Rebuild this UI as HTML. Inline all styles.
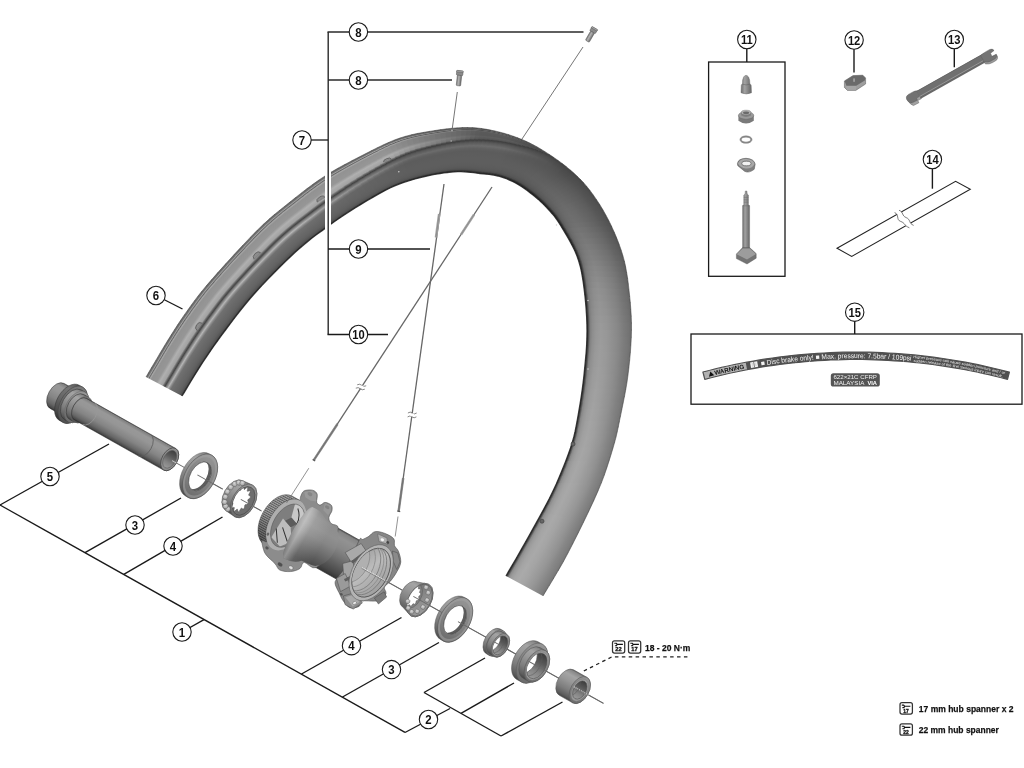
<!DOCTYPE html>
<html><head><meta charset="utf-8"><title>Wheel exploded view</title>
<style>
html,body{margin:0;padding:0;background:#fff;}
body{width:1024px;height:768px;overflow:hidden;font-family:"Liberation Sans",sans-serif;}
svg{display:block}
text{font-family:"Liberation Sans",sans-serif;}

</style></head><body>
<svg width="1024" height="768" viewBox="0 0 1024 768">
<defs>
<filter id="nf" filterUnits="userSpaceOnUse" x="0" y="0" width="1024" height="768" color-interpolation-filters="sRGB"><feOffset dx="0" dy="0"/></filter>
<linearGradient id="r0" gradientUnits="userSpaceOnUse" x1="147.2" y1="374.9" x2="182.1" y2="395.8"><stop offset="0.000" stop-color="#5c5c5c"/><stop offset="0.036" stop-color="#747474"/><stop offset="0.060" stop-color="#a2a2a2"/><stop offset="0.081" stop-color="#666666"/><stop offset="0.106" stop-color="#a8a8a8"/><stop offset="0.140" stop-color="#929292"/><stop offset="0.286" stop-color="#969696"/><stop offset="0.353" stop-color="#b0b0b0"/><stop offset="0.449" stop-color="#a2a2a2"/><stop offset="0.488" stop-color="#646464"/><stop offset="0.519" stop-color="#464646"/><stop offset="0.519" stop-color="#464646"/><stop offset="0.534" stop-color="#5c5c5c"/><stop offset="0.553" stop-color="#7a7a7a"/><stop offset="0.604" stop-color="#b6b6b6"/><stop offset="0.644" stop-color="#8a8a8a"/><stop offset="0.683" stop-color="#707070"/><stop offset="0.784" stop-color="#696969"/><stop offset="0.851" stop-color="#656565"/><stop offset="0.904" stop-color="#606060"/><stop offset="0.942" stop-color="#585858"/><stop offset="0.966" stop-color="#505050"/><stop offset="0.983" stop-color="#3c3c3c"/><stop offset="1.000" stop-color="#2c2c2c"/></linearGradient>
<linearGradient id="r1" gradientUnits="userSpaceOnUse" x1="150.1" y1="370" x2="185.1" y2="390.9"><stop offset="0.000" stop-color="#5c5c5c"/><stop offset="0.036" stop-color="#747474"/><stop offset="0.060" stop-color="#a2a2a2"/><stop offset="0.080" stop-color="#666666"/><stop offset="0.106" stop-color="#a8a8a8"/><stop offset="0.140" stop-color="#929292"/><stop offset="0.285" stop-color="#969696"/><stop offset="0.352" stop-color="#b0b0b0"/><stop offset="0.448" stop-color="#a2a2a2"/><stop offset="0.487" stop-color="#646464"/><stop offset="0.518" stop-color="#464646"/><stop offset="0.518" stop-color="#464646"/><stop offset="0.533" stop-color="#5c5c5c"/><stop offset="0.552" stop-color="#7a7a7a"/><stop offset="0.603" stop-color="#b6b6b6"/><stop offset="0.644" stop-color="#8a8a8a"/><stop offset="0.682" stop-color="#707070"/><stop offset="0.783" stop-color="#696969"/><stop offset="0.851" stop-color="#656565"/><stop offset="0.904" stop-color="#606060"/><stop offset="0.942" stop-color="#585858"/><stop offset="0.966" stop-color="#505050"/><stop offset="0.983" stop-color="#3c3c3c"/><stop offset="1.000" stop-color="#2c2c2c"/></linearGradient>
<linearGradient id="r2" gradientUnits="userSpaceOnUse" x1="153.8" y1="363.8" x2="188.9" y2="384.7"><stop offset="0.000" stop-color="#5c5c5c"/><stop offset="0.036" stop-color="#747474"/><stop offset="0.059" stop-color="#a2a2a2"/><stop offset="0.080" stop-color="#666666"/><stop offset="0.106" stop-color="#a8a8a8"/><stop offset="0.140" stop-color="#929292"/><stop offset="0.284" stop-color="#969696"/><stop offset="0.352" stop-color="#b0b0b0"/><stop offset="0.447" stop-color="#a2a2a2"/><stop offset="0.486" stop-color="#646464"/><stop offset="0.517" stop-color="#464646"/><stop offset="0.517" stop-color="#464646"/><stop offset="0.532" stop-color="#5c5c5c"/><stop offset="0.551" stop-color="#7a7a7a"/><stop offset="0.602" stop-color="#b6b6b6"/><stop offset="0.643" stop-color="#8a8a8a"/><stop offset="0.681" stop-color="#707070"/><stop offset="0.783" stop-color="#696969"/><stop offset="0.850" stop-color="#656565"/><stop offset="0.903" stop-color="#606060"/><stop offset="0.942" stop-color="#585858"/><stop offset="0.966" stop-color="#505050"/><stop offset="0.983" stop-color="#3c3c3c"/><stop offset="1.000" stop-color="#2c2c2c"/></linearGradient>
<linearGradient id="r3" gradientUnits="userSpaceOnUse" x1="157.9" y1="356.8" x2="193" y2="377.9"><stop offset="0.000" stop-color="#5c5c5c"/><stop offset="0.036" stop-color="#747474"/><stop offset="0.059" stop-color="#a2a2a2"/><stop offset="0.080" stop-color="#666666"/><stop offset="0.106" stop-color="#a8a8a8"/><stop offset="0.139" stop-color="#929292"/><stop offset="0.284" stop-color="#969696"/><stop offset="0.351" stop-color="#b0b0b0"/><stop offset="0.446" stop-color="#a2a2a2"/><stop offset="0.485" stop-color="#646464"/><stop offset="0.516" stop-color="#464646"/><stop offset="0.516" stop-color="#464646"/><stop offset="0.531" stop-color="#5c5c5c"/><stop offset="0.550" stop-color="#7a7a7a"/><stop offset="0.601" stop-color="#b6b6b6"/><stop offset="0.642" stop-color="#8a8a8a"/><stop offset="0.681" stop-color="#707070"/><stop offset="0.782" stop-color="#696969"/><stop offset="0.850" stop-color="#656565"/><stop offset="0.903" stop-color="#606060"/><stop offset="0.942" stop-color="#585858"/><stop offset="0.966" stop-color="#505050"/><stop offset="0.983" stop-color="#3c3c3c"/><stop offset="1.000" stop-color="#2c2c2c"/></linearGradient>
<linearGradient id="r4" gradientUnits="userSpaceOnUse" x1="162.1" y1="349.7" x2="197.2" y2="371.1"><stop offset="0.000" stop-color="#5c5c5c"/><stop offset="0.036" stop-color="#747474"/><stop offset="0.059" stop-color="#a2a2a2"/><stop offset="0.080" stop-color="#666666"/><stop offset="0.106" stop-color="#a8a8a8"/><stop offset="0.139" stop-color="#929292"/><stop offset="0.283" stop-color="#969696"/><stop offset="0.350" stop-color="#b0b0b0"/><stop offset="0.445" stop-color="#a2a2a2"/><stop offset="0.484" stop-color="#646464"/><stop offset="0.515" stop-color="#464646"/><stop offset="0.515" stop-color="#464646"/><stop offset="0.530" stop-color="#5c5c5c"/><stop offset="0.549" stop-color="#7a7a7a"/><stop offset="0.600" stop-color="#b6b6b6"/><stop offset="0.641" stop-color="#8a8a8a"/><stop offset="0.680" stop-color="#707070"/><stop offset="0.782" stop-color="#696969"/><stop offset="0.850" stop-color="#656565"/><stop offset="0.903" stop-color="#606060"/><stop offset="0.942" stop-color="#585858"/><stop offset="0.966" stop-color="#505050"/><stop offset="0.983" stop-color="#3c3c3c"/><stop offset="1.000" stop-color="#2c2c2c"/></linearGradient>
<linearGradient id="r5" gradientUnits="userSpaceOnUse" x1="166.1" y1="343.1" x2="201" y2="365"><stop offset="0.000" stop-color="#5c5c5c"/><stop offset="0.036" stop-color="#747474"/><stop offset="0.059" stop-color="#a2a2a2"/><stop offset="0.080" stop-color="#666666"/><stop offset="0.105" stop-color="#a8a8a8"/><stop offset="0.139" stop-color="#929292"/><stop offset="0.283" stop-color="#969696"/><stop offset="0.349" stop-color="#b0b0b0"/><stop offset="0.445" stop-color="#a2a2a2"/><stop offset="0.483" stop-color="#646464"/><stop offset="0.514" stop-color="#464646"/><stop offset="0.514" stop-color="#464646"/><stop offset="0.528" stop-color="#5c5c5c"/><stop offset="0.548" stop-color="#7a7a7a"/><stop offset="0.599" stop-color="#b6b6b6"/><stop offset="0.640" stop-color="#8a8a8a"/><stop offset="0.679" stop-color="#707070"/><stop offset="0.781" stop-color="#696969"/><stop offset="0.849" stop-color="#656565"/><stop offset="0.903" stop-color="#606060"/><stop offset="0.942" stop-color="#585858"/><stop offset="0.966" stop-color="#505050"/><stop offset="0.983" stop-color="#3c3c3c"/><stop offset="1.000" stop-color="#2c2c2c"/></linearGradient>
<linearGradient id="r6" gradientUnits="userSpaceOnUse" x1="169.7" y1="337.3" x2="204.5" y2="359.8"><stop offset="0.000" stop-color="#5c5c5c"/><stop offset="0.036" stop-color="#747474"/><stop offset="0.059" stop-color="#a2a2a2"/><stop offset="0.079" stop-color="#666666"/><stop offset="0.105" stop-color="#a8a8a8"/><stop offset="0.138" stop-color="#929292"/><stop offset="0.282" stop-color="#969696"/><stop offset="0.349" stop-color="#b0b0b0"/><stop offset="0.444" stop-color="#a2a2a2"/><stop offset="0.482" stop-color="#646464"/><stop offset="0.513" stop-color="#464646"/><stop offset="0.513" stop-color="#464646"/><stop offset="0.527" stop-color="#5c5c5c"/><stop offset="0.547" stop-color="#7a7a7a"/><stop offset="0.598" stop-color="#b6b6b6"/><stop offset="0.639" stop-color="#8a8a8a"/><stop offset="0.678" stop-color="#707070"/><stop offset="0.781" stop-color="#696969"/><stop offset="0.849" stop-color="#656565"/><stop offset="0.903" stop-color="#606060"/><stop offset="0.942" stop-color="#585858"/><stop offset="0.966" stop-color="#505050"/><stop offset="0.983" stop-color="#3c3c3c"/><stop offset="1.000" stop-color="#2c2c2c"/></linearGradient>
<linearGradient id="r7" gradientUnits="userSpaceOnUse" x1="173" y1="332" x2="207.8" y2="354.9"><stop offset="0.000" stop-color="#5c5c5c"/><stop offset="0.036" stop-color="#747474"/><stop offset="0.059" stop-color="#a2a2a2"/><stop offset="0.079" stop-color="#666666"/><stop offset="0.105" stop-color="#a8a8a8"/><stop offset="0.138" stop-color="#929292"/><stop offset="0.281" stop-color="#969696"/><stop offset="0.348" stop-color="#b0b0b0"/><stop offset="0.443" stop-color="#a2a2a2"/><stop offset="0.481" stop-color="#646464"/><stop offset="0.512" stop-color="#464646"/><stop offset="0.512" stop-color="#464646"/><stop offset="0.526" stop-color="#5c5c5c"/><stop offset="0.546" stop-color="#7a7a7a"/><stop offset="0.597" stop-color="#b6b6b6"/><stop offset="0.639" stop-color="#8a8a8a"/><stop offset="0.678" stop-color="#707070"/><stop offset="0.780" stop-color="#696969"/><stop offset="0.849" stop-color="#656565"/><stop offset="0.902" stop-color="#606060"/><stop offset="0.941" stop-color="#585858"/><stop offset="0.966" stop-color="#505050"/><stop offset="0.983" stop-color="#3c3c3c"/><stop offset="1.000" stop-color="#2c2c2c"/></linearGradient>
<linearGradient id="r8" gradientUnits="userSpaceOnUse" x1="176.2" y1="327" x2="210.9" y2="350.3"><stop offset="0.000" stop-color="#5c5c5c"/><stop offset="0.036" stop-color="#747474"/><stop offset="0.059" stop-color="#a2a2a2"/><stop offset="0.079" stop-color="#666666"/><stop offset="0.105" stop-color="#a8a8a8"/><stop offset="0.138" stop-color="#929292"/><stop offset="0.281" stop-color="#969696"/><stop offset="0.347" stop-color="#b0b0b0"/><stop offset="0.442" stop-color="#a2a2a2"/><stop offset="0.480" stop-color="#646464"/><stop offset="0.511" stop-color="#464646"/><stop offset="0.511" stop-color="#464646"/><stop offset="0.525" stop-color="#5c5c5c"/><stop offset="0.545" stop-color="#7a7a7a"/><stop offset="0.596" stop-color="#b6b6b6"/><stop offset="0.638" stop-color="#8a8a8a"/><stop offset="0.677" stop-color="#707070"/><stop offset="0.780" stop-color="#696969"/><stop offset="0.848" stop-color="#656565"/><stop offset="0.902" stop-color="#606060"/><stop offset="0.941" stop-color="#585858"/><stop offset="0.966" stop-color="#505050"/><stop offset="0.983" stop-color="#3c3c3c"/><stop offset="1.000" stop-color="#2c2c2c"/></linearGradient>
<linearGradient id="r9" gradientUnits="userSpaceOnUse" x1="179.4" y1="322.2" x2="214" y2="345.9"><stop offset="0.000" stop-color="#5c5c5c"/><stop offset="0.036" stop-color="#747474"/><stop offset="0.059" stop-color="#a2a2a2"/><stop offset="0.079" stop-color="#666666"/><stop offset="0.104" stop-color="#a8a8a8"/><stop offset="0.138" stop-color="#929292"/><stop offset="0.280" stop-color="#969696"/><stop offset="0.346" stop-color="#b0b0b0"/><stop offset="0.441" stop-color="#a2a2a2"/><stop offset="0.479" stop-color="#646464"/><stop offset="0.509" stop-color="#464646"/><stop offset="0.509" stop-color="#464646"/><stop offset="0.524" stop-color="#5c5c5c"/><stop offset="0.544" stop-color="#7a7a7a"/><stop offset="0.595" stop-color="#b6b6b6"/><stop offset="0.637" stop-color="#8a8a8a"/><stop offset="0.676" stop-color="#707070"/><stop offset="0.779" stop-color="#696969"/><stop offset="0.848" stop-color="#656565"/><stop offset="0.902" stop-color="#606060"/><stop offset="0.941" stop-color="#585858"/><stop offset="0.966" stop-color="#505050"/><stop offset="0.983" stop-color="#3c3c3c"/><stop offset="1.000" stop-color="#2c2c2c"/></linearGradient>
<linearGradient id="r10" gradientUnits="userSpaceOnUse" x1="182.7" y1="317.3" x2="217" y2="341.6"><stop offset="0.000" stop-color="#5c5c5c"/><stop offset="0.036" stop-color="#747474"/><stop offset="0.058" stop-color="#a2a2a2"/><stop offset="0.079" stop-color="#666666"/><stop offset="0.104" stop-color="#a8a8a8"/><stop offset="0.137" stop-color="#929292"/><stop offset="0.280" stop-color="#969696"/><stop offset="0.346" stop-color="#b0b0b0"/><stop offset="0.440" stop-color="#a2a2a2"/><stop offset="0.478" stop-color="#646464"/><stop offset="0.508" stop-color="#464646"/><stop offset="0.508" stop-color="#464646"/><stop offset="0.523" stop-color="#5c5c5c"/><stop offset="0.543" stop-color="#7a7a7a"/><stop offset="0.594" stop-color="#b6b6b6"/><stop offset="0.636" stop-color="#8a8a8a"/><stop offset="0.675" stop-color="#707070"/><stop offset="0.779" stop-color="#696969"/><stop offset="0.848" stop-color="#656565"/><stop offset="0.902" stop-color="#606060"/><stop offset="0.941" stop-color="#585858"/><stop offset="0.966" stop-color="#505050"/><stop offset="0.983" stop-color="#3c3c3c"/><stop offset="1.000" stop-color="#2c2c2c"/></linearGradient>
<linearGradient id="r11" gradientUnits="userSpaceOnUse" x1="186.1" y1="312.5" x2="220.1" y2="337.3"><stop offset="0.000" stop-color="#5c5c5c"/><stop offset="0.036" stop-color="#747474"/><stop offset="0.058" stop-color="#a2a2a2"/><stop offset="0.079" stop-color="#666666"/><stop offset="0.104" stop-color="#a8a8a8"/><stop offset="0.137" stop-color="#929292"/><stop offset="0.279" stop-color="#969696"/><stop offset="0.345" stop-color="#b0b0b0"/><stop offset="0.439" stop-color="#a2a2a2"/><stop offset="0.477" stop-color="#646464"/><stop offset="0.507" stop-color="#464646"/><stop offset="0.507" stop-color="#464646"/><stop offset="0.522" stop-color="#5c5c5c"/><stop offset="0.542" stop-color="#7a7a7a"/><stop offset="0.593" stop-color="#b6b6b6"/><stop offset="0.635" stop-color="#8a8a8a"/><stop offset="0.675" stop-color="#707070"/><stop offset="0.778" stop-color="#696969"/><stop offset="0.847" stop-color="#656565"/><stop offset="0.901" stop-color="#606060"/><stop offset="0.941" stop-color="#585858"/><stop offset="0.966" stop-color="#505050"/><stop offset="0.983" stop-color="#3c3c3c"/><stop offset="1.000" stop-color="#2c2c2c"/></linearGradient>
<linearGradient id="r12" gradientUnits="userSpaceOnUse" x1="189.5" y1="307.6" x2="223.5" y2="332.7"><stop offset="0.000" stop-color="#5c5c5c"/><stop offset="0.035" stop-color="#747474"/><stop offset="0.058" stop-color="#a2a2a2"/><stop offset="0.078" stop-color="#666666"/><stop offset="0.104" stop-color="#a8a8a8"/><stop offset="0.137" stop-color="#929292"/><stop offset="0.278" stop-color="#969696"/><stop offset="0.344" stop-color="#b0b0b0"/><stop offset="0.438" stop-color="#a2a2a2"/><stop offset="0.476" stop-color="#646464"/><stop offset="0.506" stop-color="#464646"/><stop offset="0.506" stop-color="#464646"/><stop offset="0.521" stop-color="#5c5c5c"/><stop offset="0.541" stop-color="#7a7a7a"/><stop offset="0.593" stop-color="#b6b6b6"/><stop offset="0.635" stop-color="#8a8a8a"/><stop offset="0.674" stop-color="#707070"/><stop offset="0.778" stop-color="#696969"/><stop offset="0.847" stop-color="#656565"/><stop offset="0.901" stop-color="#606060"/><stop offset="0.941" stop-color="#585858"/><stop offset="0.965" stop-color="#505050"/><stop offset="0.983" stop-color="#3c3c3c"/><stop offset="1.000" stop-color="#2c2c2c"/></linearGradient>
<linearGradient id="r13" gradientUnits="userSpaceOnUse" x1="192.9" y1="303" x2="226.9" y2="328.3"><stop offset="0.000" stop-color="#5c5c5c"/><stop offset="0.035" stop-color="#747474"/><stop offset="0.058" stop-color="#a2a2a2"/><stop offset="0.078" stop-color="#666666"/><stop offset="0.104" stop-color="#a8a8a8"/><stop offset="0.136" stop-color="#929292"/><stop offset="0.278" stop-color="#969696"/><stop offset="0.343" stop-color="#b0b0b0"/><stop offset="0.437" stop-color="#a2a2a2"/><stop offset="0.475" stop-color="#646464"/><stop offset="0.505" stop-color="#464646"/><stop offset="0.505" stop-color="#464646"/><stop offset="0.520" stop-color="#5c5c5c"/><stop offset="0.540" stop-color="#7a7a7a"/><stop offset="0.592" stop-color="#b6b6b6"/><stop offset="0.634" stop-color="#8a8a8a"/><stop offset="0.673" stop-color="#707070"/><stop offset="0.777" stop-color="#696969"/><stop offset="0.847" stop-color="#656565"/><stop offset="0.901" stop-color="#606060"/><stop offset="0.941" stop-color="#585858"/><stop offset="0.965" stop-color="#505050"/><stop offset="0.983" stop-color="#3c3c3c"/><stop offset="1.000" stop-color="#2c2c2c"/></linearGradient>
<linearGradient id="r14" gradientUnits="userSpaceOnUse" x1="196.2" y1="298.5" x2="229.9" y2="324.2"><stop offset="0.000" stop-color="#5c5c5c"/><stop offset="0.035" stop-color="#747474"/><stop offset="0.058" stop-color="#a2a2a2"/><stop offset="0.078" stop-color="#666666"/><stop offset="0.103" stop-color="#a8a8a8"/><stop offset="0.136" stop-color="#929292"/><stop offset="0.277" stop-color="#969696"/><stop offset="0.343" stop-color="#b0b0b0"/><stop offset="0.436" stop-color="#a2a2a2"/><stop offset="0.474" stop-color="#646464"/><stop offset="0.504" stop-color="#464646"/><stop offset="0.504" stop-color="#464646"/><stop offset="0.519" stop-color="#5c5c5c"/><stop offset="0.539" stop-color="#7a7a7a"/><stop offset="0.591" stop-color="#b6b6b6"/><stop offset="0.633" stop-color="#8a8a8a"/><stop offset="0.673" stop-color="#707070"/><stop offset="0.777" stop-color="#696969"/><stop offset="0.846" stop-color="#656565"/><stop offset="0.901" stop-color="#606060"/><stop offset="0.940" stop-color="#585858"/><stop offset="0.965" stop-color="#505050"/><stop offset="0.983" stop-color="#3c3c3c"/><stop offset="1.000" stop-color="#2c2c2c"/></linearGradient>
<linearGradient id="r15" gradientUnits="userSpaceOnUse" x1="199.8" y1="293.9" x2="232.8" y2="320"><stop offset="0.000" stop-color="#5c5c5c"/><stop offset="0.035" stop-color="#747474"/><stop offset="0.058" stop-color="#a2a2a2"/><stop offset="0.078" stop-color="#666666"/><stop offset="0.103" stop-color="#a8a8a8"/><stop offset="0.136" stop-color="#929292"/><stop offset="0.277" stop-color="#969696"/><stop offset="0.342" stop-color="#b0b0b0"/><stop offset="0.435" stop-color="#a2a2a2"/><stop offset="0.473" stop-color="#646464"/><stop offset="0.503" stop-color="#464646"/><stop offset="0.503" stop-color="#464646"/><stop offset="0.518" stop-color="#5c5c5c"/><stop offset="0.538" stop-color="#7a7a7a"/><stop offset="0.590" stop-color="#b6b6b6"/><stop offset="0.632" stop-color="#8a8a8a"/><stop offset="0.672" stop-color="#707070"/><stop offset="0.776" stop-color="#696969"/><stop offset="0.846" stop-color="#656565"/><stop offset="0.901" stop-color="#606060"/><stop offset="0.940" stop-color="#585858"/><stop offset="0.965" stop-color="#505050"/><stop offset="0.983" stop-color="#3c3c3c"/><stop offset="1.000" stop-color="#2c2c2c"/></linearGradient>
<linearGradient id="r16" gradientUnits="userSpaceOnUse" x1="203.8" y1="288.8" x2="236.1" y2="315.5"><stop offset="0.000" stop-color="#5c5c5c"/><stop offset="0.035" stop-color="#747474"/><stop offset="0.058" stop-color="#a2a2a2"/><stop offset="0.078" stop-color="#666666"/><stop offset="0.103" stop-color="#a8a8a8"/><stop offset="0.135" stop-color="#929292"/><stop offset="0.276" stop-color="#969696"/><stop offset="0.341" stop-color="#b0b0b0"/><stop offset="0.434" stop-color="#a2a2a2"/><stop offset="0.472" stop-color="#646464"/><stop offset="0.502" stop-color="#464646"/><stop offset="0.502" stop-color="#464646"/><stop offset="0.517" stop-color="#5c5c5c"/><stop offset="0.537" stop-color="#7a7a7a"/><stop offset="0.589" stop-color="#b6b6b6"/><stop offset="0.631" stop-color="#8a8a8a"/><stop offset="0.671" stop-color="#707070"/><stop offset="0.776" stop-color="#696969"/><stop offset="0.846" stop-color="#656565"/><stop offset="0.900" stop-color="#606060"/><stop offset="0.940" stop-color="#585858"/><stop offset="0.965" stop-color="#505050"/><stop offset="0.983" stop-color="#3c3c3c"/><stop offset="1.000" stop-color="#2c2c2c"/></linearGradient>
<linearGradient id="r17" gradientUnits="userSpaceOnUse" x1="208.7" y1="283.1" x2="240.1" y2="310.2"><stop offset="0.000" stop-color="#5c5c5c"/><stop offset="0.035" stop-color="#747474"/><stop offset="0.058" stop-color="#a2a2a2"/><stop offset="0.078" stop-color="#666666"/><stop offset="0.103" stop-color="#a8a8a8"/><stop offset="0.135" stop-color="#929292"/><stop offset="0.275" stop-color="#969696"/><stop offset="0.340" stop-color="#b0b0b0"/><stop offset="0.433" stop-color="#a2a2a2"/><stop offset="0.471" stop-color="#646464"/><stop offset="0.501" stop-color="#464646"/><stop offset="0.501" stop-color="#464646"/><stop offset="0.516" stop-color="#5c5c5c"/><stop offset="0.536" stop-color="#7a7a7a"/><stop offset="0.588" stop-color="#b6b6b6"/><stop offset="0.630" stop-color="#8a8a8a"/><stop offset="0.670" stop-color="#707070"/><stop offset="0.775" stop-color="#696969"/><stop offset="0.845" stop-color="#656565"/><stop offset="0.900" stop-color="#606060"/><stop offset="0.940" stop-color="#585858"/><stop offset="0.965" stop-color="#505050"/><stop offset="0.983" stop-color="#3c3c3c"/><stop offset="1.000" stop-color="#2c2c2c"/></linearGradient>
<linearGradient id="r18" gradientUnits="userSpaceOnUse" x1="214.6" y1="276.3" x2="245.3" y2="303.9"><stop offset="0.000" stop-color="#5c5c5c"/><stop offset="0.035" stop-color="#747474"/><stop offset="0.058" stop-color="#a2a2a2"/><stop offset="0.077" stop-color="#666666"/><stop offset="0.102" stop-color="#a8a8a8"/><stop offset="0.135" stop-color="#929292"/><stop offset="0.275" stop-color="#969696"/><stop offset="0.340" stop-color="#b0b0b0"/><stop offset="0.432" stop-color="#a2a2a2"/><stop offset="0.470" stop-color="#646464"/><stop offset="0.500" stop-color="#464646"/><stop offset="0.500" stop-color="#464646"/><stop offset="0.515" stop-color="#5c5c5c"/><stop offset="0.535" stop-color="#7a7a7a"/><stop offset="0.588" stop-color="#b6b6b6"/><stop offset="0.630" stop-color="#8a8a8a"/><stop offset="0.670" stop-color="#707070"/><stop offset="0.775" stop-color="#696969"/><stop offset="0.845" stop-color="#656565"/><stop offset="0.900" stop-color="#606060"/><stop offset="0.940" stop-color="#585858"/><stop offset="0.965" stop-color="#505050"/><stop offset="0.982" stop-color="#3c3c3c"/><stop offset="1.000" stop-color="#2c2c2c"/></linearGradient>
<linearGradient id="r19" gradientUnits="userSpaceOnUse" x1="221.7" y1="268.3" x2="252.1" y2="296.3"><stop offset="0.000" stop-color="#5c5c5c"/><stop offset="0.035" stop-color="#747474"/><stop offset="0.058" stop-color="#a2a2a2"/><stop offset="0.077" stop-color="#666666"/><stop offset="0.102" stop-color="#a8a8a8"/><stop offset="0.135" stop-color="#929292"/><stop offset="0.275" stop-color="#969696"/><stop offset="0.340" stop-color="#b0b0b0"/><stop offset="0.432" stop-color="#a2a2a2"/><stop offset="0.470" stop-color="#646464"/><stop offset="0.500" stop-color="#464646"/><stop offset="0.500" stop-color="#464646"/><stop offset="0.515" stop-color="#5c5c5c"/><stop offset="0.535" stop-color="#7a7a7a"/><stop offset="0.588" stop-color="#b6b6b6"/><stop offset="0.630" stop-color="#8a8a8a"/><stop offset="0.670" stop-color="#707070"/><stop offset="0.775" stop-color="#696969"/><stop offset="0.845" stop-color="#656565"/><stop offset="0.900" stop-color="#606060"/><stop offset="0.940" stop-color="#585858"/><stop offset="0.965" stop-color="#505050"/><stop offset="0.982" stop-color="#3c3c3c"/><stop offset="1.000" stop-color="#2c2c2c"/></linearGradient>
<linearGradient id="r20" gradientUnits="userSpaceOnUse" x1="229.7" y1="259.4" x2="259.9" y2="287.8"><stop offset="0.000" stop-color="#5c5c5c"/><stop offset="0.035" stop-color="#747474"/><stop offset="0.058" stop-color="#a2a2a2"/><stop offset="0.077" stop-color="#666666"/><stop offset="0.102" stop-color="#a8a8a8"/><stop offset="0.135" stop-color="#929292"/><stop offset="0.275" stop-color="#969696"/><stop offset="0.340" stop-color="#b0b0b0"/><stop offset="0.432" stop-color="#a2a2a2"/><stop offset="0.470" stop-color="#646464"/><stop offset="0.500" stop-color="#464646"/><stop offset="0.500" stop-color="#464646"/><stop offset="0.515" stop-color="#5c5c5c"/><stop offset="0.535" stop-color="#7a7a7a"/><stop offset="0.588" stop-color="#b6b6b6"/><stop offset="0.630" stop-color="#8a8a8a"/><stop offset="0.670" stop-color="#707070"/><stop offset="0.775" stop-color="#696969"/><stop offset="0.845" stop-color="#656565"/><stop offset="0.900" stop-color="#606060"/><stop offset="0.940" stop-color="#585858"/><stop offset="0.965" stop-color="#505050"/><stop offset="0.982" stop-color="#3c3c3c"/><stop offset="1.000" stop-color="#2c2c2c"/></linearGradient>
<linearGradient id="r21" gradientUnits="userSpaceOnUse" x1="238.1" y1="250.3" x2="268.1" y2="279.2"><stop offset="0.000" stop-color="#5c5c5c"/><stop offset="0.035" stop-color="#747474"/><stop offset="0.058" stop-color="#a2a2a2"/><stop offset="0.077" stop-color="#666666"/><stop offset="0.102" stop-color="#a8a8a8"/><stop offset="0.135" stop-color="#929292"/><stop offset="0.275" stop-color="#969696"/><stop offset="0.340" stop-color="#b0b0b0"/><stop offset="0.432" stop-color="#a2a2a2"/><stop offset="0.470" stop-color="#646464"/><stop offset="0.500" stop-color="#464646"/><stop offset="0.500" stop-color="#464646"/><stop offset="0.515" stop-color="#5c5c5c"/><stop offset="0.535" stop-color="#7a7a7a"/><stop offset="0.588" stop-color="#b6b6b6"/><stop offset="0.630" stop-color="#8a8a8a"/><stop offset="0.670" stop-color="#707070"/><stop offset="0.775" stop-color="#696969"/><stop offset="0.845" stop-color="#656565"/><stop offset="0.900" stop-color="#606060"/><stop offset="0.940" stop-color="#585858"/><stop offset="0.965" stop-color="#505050"/><stop offset="0.982" stop-color="#3c3c3c"/><stop offset="1.000" stop-color="#2c2c2c"/></linearGradient>
<linearGradient id="r22" gradientUnits="userSpaceOnUse" x1="246.3" y1="241.5" x2="276.2" y2="271"><stop offset="0.000" stop-color="#5c5c5c"/><stop offset="0.035" stop-color="#747474"/><stop offset="0.058" stop-color="#a2a2a2"/><stop offset="0.077" stop-color="#666666"/><stop offset="0.102" stop-color="#a8a8a8"/><stop offset="0.135" stop-color="#929292"/><stop offset="0.275" stop-color="#969696"/><stop offset="0.340" stop-color="#b0b0b0"/><stop offset="0.432" stop-color="#a2a2a2"/><stop offset="0.470" stop-color="#646464"/><stop offset="0.500" stop-color="#464646"/><stop offset="0.500" stop-color="#464646"/><stop offset="0.515" stop-color="#5c5c5c"/><stop offset="0.535" stop-color="#7a7a7a"/><stop offset="0.588" stop-color="#b6b6b6"/><stop offset="0.630" stop-color="#8a8a8a"/><stop offset="0.670" stop-color="#707070"/><stop offset="0.775" stop-color="#696969"/><stop offset="0.845" stop-color="#656565"/><stop offset="0.900" stop-color="#606060"/><stop offset="0.940" stop-color="#585858"/><stop offset="0.965" stop-color="#505050"/><stop offset="0.982" stop-color="#3c3c3c"/><stop offset="1.000" stop-color="#2c2c2c"/></linearGradient>
<linearGradient id="r23" gradientUnits="userSpaceOnUse" x1="253.9" y1="233.6" x2="283.4" y2="263.7"><stop offset="0.000" stop-color="#5c5c5c"/><stop offset="0.035" stop-color="#747474"/><stop offset="0.058" stop-color="#a2a2a2"/><stop offset="0.077" stop-color="#666666"/><stop offset="0.102" stop-color="#a8a8a8"/><stop offset="0.135" stop-color="#929292"/><stop offset="0.275" stop-color="#969696"/><stop offset="0.340" stop-color="#b0b0b0"/><stop offset="0.432" stop-color="#a2a2a2"/><stop offset="0.470" stop-color="#646464"/><stop offset="0.500" stop-color="#464646"/><stop offset="0.500" stop-color="#464646"/><stop offset="0.515" stop-color="#5c5c5c"/><stop offset="0.535" stop-color="#7a7a7a"/><stop offset="0.588" stop-color="#b6b6b6"/><stop offset="0.630" stop-color="#8a8a8a"/><stop offset="0.670" stop-color="#707070"/><stop offset="0.775" stop-color="#696969"/><stop offset="0.845" stop-color="#656565"/><stop offset="0.900" stop-color="#606060"/><stop offset="0.940" stop-color="#585858"/><stop offset="0.965" stop-color="#505050"/><stop offset="0.982" stop-color="#3c3c3c"/><stop offset="1.000" stop-color="#2c2c2c"/></linearGradient>
<linearGradient id="r24" gradientUnits="userSpaceOnUse" x1="260.6" y1="227" x2="289.2" y2="257.9"><stop offset="0.000" stop-color="#5c5c5c"/><stop offset="0.035" stop-color="#747474"/><stop offset="0.058" stop-color="#a2a2a2"/><stop offset="0.077" stop-color="#666666"/><stop offset="0.102" stop-color="#a8a8a8"/><stop offset="0.135" stop-color="#929292"/><stop offset="0.275" stop-color="#969696"/><stop offset="0.340" stop-color="#b0b0b0"/><stop offset="0.432" stop-color="#a2a2a2"/><stop offset="0.470" stop-color="#646464"/><stop offset="0.500" stop-color="#464646"/><stop offset="0.500" stop-color="#464646"/><stop offset="0.515" stop-color="#5c5c5c"/><stop offset="0.535" stop-color="#7a7a7a"/><stop offset="0.588" stop-color="#b6b6b6"/><stop offset="0.630" stop-color="#8a8a8a"/><stop offset="0.670" stop-color="#707070"/><stop offset="0.775" stop-color="#696969"/><stop offset="0.845" stop-color="#656565"/><stop offset="0.900" stop-color="#606060"/><stop offset="0.940" stop-color="#585858"/><stop offset="0.965" stop-color="#505050"/><stop offset="0.982" stop-color="#3c3c3c"/><stop offset="1.000" stop-color="#2c2c2c"/></linearGradient>
<linearGradient id="r25" gradientUnits="userSpaceOnUse" x1="266.5" y1="221.5" x2="294.1" y2="253.2"><stop offset="0.000" stop-color="#5c5c5c"/><stop offset="0.035" stop-color="#747474"/><stop offset="0.058" stop-color="#a2a2a2"/><stop offset="0.077" stop-color="#666666"/><stop offset="0.102" stop-color="#a8a8a8"/><stop offset="0.135" stop-color="#929292"/><stop offset="0.275" stop-color="#969696"/><stop offset="0.340" stop-color="#b0b0b0"/><stop offset="0.432" stop-color="#a2a2a2"/><stop offset="0.470" stop-color="#646464"/><stop offset="0.500" stop-color="#464646"/><stop offset="0.500" stop-color="#464646"/><stop offset="0.515" stop-color="#5c5c5c"/><stop offset="0.535" stop-color="#7a7a7a"/><stop offset="0.588" stop-color="#b6b6b6"/><stop offset="0.630" stop-color="#8a8a8a"/><stop offset="0.670" stop-color="#707070"/><stop offset="0.775" stop-color="#696969"/><stop offset="0.845" stop-color="#656565"/><stop offset="0.900" stop-color="#606060"/><stop offset="0.940" stop-color="#585858"/><stop offset="0.965" stop-color="#505050"/><stop offset="0.982" stop-color="#3c3c3c"/><stop offset="1.000" stop-color="#2c2c2c"/></linearGradient>
<linearGradient id="r26" gradientUnits="userSpaceOnUse" x1="271.9" y1="216.7" x2="298.5" y2="249.1"><stop offset="0.000" stop-color="#5c5c5c"/><stop offset="0.035" stop-color="#747474"/><stop offset="0.058" stop-color="#a2a2a2"/><stop offset="0.077" stop-color="#666666"/><stop offset="0.102" stop-color="#a8a8a8"/><stop offset="0.135" stop-color="#929292"/><stop offset="0.275" stop-color="#969696"/><stop offset="0.340" stop-color="#b0b0b0"/><stop offset="0.432" stop-color="#a2a2a2"/><stop offset="0.470" stop-color="#646464"/><stop offset="0.500" stop-color="#464646"/><stop offset="0.500" stop-color="#464646"/><stop offset="0.515" stop-color="#5c5c5c"/><stop offset="0.535" stop-color="#7a7a7a"/><stop offset="0.588" stop-color="#b6b6b6"/><stop offset="0.630" stop-color="#8a8a8a"/><stop offset="0.670" stop-color="#707070"/><stop offset="0.775" stop-color="#696969"/><stop offset="0.845" stop-color="#656565"/><stop offset="0.900" stop-color="#606060"/><stop offset="0.940" stop-color="#585858"/><stop offset="0.965" stop-color="#505050"/><stop offset="0.982" stop-color="#3c3c3c"/><stop offset="1.000" stop-color="#2c2c2c"/></linearGradient>
<linearGradient id="r27" gradientUnits="userSpaceOnUse" x1="277" y1="212.4" x2="302.8" y2="245.4"><stop offset="0.000" stop-color="#5c5c5c"/><stop offset="0.035" stop-color="#747474"/><stop offset="0.058" stop-color="#a2a2a2"/><stop offset="0.077" stop-color="#666666"/><stop offset="0.102" stop-color="#a8a8a8"/><stop offset="0.135" stop-color="#929292"/><stop offset="0.275" stop-color="#969696"/><stop offset="0.340" stop-color="#b0b0b0"/><stop offset="0.432" stop-color="#a2a2a2"/><stop offset="0.470" stop-color="#646464"/><stop offset="0.500" stop-color="#464646"/><stop offset="0.500" stop-color="#464646"/><stop offset="0.515" stop-color="#5c5c5c"/><stop offset="0.535" stop-color="#797979"/><stop offset="0.588" stop-color="#b4b4b4"/><stop offset="0.630" stop-color="#898989"/><stop offset="0.670" stop-color="#707070"/><stop offset="0.775" stop-color="#696969"/><stop offset="0.845" stop-color="#656565"/><stop offset="0.900" stop-color="#606060"/><stop offset="0.940" stop-color="#585858"/><stop offset="0.965" stop-color="#505050"/><stop offset="0.982" stop-color="#3c3c3c"/><stop offset="1.000" stop-color="#2c2c2c"/></linearGradient>
<linearGradient id="r28" gradientUnits="userSpaceOnUse" x1="282" y1="208.3" x2="307.6" y2="241.6"><stop offset="0.000" stop-color="#5c5c5c"/><stop offset="0.035" stop-color="#747474"/><stop offset="0.058" stop-color="#a2a2a2"/><stop offset="0.077" stop-color="#666666"/><stop offset="0.102" stop-color="#a8a8a8"/><stop offset="0.135" stop-color="#929292"/><stop offset="0.275" stop-color="#969696"/><stop offset="0.340" stop-color="#b0b0b0"/><stop offset="0.432" stop-color="#a2a2a2"/><stop offset="0.470" stop-color="#646464"/><stop offset="0.500" stop-color="#464646"/><stop offset="0.500" stop-color="#464646"/><stop offset="0.515" stop-color="#5b5b5b"/><stop offset="0.535" stop-color="#787878"/><stop offset="0.588" stop-color="#b1b1b1"/><stop offset="0.630" stop-color="#878787"/><stop offset="0.670" stop-color="#6f6f6f"/><stop offset="0.775" stop-color="#686868"/><stop offset="0.845" stop-color="#646464"/><stop offset="0.900" stop-color="#606060"/><stop offset="0.940" stop-color="#585858"/><stop offset="0.965" stop-color="#505050"/><stop offset="0.982" stop-color="#3c3c3c"/><stop offset="1.000" stop-color="#2c2c2c"/></linearGradient>
<linearGradient id="r29" gradientUnits="userSpaceOnUse" x1="287.3" y1="204.1" x2="312.9" y2="237.7"><stop offset="0.000" stop-color="#5c5c5c"/><stop offset="0.035" stop-color="#747474"/><stop offset="0.058" stop-color="#a2a2a2"/><stop offset="0.077" stop-color="#666666"/><stop offset="0.102" stop-color="#a8a8a8"/><stop offset="0.135" stop-color="#929292"/><stop offset="0.275" stop-color="#969696"/><stop offset="0.340" stop-color="#b0b0b0"/><stop offset="0.432" stop-color="#a2a2a2"/><stop offset="0.470" stop-color="#646464"/><stop offset="0.500" stop-color="#464646"/><stop offset="0.500" stop-color="#454545"/><stop offset="0.515" stop-color="#5a5a5a"/><stop offset="0.535" stop-color="#767676"/><stop offset="0.588" stop-color="#adadad"/><stop offset="0.630" stop-color="#858585"/><stop offset="0.670" stop-color="#6e6e6e"/><stop offset="0.775" stop-color="#686868"/><stop offset="0.845" stop-color="#646464"/><stop offset="0.900" stop-color="#606060"/><stop offset="0.940" stop-color="#585858"/><stop offset="0.965" stop-color="#505050"/><stop offset="0.982" stop-color="#3c3c3c"/><stop offset="1.000" stop-color="#2b2b2b"/></linearGradient>
<linearGradient id="r30" gradientUnits="userSpaceOnUse" x1="292.8" y1="199.8" x2="318.7" y2="233.5"><stop offset="0.000" stop-color="#5c5c5c"/><stop offset="0.035" stop-color="#747474"/><stop offset="0.058" stop-color="#a2a2a2"/><stop offset="0.077" stop-color="#666666"/><stop offset="0.102" stop-color="#a8a8a8"/><stop offset="0.135" stop-color="#929292"/><stop offset="0.275" stop-color="#969696"/><stop offset="0.340" stop-color="#b0b0b0"/><stop offset="0.432" stop-color="#a2a2a2"/><stop offset="0.470" stop-color="#646464"/><stop offset="0.500" stop-color="#464646"/><stop offset="0.500" stop-color="#454545"/><stop offset="0.515" stop-color="#595959"/><stop offset="0.535" stop-color="#747474"/><stop offset="0.588" stop-color="#aaaaaa"/><stop offset="0.630" stop-color="#838383"/><stop offset="0.670" stop-color="#6d6d6d"/><stop offset="0.775" stop-color="#676767"/><stop offset="0.845" stop-color="#646464"/><stop offset="0.900" stop-color="#5f5f5f"/><stop offset="0.940" stop-color="#585858"/><stop offset="0.965" stop-color="#505050"/><stop offset="0.982" stop-color="#3b3b3b"/><stop offset="1.000" stop-color="#2b2b2b"/></linearGradient>
<linearGradient id="r31" gradientUnits="userSpaceOnUse" x1="298.5" y1="195.3" x2="324.2" y2="229.3"><stop offset="0.000" stop-color="#5c5c5c"/><stop offset="0.035" stop-color="#747474"/><stop offset="0.058" stop-color="#a2a2a2"/><stop offset="0.077" stop-color="#666666"/><stop offset="0.102" stop-color="#a8a8a8"/><stop offset="0.135" stop-color="#929292"/><stop offset="0.275" stop-color="#969696"/><stop offset="0.340" stop-color="#b0b0b0"/><stop offset="0.432" stop-color="#a2a2a2"/><stop offset="0.470" stop-color="#646464"/><stop offset="0.500" stop-color="#464646"/><stop offset="0.500" stop-color="#454545"/><stop offset="0.515" stop-color="#585858"/><stop offset="0.535" stop-color="#737373"/><stop offset="0.588" stop-color="#a6a6a6"/><stop offset="0.630" stop-color="#818181"/><stop offset="0.670" stop-color="#6c6c6c"/><stop offset="0.775" stop-color="#676767"/><stop offset="0.845" stop-color="#646464"/><stop offset="0.900" stop-color="#5f5f5f"/><stop offset="0.940" stop-color="#585858"/><stop offset="0.965" stop-color="#505050"/><stop offset="0.982" stop-color="#3b3b3b"/><stop offset="1.000" stop-color="#2b2b2b"/></linearGradient>
<linearGradient id="r32" gradientUnits="userSpaceOnUse" x1="304.2" y1="190.8" x2="329.5" y2="225.4"><stop offset="0.000" stop-color="#5c5c5c"/><stop offset="0.035" stop-color="#747474"/><stop offset="0.058" stop-color="#a2a2a2"/><stop offset="0.077" stop-color="#666666"/><stop offset="0.102" stop-color="#a8a8a8"/><stop offset="0.135" stop-color="#929292"/><stop offset="0.275" stop-color="#969696"/><stop offset="0.340" stop-color="#b0b0b0"/><stop offset="0.432" stop-color="#a2a2a2"/><stop offset="0.470" stop-color="#646464"/><stop offset="0.500" stop-color="#464646"/><stop offset="0.500" stop-color="#444444"/><stop offset="0.515" stop-color="#575757"/><stop offset="0.535" stop-color="#717171"/><stop offset="0.588" stop-color="#a3a3a3"/><stop offset="0.630" stop-color="#7f7f7f"/><stop offset="0.670" stop-color="#6b6b6b"/><stop offset="0.775" stop-color="#666666"/><stop offset="0.845" stop-color="#636363"/><stop offset="0.900" stop-color="#5f5f5f"/><stop offset="0.940" stop-color="#585858"/><stop offset="0.965" stop-color="#505050"/><stop offset="0.982" stop-color="#3b3b3b"/><stop offset="1.000" stop-color="#2a2a2a"/></linearGradient>
<linearGradient id="r33" gradientUnits="userSpaceOnUse" x1="310" y1="186.5" x2="334.8" y2="221.5"><stop offset="0.000" stop-color="#5c5c5c"/><stop offset="0.035" stop-color="#747474"/><stop offset="0.058" stop-color="#a2a2a2"/><stop offset="0.077" stop-color="#666666"/><stop offset="0.102" stop-color="#a8a8a8"/><stop offset="0.135" stop-color="#929292"/><stop offset="0.275" stop-color="#969696"/><stop offset="0.340" stop-color="#b0b0b0"/><stop offset="0.432" stop-color="#a2a2a2"/><stop offset="0.470" stop-color="#646464"/><stop offset="0.500" stop-color="#464646"/><stop offset="0.500" stop-color="#444444"/><stop offset="0.515" stop-color="#565656"/><stop offset="0.535" stop-color="#6f6f6f"/><stop offset="0.588" stop-color="#9f9f9f"/><stop offset="0.630" stop-color="#7d7d7d"/><stop offset="0.670" stop-color="#6a6a6a"/><stop offset="0.775" stop-color="#666666"/><stop offset="0.845" stop-color="#636363"/><stop offset="0.900" stop-color="#5f5f5f"/><stop offset="0.940" stop-color="#585858"/><stop offset="0.965" stop-color="#505050"/><stop offset="0.982" stop-color="#3b3b3b"/><stop offset="1.000" stop-color="#2a2a2a"/></linearGradient>
<linearGradient id="r34" gradientUnits="userSpaceOnUse" x1="315.9" y1="182.2" x2="340.1" y2="217.8"><stop offset="0.000" stop-color="#5c5c5c"/><stop offset="0.035" stop-color="#747474"/><stop offset="0.058" stop-color="#a2a2a2"/><stop offset="0.077" stop-color="#666666"/><stop offset="0.102" stop-color="#a8a8a8"/><stop offset="0.135" stop-color="#929292"/><stop offset="0.275" stop-color="#969696"/><stop offset="0.340" stop-color="#b0b0b0"/><stop offset="0.432" stop-color="#a2a2a2"/><stop offset="0.470" stop-color="#646464"/><stop offset="0.500" stop-color="#464646"/><stop offset="0.500" stop-color="#444444"/><stop offset="0.515" stop-color="#565656"/><stop offset="0.535" stop-color="#6e6e6e"/><stop offset="0.588" stop-color="#9c9c9c"/><stop offset="0.630" stop-color="#7b7b7b"/><stop offset="0.670" stop-color="#696969"/><stop offset="0.775" stop-color="#656565"/><stop offset="0.845" stop-color="#626262"/><stop offset="0.900" stop-color="#5f5f5f"/><stop offset="0.940" stop-color="#585858"/><stop offset="0.965" stop-color="#505050"/><stop offset="0.982" stop-color="#3b3b3b"/><stop offset="1.000" stop-color="#2a2a2a"/></linearGradient>
<linearGradient id="r35" gradientUnits="userSpaceOnUse" x1="321.9" y1="178" x2="345.3" y2="214.2"><stop offset="0.000" stop-color="#5c5c5c"/><stop offset="0.035" stop-color="#747474"/><stop offset="0.058" stop-color="#a2a2a2"/><stop offset="0.077" stop-color="#666666"/><stop offset="0.102" stop-color="#a8a8a8"/><stop offset="0.135" stop-color="#929292"/><stop offset="0.275" stop-color="#969696"/><stop offset="0.340" stop-color="#b0b0b0"/><stop offset="0.432" stop-color="#a2a2a2"/><stop offset="0.470" stop-color="#646464"/><stop offset="0.500" stop-color="#464646"/><stop offset="0.500" stop-color="#444444"/><stop offset="0.515" stop-color="#555555"/><stop offset="0.535" stop-color="#6c6c6c"/><stop offset="0.588" stop-color="#989898"/><stop offset="0.630" stop-color="#797979"/><stop offset="0.670" stop-color="#686868"/><stop offset="0.775" stop-color="#656565"/><stop offset="0.845" stop-color="#626262"/><stop offset="0.900" stop-color="#5e5e5e"/><stop offset="0.940" stop-color="#585858"/><stop offset="0.965" stop-color="#505050"/><stop offset="0.982" stop-color="#3a3a3a"/><stop offset="1.000" stop-color="#2a2a2a"/></linearGradient>
<linearGradient id="r36" gradientUnits="userSpaceOnUse" x1="328.2" y1="174" x2="350.7" y2="210.6"><stop offset="0.000" stop-color="#5c5c5c"/><stop offset="0.035" stop-color="#747474"/><stop offset="0.057" stop-color="#a2a2a2"/><stop offset="0.077" stop-color="#666666"/><stop offset="0.102" stop-color="#a8a8a8"/><stop offset="0.134" stop-color="#929292"/><stop offset="0.273" stop-color="#969696"/><stop offset="0.337" stop-color="#b0b0b0"/><stop offset="0.429" stop-color="#a2a2a2"/><stop offset="0.466" stop-color="#646464"/><stop offset="0.496" stop-color="#464646"/><stop offset="0.496" stop-color="#434343"/><stop offset="0.511" stop-color="#545454"/><stop offset="0.531" stop-color="#6b6b6b"/><stop offset="0.584" stop-color="#959595"/><stop offset="0.627" stop-color="#777777"/><stop offset="0.667" stop-color="#676767"/><stop offset="0.773" stop-color="#646464"/><stop offset="0.844" stop-color="#626262"/><stop offset="0.899" stop-color="#5e5e5e"/><stop offset="0.940" stop-color="#585858"/><stop offset="0.965" stop-color="#505050"/><stop offset="0.982" stop-color="#3a3a3a"/><stop offset="1.000" stop-color="#292929"/></linearGradient>
<linearGradient id="r37" gradientUnits="userSpaceOnUse" x1="334.8" y1="170.1" x2="356.5" y2="206.9"><stop offset="0.000" stop-color="#5c5c5c"/><stop offset="0.034" stop-color="#747474"/><stop offset="0.056" stop-color="#a2a2a2"/><stop offset="0.076" stop-color="#666666"/><stop offset="0.100" stop-color="#a8a8a8"/><stop offset="0.132" stop-color="#929292"/><stop offset="0.268" stop-color="#969696"/><stop offset="0.332" stop-color="#b0b0b0"/><stop offset="0.422" stop-color="#a2a2a2"/><stop offset="0.458" stop-color="#646464"/><stop offset="0.487" stop-color="#464646"/><stop offset="0.487" stop-color="#434343"/><stop offset="0.503" stop-color="#535353"/><stop offset="0.523" stop-color="#696969"/><stop offset="0.577" stop-color="#919191"/><stop offset="0.621" stop-color="#757575"/><stop offset="0.662" stop-color="#666666"/><stop offset="0.769" stop-color="#646464"/><stop offset="0.841" stop-color="#626262"/><stop offset="0.897" stop-color="#5e5e5e"/><stop offset="0.938" stop-color="#585858"/><stop offset="0.964" stop-color="#505050"/><stop offset="0.982" stop-color="#3a3a3a"/><stop offset="1.000" stop-color="#292929"/></linearGradient>
<linearGradient id="r38" gradientUnits="userSpaceOnUse" x1="341.6" y1="166.3" x2="362.6" y2="203.2"><stop offset="0.000" stop-color="#5c5c5c"/><stop offset="0.034" stop-color="#747474"/><stop offset="0.055" stop-color="#a2a2a2"/><stop offset="0.074" stop-color="#666666"/><stop offset="0.098" stop-color="#a8a8a8"/><stop offset="0.129" stop-color="#929292"/><stop offset="0.264" stop-color="#969696"/><stop offset="0.326" stop-color="#b0b0b0"/><stop offset="0.414" stop-color="#a2a2a2"/><stop offset="0.450" stop-color="#646464"/><stop offset="0.479" stop-color="#464646"/><stop offset="0.479" stop-color="#434343"/><stop offset="0.495" stop-color="#525252"/><stop offset="0.516" stop-color="#676767"/><stop offset="0.570" stop-color="#8d8d8d"/><stop offset="0.615" stop-color="#737373"/><stop offset="0.656" stop-color="#656565"/><stop offset="0.766" stop-color="#636363"/><stop offset="0.839" stop-color="#616161"/><stop offset="0.896" stop-color="#5e5e5e"/><stop offset="0.938" stop-color="#585858"/><stop offset="0.964" stop-color="#505050"/><stop offset="0.982" stop-color="#3a3a3a"/><stop offset="1.000" stop-color="#292929"/></linearGradient>
<linearGradient id="r39" gradientUnits="userSpaceOnUse" x1="348.4" y1="162.6" x2="368.7" y2="199.5"><stop offset="0.000" stop-color="#5c5c5c"/><stop offset="0.033" stop-color="#747474"/><stop offset="0.054" stop-color="#a2a2a2"/><stop offset="0.073" stop-color="#666666"/><stop offset="0.097" stop-color="#a8a8a8"/><stop offset="0.127" stop-color="#929292"/><stop offset="0.259" stop-color="#969696"/><stop offset="0.320" stop-color="#b0b0b0"/><stop offset="0.407" stop-color="#a2a2a2"/><stop offset="0.443" stop-color="#646464"/><stop offset="0.471" stop-color="#464646"/><stop offset="0.471" stop-color="#424242"/><stop offset="0.487" stop-color="#515151"/><stop offset="0.508" stop-color="#666666"/><stop offset="0.563" stop-color="#8a8a8a"/><stop offset="0.608" stop-color="#717171"/><stop offset="0.651" stop-color="#646464"/><stop offset="0.762" stop-color="#626262"/><stop offset="0.836" stop-color="#616161"/><stop offset="0.894" stop-color="#5e5e5e"/><stop offset="0.936" stop-color="#585858"/><stop offset="0.963" stop-color="#505050"/><stop offset="0.981" stop-color="#3a3a3a"/><stop offset="1.000" stop-color="#282828"/></linearGradient>
<linearGradient id="r40" gradientUnits="userSpaceOnUse" x1="355.2" y1="159" x2="374.8" y2="196"><stop offset="0.000" stop-color="#5c5c5c"/><stop offset="0.032" stop-color="#747474"/><stop offset="0.053" stop-color="#a2a2a2"/><stop offset="0.072" stop-color="#666666"/><stop offset="0.095" stop-color="#a8a8a8"/><stop offset="0.125" stop-color="#929292"/><stop offset="0.254" stop-color="#969696"/><stop offset="0.315" stop-color="#b0b0b0"/><stop offset="0.400" stop-color="#a2a2a2"/><stop offset="0.435" stop-color="#646464"/><stop offset="0.463" stop-color="#464646"/><stop offset="0.463" stop-color="#424242"/><stop offset="0.479" stop-color="#505050"/><stop offset="0.500" stop-color="#646464"/><stop offset="0.557" stop-color="#868686"/><stop offset="0.602" stop-color="#6f6f6f"/><stop offset="0.645" stop-color="#636363"/><stop offset="0.758" stop-color="#626262"/><stop offset="0.833" stop-color="#606060"/><stop offset="0.893" stop-color="#5d5d5d"/><stop offset="0.935" stop-color="#585858"/><stop offset="0.962" stop-color="#505050"/><stop offset="0.981" stop-color="#393939"/><stop offset="1.000" stop-color="#282828"/></linearGradient>
<linearGradient id="r41" gradientUnits="userSpaceOnUse" x1="361.8" y1="155.6" x2="380.6" y2="192.8"><stop offset="0.000" stop-color="#5c5c5c"/><stop offset="0.032" stop-color="#747474"/><stop offset="0.052" stop-color="#a2a2a2"/><stop offset="0.070" stop-color="#666666"/><stop offset="0.093" stop-color="#a8a8a8"/><stop offset="0.123" stop-color="#929292"/><stop offset="0.250" stop-color="#969696"/><stop offset="0.309" stop-color="#b0b0b0"/><stop offset="0.393" stop-color="#a2a2a2"/><stop offset="0.427" stop-color="#646464"/><stop offset="0.454" stop-color="#464646"/><stop offset="0.454" stop-color="#424242"/><stop offset="0.471" stop-color="#505050"/><stop offset="0.492" stop-color="#636363"/><stop offset="0.550" stop-color="#838383"/><stop offset="0.596" stop-color="#6d6d6d"/><stop offset="0.640" stop-color="#626262"/><stop offset="0.754" stop-color="#616161"/><stop offset="0.831" stop-color="#606060"/><stop offset="0.891" stop-color="#5d5d5d"/><stop offset="0.935" stop-color="#585858"/><stop offset="0.962" stop-color="#505050"/><stop offset="0.981" stop-color="#393939"/><stop offset="1.000" stop-color="#282828"/></linearGradient>
<linearGradient id="r42" gradientUnits="userSpaceOnUse" x1="368.1" y1="152.4" x2="386.3" y2="189.9"><stop offset="0.000" stop-color="#5c5c5c"/><stop offset="0.031" stop-color="#747474"/><stop offset="0.051" stop-color="#a2a2a2"/><stop offset="0.069" stop-color="#666666"/><stop offset="0.091" stop-color="#a8a8a8"/><stop offset="0.120" stop-color="#929292"/><stop offset="0.245" stop-color="#969696"/><stop offset="0.303" stop-color="#b0b0b0"/><stop offset="0.386" stop-color="#a2a2a2"/><stop offset="0.419" stop-color="#646464"/><stop offset="0.446" stop-color="#464646"/><stop offset="0.446" stop-color="#424242"/><stop offset="0.462" stop-color="#4f4f4f"/><stop offset="0.485" stop-color="#616161"/><stop offset="0.543" stop-color="#7f7f7f"/><stop offset="0.590" stop-color="#6b6b6b"/><stop offset="0.634" stop-color="#616161"/><stop offset="0.751" stop-color="#616161"/><stop offset="0.828" stop-color="#606060"/><stop offset="0.889" stop-color="#5d5d5d"/><stop offset="0.933" stop-color="#585858"/><stop offset="0.961" stop-color="#505050"/><stop offset="0.981" stop-color="#393939"/><stop offset="1.000" stop-color="#282828"/></linearGradient>
<linearGradient id="r43" gradientUnits="userSpaceOnUse" x1="374.1" y1="149.4" x2="391.7" y2="187.4"><stop offset="0.000" stop-color="#5c5c5c"/><stop offset="0.031" stop-color="#747474"/><stop offset="0.050" stop-color="#a2a2a2"/><stop offset="0.068" stop-color="#666666"/><stop offset="0.090" stop-color="#a8a8a8"/><stop offset="0.118" stop-color="#929292"/><stop offset="0.241" stop-color="#969696"/><stop offset="0.298" stop-color="#b0b0b0"/><stop offset="0.378" stop-color="#a2a2a2"/><stop offset="0.411" stop-color="#646464"/><stop offset="0.438" stop-color="#464646"/><stop offset="0.438" stop-color="#414141"/><stop offset="0.454" stop-color="#4e4e4e"/><stop offset="0.477" stop-color="#5f5f5f"/><stop offset="0.536" stop-color="#7c7c7c"/><stop offset="0.584" stop-color="#696969"/><stop offset="0.629" stop-color="#606060"/><stop offset="0.747" stop-color="#606060"/><stop offset="0.826" stop-color="#606060"/><stop offset="0.887" stop-color="#5d5d5d"/><stop offset="0.932" stop-color="#585858"/><stop offset="0.961" stop-color="#505050"/><stop offset="0.980" stop-color="#393939"/><stop offset="1.000" stop-color="#272727"/></linearGradient>
<linearGradient id="r44" gradientUnits="userSpaceOnUse" x1="379.9" y1="146.5" x2="396.8" y2="185.2"><stop offset="0.000" stop-color="#5c5c5c"/><stop offset="0.030" stop-color="#747474"/><stop offset="0.049" stop-color="#a2a2a2"/><stop offset="0.067" stop-color="#666666"/><stop offset="0.088" stop-color="#a8a8a8"/><stop offset="0.116" stop-color="#929292"/><stop offset="0.236" stop-color="#969696"/><stop offset="0.292" stop-color="#b0b0b0"/><stop offset="0.371" stop-color="#a2a2a2"/><stop offset="0.403" stop-color="#646464"/><stop offset="0.429" stop-color="#464646"/><stop offset="0.429" stop-color="#414141"/><stop offset="0.446" stop-color="#4d4d4d"/><stop offset="0.469" stop-color="#5e5e5e"/><stop offset="0.529" stop-color="#787878"/><stop offset="0.578" stop-color="#676767"/><stop offset="0.623" stop-color="#5f5f5f"/><stop offset="0.743" stop-color="#606060"/><stop offset="0.823" stop-color="#5f5f5f"/><stop offset="0.886" stop-color="#5d5d5d"/><stop offset="0.931" stop-color="#585858"/><stop offset="0.960" stop-color="#505050"/><stop offset="0.980" stop-color="#393939"/><stop offset="1.000" stop-color="#272727"/></linearGradient>
<linearGradient id="r45" gradientUnits="userSpaceOnUse" x1="385.7" y1="143.8" x2="401.6" y2="183.4"><stop offset="0.000" stop-color="#5b5b5b"/><stop offset="0.029" stop-color="#737373"/><stop offset="0.048" stop-color="#a0a0a0"/><stop offset="0.065" stop-color="#656565"/><stop offset="0.086" stop-color="#a6a6a6"/><stop offset="0.114" stop-color="#909090"/><stop offset="0.231" stop-color="#949494"/><stop offset="0.286" stop-color="#aeaeae"/><stop offset="0.364" stop-color="#a0a0a0"/><stop offset="0.396" stop-color="#636363"/><stop offset="0.421" stop-color="#464646"/><stop offset="0.421" stop-color="#414141"/><stop offset="0.438" stop-color="#4c4c4c"/><stop offset="0.461" stop-color="#5c5c5c"/><stop offset="0.522" stop-color="#757575"/><stop offset="0.571" stop-color="#656565"/><stop offset="0.618" stop-color="#5e5e5e"/><stop offset="0.739" stop-color="#5f5f5f"/><stop offset="0.820" stop-color="#5f5f5f"/><stop offset="0.884" stop-color="#5c5c5c"/><stop offset="0.930" stop-color="#585858"/><stop offset="0.959" stop-color="#505050"/><stop offset="0.980" stop-color="#383838"/><stop offset="1.000" stop-color="#272727"/></linearGradient>
<linearGradient id="r46" gradientUnits="userSpaceOnUse" x1="391.4" y1="141.3" x2="406.3" y2="181.8"><stop offset="0.000" stop-color="#5a5a5a"/><stop offset="0.029" stop-color="#727272"/><stop offset="0.047" stop-color="#9d9d9d"/><stop offset="0.064" stop-color="#646464"/><stop offset="0.085" stop-color="#a2a2a2"/><stop offset="0.111" stop-color="#8d8d8d"/><stop offset="0.227" stop-color="#919191"/><stop offset="0.281" stop-color="#a9a9a9"/><stop offset="0.357" stop-color="#9c9c9c"/><stop offset="0.388" stop-color="#626262"/><stop offset="0.413" stop-color="#464646"/><stop offset="0.413" stop-color="#404040"/><stop offset="0.430" stop-color="#4b4b4b"/><stop offset="0.454" stop-color="#5a5a5a"/><stop offset="0.515" stop-color="#717171"/><stop offset="0.565" stop-color="#636363"/><stop offset="0.612" stop-color="#5d5d5d"/><stop offset="0.736" stop-color="#5f5f5f"/><stop offset="0.818" stop-color="#5e5e5e"/><stop offset="0.883" stop-color="#5c5c5c"/><stop offset="0.929" stop-color="#585858"/><stop offset="0.959" stop-color="#505050"/><stop offset="0.979" stop-color="#383838"/><stop offset="1.000" stop-color="#262626"/></linearGradient>
<linearGradient id="r47" gradientUnits="userSpaceOnUse" x1="397.1" y1="139.1" x2="410.9" y2="180.3"><stop offset="0.000" stop-color="#595959"/><stop offset="0.028" stop-color="#707070"/><stop offset="0.046" stop-color="#9a9a9a"/><stop offset="0.063" stop-color="#636363"/><stop offset="0.083" stop-color="#9f9f9f"/><stop offset="0.109" stop-color="#8a8a8a"/><stop offset="0.222" stop-color="#8d8d8d"/><stop offset="0.275" stop-color="#a5a5a5"/><stop offset="0.350" stop-color="#979797"/><stop offset="0.380" stop-color="#606060"/><stop offset="0.404" stop-color="#454545"/><stop offset="0.404" stop-color="#404040"/><stop offset="0.422" stop-color="#4a4a4a"/><stop offset="0.446" stop-color="#595959"/><stop offset="0.508" stop-color="#6e6e6e"/><stop offset="0.559" stop-color="#616161"/><stop offset="0.607" stop-color="#5c5c5c"/><stop offset="0.732" stop-color="#5e5e5e"/><stop offset="0.815" stop-color="#5e5e5e"/><stop offset="0.881" stop-color="#5c5c5c"/><stop offset="0.928" stop-color="#585858"/><stop offset="0.958" stop-color="#505050"/><stop offset="0.979" stop-color="#383838"/><stop offset="1.000" stop-color="#262626"/></linearGradient>
<linearGradient id="r48" gradientUnits="userSpaceOnUse" x1="402.9" y1="137.1" x2="415.2" y2="179"><stop offset="0.000" stop-color="#585858"/><stop offset="0.028" stop-color="#6e6e6e"/><stop offset="0.046" stop-color="#969696"/><stop offset="0.061" stop-color="#626262"/><stop offset="0.081" stop-color="#9b9b9b"/><stop offset="0.107" stop-color="#878787"/><stop offset="0.218" stop-color="#8a8a8a"/><stop offset="0.269" stop-color="#a0a0a0"/><stop offset="0.342" stop-color="#939393"/><stop offset="0.372" stop-color="#5f5f5f"/><stop offset="0.396" stop-color="#454545"/><stop offset="0.396" stop-color="#404040"/><stop offset="0.414" stop-color="#4a4a4a"/><stop offset="0.438" stop-color="#585858"/><stop offset="0.502" stop-color="#6c6c6c"/><stop offset="0.553" stop-color="#606060"/><stop offset="0.601" stop-color="#5c5c5c"/><stop offset="0.728" stop-color="#5e5e5e"/><stop offset="0.813" stop-color="#5e5e5e"/><stop offset="0.879" stop-color="#5c5c5c"/><stop offset="0.927" stop-color="#585858"/><stop offset="0.958" stop-color="#505050"/><stop offset="0.979" stop-color="#383838"/><stop offset="1.000" stop-color="#262626"/></linearGradient>
<linearGradient id="r49" gradientUnits="userSpaceOnUse" x1="408.8" y1="135.5" x2="419.5" y2="177.8"><stop offset="0.000" stop-color="#575757"/><stop offset="0.027" stop-color="#6c6c6c"/><stop offset="0.045" stop-color="#939393"/><stop offset="0.060" stop-color="#606060"/><stop offset="0.079" stop-color="#979797"/><stop offset="0.105" stop-color="#848484"/><stop offset="0.213" stop-color="#868686"/><stop offset="0.264" stop-color="#9c9c9c"/><stop offset="0.335" stop-color="#8f8f8f"/><stop offset="0.364" stop-color="#5d5d5d"/><stop offset="0.388" stop-color="#444444"/><stop offset="0.388" stop-color="#404040"/><stop offset="0.406" stop-color="#4a4a4a"/><stop offset="0.430" stop-color="#585858"/><stop offset="0.495" stop-color="#6c6c6c"/><stop offset="0.547" stop-color="#606060"/><stop offset="0.596" stop-color="#5c5c5c"/><stop offset="0.724" stop-color="#5e5e5e"/><stop offset="0.810" stop-color="#5e5e5e"/><stop offset="0.878" stop-color="#5c5c5c"/><stop offset="0.927" stop-color="#585858"/><stop offset="0.957" stop-color="#505050"/><stop offset="0.979" stop-color="#383838"/><stop offset="1.000" stop-color="#262626"/></linearGradient>
<linearGradient id="r50" gradientUnits="userSpaceOnUse" x1="414.7" y1="134.1" x2="424.1" y2="176.6"><stop offset="0.000" stop-color="#565656"/><stop offset="0.027" stop-color="#6b6b6b"/><stop offset="0.044" stop-color="#909090"/><stop offset="0.059" stop-color="#5f5f5f"/><stop offset="0.078" stop-color="#939393"/><stop offset="0.102" stop-color="#818181"/><stop offset="0.209" stop-color="#838383"/><stop offset="0.258" stop-color="#979797"/><stop offset="0.328" stop-color="#8b8b8b"/><stop offset="0.356" stop-color="#5b5b5b"/><stop offset="0.379" stop-color="#444444"/><stop offset="0.379" stop-color="#404040"/><stop offset="0.398" stop-color="#4a4a4a"/><stop offset="0.423" stop-color="#585858"/><stop offset="0.488" stop-color="#6c6c6c"/><stop offset="0.541" stop-color="#606060"/><stop offset="0.590" stop-color="#5c5c5c"/><stop offset="0.721" stop-color="#5e5e5e"/><stop offset="0.808" stop-color="#5e5e5e"/><stop offset="0.876" stop-color="#5c5c5c"/><stop offset="0.925" stop-color="#585858"/><stop offset="0.957" stop-color="#505050"/><stop offset="0.978" stop-color="#383838"/><stop offset="1.000" stop-color="#262626"/></linearGradient>
<linearGradient id="r51" gradientUnits="userSpaceOnUse" x1="420.6" y1="132.9" x2="428.9" y2="175.6"><stop offset="0.000" stop-color="#555555"/><stop offset="0.026" stop-color="#696969"/><stop offset="0.043" stop-color="#8c8c8c"/><stop offset="0.057" stop-color="#5e5e5e"/><stop offset="0.076" stop-color="#8f8f8f"/><stop offset="0.100" stop-color="#7e7e7e"/><stop offset="0.204" stop-color="#808080"/><stop offset="0.252" stop-color="#929292"/><stop offset="0.321" stop-color="#878787"/><stop offset="0.349" stop-color="#5a5a5a"/><stop offset="0.371" stop-color="#444444"/><stop offset="0.371" stop-color="#404040"/><stop offset="0.390" stop-color="#4a4a4a"/><stop offset="0.415" stop-color="#585858"/><stop offset="0.481" stop-color="#6c6c6c"/><stop offset="0.534" stop-color="#606060"/><stop offset="0.585" stop-color="#5c5c5c"/><stop offset="0.717" stop-color="#5e5e5e"/><stop offset="0.805" stop-color="#5e5e5e"/><stop offset="0.874" stop-color="#5c5c5c"/><stop offset="0.924" stop-color="#585858"/><stop offset="0.956" stop-color="#505050"/><stop offset="0.978" stop-color="#383838"/><stop offset="1.000" stop-color="#262626"/></linearGradient>
<linearGradient id="r52" gradientUnits="userSpaceOnUse" x1="426.4" y1="131.9" x2="433.9" y2="174.6"><stop offset="0.000" stop-color="#545454"/><stop offset="0.025" stop-color="#686868"/><stop offset="0.042" stop-color="#898989"/><stop offset="0.056" stop-color="#5d5d5d"/><stop offset="0.074" stop-color="#8c8c8c"/><stop offset="0.098" stop-color="#7b7b7b"/><stop offset="0.199" stop-color="#7c7c7c"/><stop offset="0.246" stop-color="#8e8e8e"/><stop offset="0.314" stop-color="#828282"/><stop offset="0.341" stop-color="#585858"/><stop offset="0.362" stop-color="#444444"/><stop offset="0.362" stop-color="#404040"/><stop offset="0.382" stop-color="#4a4a4a"/><stop offset="0.407" stop-color="#585858"/><stop offset="0.474" stop-color="#6c6c6c"/><stop offset="0.528" stop-color="#606060"/><stop offset="0.579" stop-color="#5c5c5c"/><stop offset="0.713" stop-color="#5e5e5e"/><stop offset="0.802" stop-color="#5e5e5e"/><stop offset="0.873" stop-color="#5c5c5c"/><stop offset="0.923" stop-color="#585858"/><stop offset="0.955" stop-color="#505050"/><stop offset="0.978" stop-color="#383838"/><stop offset="1.000" stop-color="#262626"/></linearGradient>
<linearGradient id="r53" gradientUnits="userSpaceOnUse" x1="432.2" y1="130.9" x2="439.1" y2="173.7"><stop offset="0.000" stop-color="#535353"/><stop offset="0.025" stop-color="#666666"/><stop offset="0.041" stop-color="#868686"/><stop offset="0.055" stop-color="#5c5c5c"/><stop offset="0.073" stop-color="#888888"/><stop offset="0.096" stop-color="#787878"/><stop offset="0.195" stop-color="#797979"/><stop offset="0.241" stop-color="#898989"/><stop offset="0.306" stop-color="#7e7e7e"/><stop offset="0.333" stop-color="#575757"/><stop offset="0.354" stop-color="#434343"/><stop offset="0.354" stop-color="#404040"/><stop offset="0.374" stop-color="#4a4a4a"/><stop offset="0.399" stop-color="#585858"/><stop offset="0.467" stop-color="#6c6c6c"/><stop offset="0.522" stop-color="#606060"/><stop offset="0.574" stop-color="#5c5c5c"/><stop offset="0.709" stop-color="#5e5e5e"/><stop offset="0.800" stop-color="#5e5e5e"/><stop offset="0.871" stop-color="#5c5c5c"/><stop offset="0.922" stop-color="#585858"/><stop offset="0.955" stop-color="#505050"/><stop offset="0.977" stop-color="#383838"/><stop offset="1.000" stop-color="#262626"/></linearGradient>
<linearGradient id="r54" gradientUnits="userSpaceOnUse" x1="437.8" y1="130.1" x2="444.2" y2="172.9"><stop offset="0.000" stop-color="#515151"/><stop offset="0.024" stop-color="#646464"/><stop offset="0.040" stop-color="#828282"/><stop offset="0.054" stop-color="#5a5a5a"/><stop offset="0.071" stop-color="#848484"/><stop offset="0.093" stop-color="#747474"/><stop offset="0.190" stop-color="#757575"/><stop offset="0.235" stop-color="#858585"/><stop offset="0.299" stop-color="#7a7a7a"/><stop offset="0.325" stop-color="#555555"/><stop offset="0.346" stop-color="#434343"/><stop offset="0.346" stop-color="#404040"/><stop offset="0.365" stop-color="#4a4a4a"/><stop offset="0.392" stop-color="#585858"/><stop offset="0.460" stop-color="#6c6c6c"/><stop offset="0.516" stop-color="#606060"/><stop offset="0.568" stop-color="#5c5c5c"/><stop offset="0.706" stop-color="#5e5e5e"/><stop offset="0.797" stop-color="#5e5e5e"/><stop offset="0.869" stop-color="#5c5c5c"/><stop offset="0.921" stop-color="#585858"/><stop offset="0.954" stop-color="#505050"/><stop offset="0.977" stop-color="#383838"/><stop offset="1.000" stop-color="#262626"/></linearGradient>
<linearGradient id="r55" gradientUnits="userSpaceOnUse" x1="443.4" y1="129.3" x2="449" y2="172.3"><stop offset="0.000" stop-color="#505050"/><stop offset="0.024" stop-color="#626262"/><stop offset="0.039" stop-color="#7f7f7f"/><stop offset="0.052" stop-color="#595959"/><stop offset="0.069" stop-color="#808080"/><stop offset="0.091" stop-color="#717171"/><stop offset="0.186" stop-color="#727272"/><stop offset="0.230" stop-color="#808080"/><stop offset="0.292" stop-color="#767676"/><stop offset="0.317" stop-color="#545454"/><stop offset="0.338" stop-color="#424242"/><stop offset="0.338" stop-color="#404040"/><stop offset="0.357" stop-color="#4a4a4a"/><stop offset="0.384" stop-color="#585858"/><stop offset="0.453" stop-color="#6c6c6c"/><stop offset="0.510" stop-color="#606060"/><stop offset="0.563" stop-color="#5c5c5c"/><stop offset="0.702" stop-color="#5e5e5e"/><stop offset="0.795" stop-color="#5e5e5e"/><stop offset="0.868" stop-color="#5c5c5c"/><stop offset="0.920" stop-color="#585858"/><stop offset="0.954" stop-color="#505050"/><stop offset="0.977" stop-color="#383838"/><stop offset="1.000" stop-color="#262626"/></linearGradient>
<linearGradient id="r56" gradientUnits="userSpaceOnUse" x1="449" y1="128.6" x2="453.6" y2="171.8"><stop offset="0.000" stop-color="#4f4f4f"/><stop offset="0.023" stop-color="#616161"/><stop offset="0.038" stop-color="#7c7c7c"/><stop offset="0.051" stop-color="#585858"/><stop offset="0.067" stop-color="#7d7d7d"/><stop offset="0.089" stop-color="#6e6e6e"/><stop offset="0.181" stop-color="#6e6e6e"/><stop offset="0.224" stop-color="#7c7c7c"/><stop offset="0.285" stop-color="#717171"/><stop offset="0.309" stop-color="#525252"/><stop offset="0.329" stop-color="#424242"/><stop offset="0.329" stop-color="#404040"/><stop offset="0.349" stop-color="#4a4a4a"/><stop offset="0.376" stop-color="#585858"/><stop offset="0.447" stop-color="#6c6c6c"/><stop offset="0.504" stop-color="#606060"/><stop offset="0.557" stop-color="#5c5c5c"/><stop offset="0.698" stop-color="#5e5e5e"/><stop offset="0.792" stop-color="#5e5e5e"/><stop offset="0.866" stop-color="#5c5c5c"/><stop offset="0.919" stop-color="#585858"/><stop offset="0.953" stop-color="#505050"/><stop offset="0.977" stop-color="#383838"/><stop offset="1.000" stop-color="#262626"/></linearGradient>
<linearGradient id="r57" gradientUnits="userSpaceOnUse" x1="454.4" y1="128.1" x2="457.9" y2="171.6"><stop offset="0.000" stop-color="#4e4e4e"/><stop offset="0.022" stop-color="#5f5f5f"/><stop offset="0.037" stop-color="#787878"/><stop offset="0.050" stop-color="#575757"/><stop offset="0.066" stop-color="#797979"/><stop offset="0.087" stop-color="#6b6b6b"/><stop offset="0.176" stop-color="#6b6b6b"/><stop offset="0.218" stop-color="#777777"/><stop offset="0.278" stop-color="#6d6d6d"/><stop offset="0.302" stop-color="#515151"/><stop offset="0.321" stop-color="#424242"/><stop offset="0.321" stop-color="#404040"/><stop offset="0.341" stop-color="#4a4a4a"/><stop offset="0.368" stop-color="#585858"/><stop offset="0.440" stop-color="#6c6c6c"/><stop offset="0.497" stop-color="#606060"/><stop offset="0.552" stop-color="#5c5c5c"/><stop offset="0.694" stop-color="#5e5e5e"/><stop offset="0.789" stop-color="#5e5e5e"/><stop offset="0.864" stop-color="#5c5c5c"/><stop offset="0.918" stop-color="#585858"/><stop offset="0.952" stop-color="#505050"/><stop offset="0.976" stop-color="#383838"/><stop offset="1.000" stop-color="#262626"/></linearGradient>
<linearGradient id="r58" gradientUnits="userSpaceOnUse" x1="459.8" y1="127.7" x2="461.9" y2="171.5"><stop offset="0.000" stop-color="#4d4d4d"/><stop offset="0.022" stop-color="#5e5e5e"/><stop offset="0.036" stop-color="#757575"/><stop offset="0.048" stop-color="#565656"/><stop offset="0.064" stop-color="#757575"/><stop offset="0.084" stop-color="#686868"/><stop offset="0.172" stop-color="#686868"/><stop offset="0.213" stop-color="#727272"/><stop offset="0.270" stop-color="#696969"/><stop offset="0.294" stop-color="#4f4f4f"/><stop offset="0.312" stop-color="#424242"/><stop offset="0.312" stop-color="#404040"/><stop offset="0.333" stop-color="#4a4a4a"/><stop offset="0.361" stop-color="#585858"/><stop offset="0.433" stop-color="#6c6c6c"/><stop offset="0.491" stop-color="#606060"/><stop offset="0.546" stop-color="#5c5c5c"/><stop offset="0.691" stop-color="#5e5e5e"/><stop offset="0.787" stop-color="#5e5e5e"/><stop offset="0.863" stop-color="#5c5c5c"/><stop offset="0.917" stop-color="#585858"/><stop offset="0.952" stop-color="#505050"/><stop offset="0.976" stop-color="#383838"/><stop offset="1.000" stop-color="#262626"/></linearGradient>
<linearGradient id="r59" gradientUnits="userSpaceOnUse" x1="465" y1="127.5" x2="465.6" y2="171.6"><stop offset="0.000" stop-color="#4c4c4c"/><stop offset="0.021" stop-color="#5c5c5c"/><stop offset="0.035" stop-color="#727272"/><stop offset="0.047" stop-color="#545454"/><stop offset="0.062" stop-color="#717171"/><stop offset="0.082" stop-color="#656565"/><stop offset="0.167" stop-color="#646464"/><stop offset="0.207" stop-color="#6e6e6e"/><stop offset="0.263" stop-color="#656565"/><stop offset="0.286" stop-color="#4d4d4d"/><stop offset="0.304" stop-color="#414141"/><stop offset="0.304" stop-color="#404040"/><stop offset="0.325" stop-color="#4a4a4a"/><stop offset="0.353" stop-color="#585858"/><stop offset="0.426" stop-color="#6c6c6c"/><stop offset="0.485" stop-color="#606060"/><stop offset="0.541" stop-color="#5c5c5c"/><stop offset="0.687" stop-color="#5e5e5e"/><stop offset="0.784" stop-color="#5e5e5e"/><stop offset="0.861" stop-color="#5c5c5c"/><stop offset="0.916" stop-color="#585858"/><stop offset="0.951" stop-color="#505050"/><stop offset="0.976" stop-color="#383838"/><stop offset="1.000" stop-color="#262626"/></linearGradient>
<linearGradient id="r60" gradientUnits="userSpaceOnUse" x1="469.9" y1="127.6" x2="468.7" y2="171.9"><stop offset="0.000" stop-color="#4b4b4b"/><stop offset="0.021" stop-color="#5a5a5a"/><stop offset="0.034" stop-color="#6e6e6e"/><stop offset="0.046" stop-color="#535353"/><stop offset="0.060" stop-color="#6d6d6d"/><stop offset="0.079" stop-color="#626262"/><stop offset="0.162" stop-color="#616161"/><stop offset="0.200" stop-color="#696969"/><stop offset="0.254" stop-color="#616161"/><stop offset="0.277" stop-color="#4c4c4c"/><stop offset="0.294" stop-color="#414141"/><stop offset="0.294" stop-color="#404040"/><stop offset="0.315" stop-color="#4a4a4a"/><stop offset="0.344" stop-color="#585858"/><stop offset="0.418" stop-color="#6c6c6c"/><stop offset="0.478" stop-color="#606060"/><stop offset="0.534" stop-color="#5c5c5c"/><stop offset="0.682" stop-color="#5e5e5e"/><stop offset="0.781" stop-color="#5e5e5e"/><stop offset="0.859" stop-color="#5c5c5c"/><stop offset="0.915" stop-color="#585858"/><stop offset="0.951" stop-color="#505050"/><stop offset="0.975" stop-color="#383838"/><stop offset="1.000" stop-color="#262626"/></linearGradient>
<linearGradient id="r61" gradientUnits="userSpaceOnUse" x1="474.7" y1="127.8" x2="471.5" y2="172.3"><stop offset="0.000" stop-color="#4a4a4a"/><stop offset="0.020" stop-color="#585858"/><stop offset="0.032" stop-color="#6b6b6b"/><stop offset="0.044" stop-color="#525252"/><stop offset="0.058" stop-color="#6a6a6a"/><stop offset="0.076" stop-color="#5f5f5f"/><stop offset="0.155" stop-color="#5d5d5d"/><stop offset="0.192" stop-color="#656565"/><stop offset="0.244" stop-color="#5c5c5c"/><stop offset="0.266" stop-color="#4a4a4a"/><stop offset="0.282" stop-color="#404040"/><stop offset="0.282" stop-color="#404040"/><stop offset="0.304" stop-color="#4a4a4a"/><stop offset="0.333" stop-color="#585858"/><stop offset="0.408" stop-color="#6c6c6c"/><stop offset="0.469" stop-color="#606060"/><stop offset="0.526" stop-color="#5c5c5c"/><stop offset="0.677" stop-color="#5e5e5e"/><stop offset="0.778" stop-color="#5e5e5e"/><stop offset="0.857" stop-color="#5c5c5c"/><stop offset="0.914" stop-color="#585858"/><stop offset="0.950" stop-color="#505050"/><stop offset="0.975" stop-color="#383838"/><stop offset="1.000" stop-color="#262626"/></linearGradient>
<linearGradient id="r62" gradientUnits="userSpaceOnUse" x1="479.3" y1="128.3" x2="474.4" y2="172.8"><stop offset="0.000" stop-color="#494949"/><stop offset="0.019" stop-color="#575757"/><stop offset="0.031" stop-color="#686868"/><stop offset="0.042" stop-color="#515151"/><stop offset="0.056" stop-color="#666666"/><stop offset="0.073" stop-color="#5c5c5c"/><stop offset="0.149" stop-color="#5a5a5a"/><stop offset="0.184" stop-color="#606060"/><stop offset="0.234" stop-color="#585858"/><stop offset="0.255" stop-color="#494949"/><stop offset="0.271" stop-color="#404040"/><stop offset="0.271" stop-color="#404040"/><stop offset="0.293" stop-color="#4a4a4a"/><stop offset="0.322" stop-color="#585858"/><stop offset="0.398" stop-color="#6c6c6c"/><stop offset="0.460" stop-color="#606060"/><stop offset="0.519" stop-color="#5c5c5c"/><stop offset="0.672" stop-color="#5e5e5e"/><stop offset="0.774" stop-color="#5e5e5e"/><stop offset="0.854" stop-color="#5c5c5c"/><stop offset="0.912" stop-color="#585858"/><stop offset="0.949" stop-color="#505050"/><stop offset="0.974" stop-color="#383838"/><stop offset="1.000" stop-color="#262626"/></linearGradient>
<linearGradient id="r63" gradientUnits="userSpaceOnUse" x1="483.8" y1="128.9" x2="477.5" y2="173.3"><stop offset="0.000" stop-color="#484848"/><stop offset="0.018" stop-color="#565656"/><stop offset="0.030" stop-color="#666666"/><stop offset="0.040" stop-color="#505050"/><stop offset="0.053" stop-color="#646464"/><stop offset="0.070" stop-color="#5a5a5a"/><stop offset="0.143" stop-color="#585858"/><stop offset="0.176" stop-color="#5e5e5e"/><stop offset="0.224" stop-color="#565656"/><stop offset="0.244" stop-color="#484848"/><stop offset="0.259" stop-color="#404040"/><stop offset="0.259" stop-color="#404040"/><stop offset="0.281" stop-color="#4a4a4a"/><stop offset="0.311" stop-color="#585858"/><stop offset="0.389" stop-color="#6c6c6c"/><stop offset="0.452" stop-color="#606060"/><stop offset="0.511" stop-color="#5c5c5c"/><stop offset="0.667" stop-color="#5e5e5e"/><stop offset="0.770" stop-color="#5e5e5e"/><stop offset="0.852" stop-color="#5c5c5c"/><stop offset="0.911" stop-color="#585858"/><stop offset="0.948" stop-color="#505050"/><stop offset="0.974" stop-color="#383838"/><stop offset="1.000" stop-color="#262626"/></linearGradient>
<linearGradient id="r64" gradientUnits="userSpaceOnUse" x1="488.3" y1="129.6" x2="481.1" y2="173.8"><stop offset="0.000" stop-color="#484848"/><stop offset="0.017" stop-color="#565656"/><stop offset="0.028" stop-color="#666666"/><stop offset="0.038" stop-color="#505050"/><stop offset="0.051" stop-color="#646464"/><stop offset="0.067" stop-color="#5a5a5a"/><stop offset="0.136" stop-color="#585858"/><stop offset="0.168" stop-color="#5e5e5e"/><stop offset="0.214" stop-color="#565656"/><stop offset="0.233" stop-color="#484848"/><stop offset="0.247" stop-color="#404040"/><stop offset="0.247" stop-color="#404040"/><stop offset="0.270" stop-color="#4a4a4a"/><stop offset="0.300" stop-color="#585858"/><stop offset="0.379" stop-color="#6c6c6c"/><stop offset="0.443" stop-color="#606060"/><stop offset="0.503" stop-color="#5c5c5c"/><stop offset="0.661" stop-color="#5e5e5e"/><stop offset="0.767" stop-color="#5e5e5e"/><stop offset="0.849" stop-color="#5c5c5c"/><stop offset="0.910" stop-color="#585858"/><stop offset="0.947" stop-color="#505050"/><stop offset="0.974" stop-color="#383838"/><stop offset="1.000" stop-color="#262626"/></linearGradient>
<linearGradient id="r65" gradientUnits="userSpaceOnUse" x1="492.8" y1="130.5" x2="485" y2="174.5"><stop offset="0.000" stop-color="#484848"/><stop offset="0.017" stop-color="#565656"/><stop offset="0.027" stop-color="#666666"/><stop offset="0.037" stop-color="#505050"/><stop offset="0.048" stop-color="#646464"/><stop offset="0.064" stop-color="#5a5a5a"/><stop offset="0.130" stop-color="#585858"/><stop offset="0.160" stop-color="#5e5e5e"/><stop offset="0.204" stop-color="#565656"/><stop offset="0.222" stop-color="#484848"/><stop offset="0.236" stop-color="#404040"/><stop offset="0.236" stop-color="#404040"/><stop offset="0.259" stop-color="#4a4a4a"/><stop offset="0.289" stop-color="#585858"/><stop offset="0.370" stop-color="#6c6c6c"/><stop offset="0.435" stop-color="#606060"/><stop offset="0.496" stop-color="#5c5c5c"/><stop offset="0.656" stop-color="#5e5e5e"/><stop offset="0.763" stop-color="#5e5e5e"/><stop offset="0.847" stop-color="#5c5c5c"/><stop offset="0.908" stop-color="#585858"/><stop offset="0.947" stop-color="#505050"/><stop offset="0.973" stop-color="#383838"/><stop offset="1.000" stop-color="#262626"/></linearGradient>
<linearGradient id="r66" gradientUnits="userSpaceOnUse" x1="497.3" y1="131.5" x2="489.2" y2="175.1"><stop offset="0.000" stop-color="#484848"/><stop offset="0.016" stop-color="#565656"/><stop offset="0.026" stop-color="#666666"/><stop offset="0.035" stop-color="#505050"/><stop offset="0.046" stop-color="#646464"/><stop offset="0.061" stop-color="#5a5a5a"/><stop offset="0.123" stop-color="#585858"/><stop offset="0.152" stop-color="#5e5e5e"/><stop offset="0.194" stop-color="#565656"/><stop offset="0.211" stop-color="#484848"/><stop offset="0.224" stop-color="#404040"/><stop offset="0.224" stop-color="#404040"/><stop offset="0.247" stop-color="#4a4a4a"/><stop offset="0.278" stop-color="#585858"/><stop offset="0.360" stop-color="#6c6c6c"/><stop offset="0.426" stop-color="#606060"/><stop offset="0.488" stop-color="#5c5c5c"/><stop offset="0.651" stop-color="#5e5e5e"/><stop offset="0.759" stop-color="#5e5e5e"/><stop offset="0.845" stop-color="#5c5c5c"/><stop offset="0.907" stop-color="#585858"/><stop offset="0.946" stop-color="#505050"/><stop offset="0.973" stop-color="#383838"/><stop offset="1.000" stop-color="#262626"/></linearGradient>
<linearGradient id="r67" gradientUnits="userSpaceOnUse" x1="501.9" y1="132.7" x2="493.2" y2="175.7"><stop offset="0.000" stop-color="#484848"/><stop offset="0.015" stop-color="#565656"/><stop offset="0.024" stop-color="#666666"/><stop offset="0.033" stop-color="#505050"/><stop offset="0.044" stop-color="#646464"/><stop offset="0.057" stop-color="#5a5a5a"/><stop offset="0.117" stop-color="#585858"/><stop offset="0.145" stop-color="#5e5e5e"/><stop offset="0.184" stop-color="#565656"/><stop offset="0.200" stop-color="#484848"/><stop offset="0.212" stop-color="#404040"/><stop offset="0.212" stop-color="#404040"/><stop offset="0.236" stop-color="#4a4a4a"/><stop offset="0.268" stop-color="#585858"/><stop offset="0.350" stop-color="#6c6c6c"/><stop offset="0.417" stop-color="#606060"/><stop offset="0.480" stop-color="#5c5c5c"/><stop offset="0.646" stop-color="#5e5e5e"/><stop offset="0.756" stop-color="#5e5e5e"/><stop offset="0.843" stop-color="#5c5c5c"/><stop offset="0.905" stop-color="#585858"/><stop offset="0.945" stop-color="#505050"/><stop offset="0.972" stop-color="#383838"/><stop offset="1.000" stop-color="#262626"/></linearGradient>
<linearGradient id="r68" gradientUnits="userSpaceOnUse" x1="506.4" y1="134" x2="497" y2="176.4"><stop offset="0.000" stop-color="#484848"/><stop offset="0.014" stop-color="#565656"/><stop offset="0.023" stop-color="#666666"/><stop offset="0.031" stop-color="#505050"/><stop offset="0.041" stop-color="#646464"/><stop offset="0.054" stop-color="#5a5a5a"/><stop offset="0.110" stop-color="#585858"/><stop offset="0.137" stop-color="#5e5e5e"/><stop offset="0.174" stop-color="#565656"/><stop offset="0.189" stop-color="#484848"/><stop offset="0.201" stop-color="#404040"/><stop offset="0.201" stop-color="#404040"/><stop offset="0.225" stop-color="#4a4a4a"/><stop offset="0.257" stop-color="#585858"/><stop offset="0.341" stop-color="#6c6c6c"/><stop offset="0.409" stop-color="#606060"/><stop offset="0.473" stop-color="#5c5c5c"/><stop offset="0.640" stop-color="#5e5e5e"/><stop offset="0.752" stop-color="#5e5e5e"/><stop offset="0.840" stop-color="#5c5c5c"/><stop offset="0.904" stop-color="#585858"/><stop offset="0.944" stop-color="#505050"/><stop offset="0.972" stop-color="#383838"/><stop offset="1.000" stop-color="#262626"/></linearGradient>
<linearGradient id="r69" gradientUnits="userSpaceOnUse" x1="511" y1="135.5" x2="500.5" y2="177.1"><stop offset="0.000" stop-color="#484848"/><stop offset="0.013" stop-color="#555555"/><stop offset="0.022" stop-color="#656565"/><stop offset="0.029" stop-color="#4f4f4f"/><stop offset="0.039" stop-color="#636363"/><stop offset="0.051" stop-color="#595959"/><stop offset="0.104" stop-color="#575757"/><stop offset="0.129" stop-color="#5d5d5d"/><stop offset="0.164" stop-color="#555555"/><stop offset="0.178" stop-color="#484848"/><stop offset="0.189" stop-color="#404040"/><stop offset="0.189" stop-color="#404040"/><stop offset="0.213" stop-color="#4a4a4a"/><stop offset="0.246" stop-color="#575757"/><stop offset="0.331" stop-color="#6b6b6b"/><stop offset="0.400" stop-color="#5f5f5f"/><stop offset="0.465" stop-color="#5c5c5c"/><stop offset="0.635" stop-color="#5e5e5e"/><stop offset="0.749" stop-color="#5e5e5e"/><stop offset="0.838" stop-color="#5c5c5c"/><stop offset="0.903" stop-color="#585858"/><stop offset="0.943" stop-color="#505050"/><stop offset="0.972" stop-color="#383838"/><stop offset="1.000" stop-color="#252525"/></linearGradient>
<linearGradient id="r70" gradientUnits="userSpaceOnUse" x1="515.4" y1="137" x2="503.7" y2="178"><stop offset="0.000" stop-color="#474747"/><stop offset="0.012" stop-color="#535353"/><stop offset="0.020" stop-color="#626262"/><stop offset="0.028" stop-color="#4e4e4e"/><stop offset="0.036" stop-color="#606060"/><stop offset="0.048" stop-color="#575757"/><stop offset="0.098" stop-color="#555555"/><stop offset="0.121" stop-color="#5b5b5b"/><stop offset="0.154" stop-color="#535353"/><stop offset="0.167" stop-color="#474747"/><stop offset="0.177" stop-color="#404040"/><stop offset="0.177" stop-color="#404040"/><stop offset="0.202" stop-color="#494949"/><stop offset="0.235" stop-color="#565656"/><stop offset="0.321" stop-color="#696969"/><stop offset="0.391" stop-color="#5e5e5e"/><stop offset="0.457" stop-color="#5b5b5b"/><stop offset="0.630" stop-color="#5e5e5e"/><stop offset="0.745" stop-color="#5e5e5e"/><stop offset="0.836" stop-color="#5c5c5c"/><stop offset="0.901" stop-color="#585858"/><stop offset="0.942" stop-color="#505050"/><stop offset="0.971" stop-color="#373737"/><stop offset="1.000" stop-color="#242424"/></linearGradient>
<linearGradient id="r71" gradientUnits="userSpaceOnUse" x1="519.8" y1="138.7" x2="506.5" y2="178.9"><stop offset="0.000" stop-color="#464646"/><stop offset="0.012" stop-color="#525252"/><stop offset="0.019" stop-color="#5f5f5f"/><stop offset="0.026" stop-color="#4d4d4d"/><stop offset="0.034" stop-color="#5d5d5d"/><stop offset="0.045" stop-color="#555555"/><stop offset="0.091" stop-color="#535353"/><stop offset="0.113" stop-color="#585858"/><stop offset="0.143" stop-color="#525252"/><stop offset="0.156" stop-color="#464646"/><stop offset="0.166" stop-color="#3f3f3f"/><stop offset="0.166" stop-color="#3f3f3f"/><stop offset="0.191" stop-color="#494949"/><stop offset="0.224" stop-color="#555555"/><stop offset="0.312" stop-color="#666666"/><stop offset="0.383" stop-color="#5d5d5d"/><stop offset="0.449" stop-color="#5a5a5a"/><stop offset="0.625" stop-color="#5d5d5d"/><stop offset="0.741" stop-color="#5e5e5e"/><stop offset="0.833" stop-color="#5c5c5c"/><stop offset="0.900" stop-color="#575757"/><stop offset="0.942" stop-color="#4f4f4f"/><stop offset="0.971" stop-color="#363636"/><stop offset="1.000" stop-color="#232323"/></linearGradient>
<linearGradient id="r72" gradientUnits="userSpaceOnUse" x1="523.9" y1="140.4" x2="509.2" y2="180"><stop offset="0.000" stop-color="#454545"/><stop offset="0.010" stop-color="#505050"/><stop offset="0.017" stop-color="#5c5c5c"/><stop offset="0.023" stop-color="#4c4c4c"/><stop offset="0.031" stop-color="#5b5b5b"/><stop offset="0.040" stop-color="#535353"/><stop offset="0.082" stop-color="#525252"/><stop offset="0.102" stop-color="#565656"/><stop offset="0.130" stop-color="#505050"/><stop offset="0.141" stop-color="#454545"/><stop offset="0.150" stop-color="#3f3f3f"/><stop offset="0.150" stop-color="#3f3f3f"/><stop offset="0.175" stop-color="#484848"/><stop offset="0.209" stop-color="#545454"/><stop offset="0.299" stop-color="#646464"/><stop offset="0.371" stop-color="#5c5c5c"/><stop offset="0.439" stop-color="#5a5a5a"/><stop offset="0.617" stop-color="#5d5d5d"/><stop offset="0.736" stop-color="#5e5e5e"/><stop offset="0.830" stop-color="#5b5b5b"/><stop offset="0.898" stop-color="#575757"/><stop offset="0.940" stop-color="#4f4f4f"/><stop offset="0.970" stop-color="#363636"/><stop offset="1.000" stop-color="#222222"/></linearGradient>
<linearGradient id="r73" gradientUnits="userSpaceOnUse" x1="527.9" y1="142.2" x2="511.8" y2="181.2"><stop offset="0.000" stop-color="#454545"/><stop offset="0.009" stop-color="#4f4f4f"/><stop offset="0.015" stop-color="#5a5a5a"/><stop offset="0.020" stop-color="#4a4a4a"/><stop offset="0.026" stop-color="#585858"/><stop offset="0.035" stop-color="#515151"/><stop offset="0.071" stop-color="#505050"/><stop offset="0.088" stop-color="#545454"/><stop offset="0.112" stop-color="#4f4f4f"/><stop offset="0.121" stop-color="#454545"/><stop offset="0.129" stop-color="#3f3f3f"/><stop offset="0.129" stop-color="#3f3f3f"/><stop offset="0.155" stop-color="#484848"/><stop offset="0.190" stop-color="#525252"/><stop offset="0.282" stop-color="#626262"/><stop offset="0.356" stop-color="#5b5b5b"/><stop offset="0.425" stop-color="#595959"/><stop offset="0.608" stop-color="#5d5d5d"/><stop offset="0.730" stop-color="#5e5e5e"/><stop offset="0.826" stop-color="#5b5b5b"/><stop offset="0.896" stop-color="#575757"/><stop offset="0.939" stop-color="#4f4f4f"/><stop offset="0.970" stop-color="#353535"/><stop offset="1.000" stop-color="#212121"/></linearGradient>
<linearGradient id="r74" gradientUnits="userSpaceOnUse" x1="531.7" y1="144" x2="514.3" y2="182.4"><stop offset="0.000" stop-color="#444444"/><stop offset="0.008" stop-color="#4d4d4d"/><stop offset="0.013" stop-color="#575757"/><stop offset="0.017" stop-color="#494949"/><stop offset="0.022" stop-color="#565656"/><stop offset="0.029" stop-color="#505050"/><stop offset="0.060" stop-color="#4e4e4e"/><stop offset="0.074" stop-color="#525252"/><stop offset="0.094" stop-color="#4d4d4d"/><stop offset="0.102" stop-color="#444444"/><stop offset="0.109" stop-color="#3f3f3f"/><stop offset="0.109" stop-color="#3f3f3f"/><stop offset="0.135" stop-color="#474747"/><stop offset="0.171" stop-color="#515151"/><stop offset="0.265" stop-color="#606060"/><stop offset="0.340" stop-color="#5a5a5a"/><stop offset="0.412" stop-color="#595959"/><stop offset="0.599" stop-color="#5d5d5d"/><stop offset="0.724" stop-color="#5e5e5e"/><stop offset="0.822" stop-color="#5b5b5b"/><stop offset="0.893" stop-color="#575757"/><stop offset="0.938" stop-color="#4f4f4f"/><stop offset="0.969" stop-color="#353535"/><stop offset="1.000" stop-color="#202020"/></linearGradient>
<linearGradient id="r75" gradientUnits="userSpaceOnUse" x1="535.4" y1="146" x2="516.8" y2="183.7"><stop offset="0.000" stop-color="#444444"/><stop offset="0.006" stop-color="#4c4c4c"/><stop offset="0.010" stop-color="#555555"/><stop offset="0.014" stop-color="#484848"/><stop offset="0.018" stop-color="#535353"/><stop offset="0.024" stop-color="#4e4e4e"/><stop offset="0.049" stop-color="#4d4d4d"/><stop offset="0.060" stop-color="#505050"/><stop offset="0.076" stop-color="#4c4c4c"/><stop offset="0.083" stop-color="#444444"/><stop offset="0.088" stop-color="#3f3f3f"/><stop offset="0.088" stop-color="#3f3f3f"/><stop offset="0.116" stop-color="#474747"/><stop offset="0.152" stop-color="#505050"/><stop offset="0.248" stop-color="#5e5e5e"/><stop offset="0.325" stop-color="#595959"/><stop offset="0.398" stop-color="#585858"/><stop offset="0.590" stop-color="#5d5d5d"/><stop offset="0.717" stop-color="#5e5e5e"/><stop offset="0.818" stop-color="#5c5c5c"/><stop offset="0.891" stop-color="#575757"/><stop offset="0.936" stop-color="#4f4f4f"/><stop offset="0.968" stop-color="#343434"/><stop offset="1.000" stop-color="#1e1e1e"/></linearGradient>
<linearGradient id="r76" gradientUnits="userSpaceOnUse" x1="539.2" y1="148.2" x2="519.4" y2="185.2"><stop offset="0.000" stop-color="#434343"/><stop offset="0.005" stop-color="#4a4a4a"/><stop offset="0.008" stop-color="#525252"/><stop offset="0.010" stop-color="#474747"/><stop offset="0.014" stop-color="#515151"/><stop offset="0.018" stop-color="#4c4c4c"/><stop offset="0.037" stop-color="#4b4b4b"/><stop offset="0.046" stop-color="#4e4e4e"/><stop offset="0.059" stop-color="#4a4a4a"/><stop offset="0.064" stop-color="#434343"/><stop offset="0.068" stop-color="#3f3f3f"/><stop offset="0.068" stop-color="#3f3f3f"/><stop offset="0.096" stop-color="#474747"/><stop offset="0.133" stop-color="#4f4f4f"/><stop offset="0.231" stop-color="#5c5c5c"/><stop offset="0.310" stop-color="#585858"/><stop offset="0.385" stop-color="#585858"/><stop offset="0.580" stop-color="#5d5d5d"/><stop offset="0.711" stop-color="#5e5e5e"/><stop offset="0.814" stop-color="#5c5c5c"/><stop offset="0.888" stop-color="#575757"/><stop offset="0.935" stop-color="#4f4f4f"/><stop offset="0.967" stop-color="#343434"/><stop offset="1.000" stop-color="#1d1d1d"/></linearGradient>
<linearGradient id="r77" gradientUnits="userSpaceOnUse" x1="543" y1="150.5" x2="522.2" y2="186.8"><stop offset="0.000" stop-color="#434343"/><stop offset="0.003" stop-color="#494949"/><stop offset="0.005" stop-color="#505050"/><stop offset="0.007" stop-color="#464646"/><stop offset="0.010" stop-color="#4f4f4f"/><stop offset="0.013" stop-color="#4a4a4a"/><stop offset="0.026" stop-color="#4a4a4a"/><stop offset="0.032" stop-color="#4c4c4c"/><stop offset="0.041" stop-color="#494949"/><stop offset="0.044" stop-color="#434343"/><stop offset="0.047" stop-color="#3f3f3f"/><stop offset="0.047" stop-color="#3f3f3f"/><stop offset="0.076" stop-color="#474747"/><stop offset="0.114" stop-color="#4e4e4e"/><stop offset="0.214" stop-color="#5a5a5a"/><stop offset="0.295" stop-color="#575757"/><stop offset="0.371" stop-color="#585858"/><stop offset="0.571" stop-color="#5d5d5d"/><stop offset="0.705" stop-color="#5e5e5e"/><stop offset="0.809" stop-color="#5c5c5c"/><stop offset="0.886" stop-color="#575757"/><stop offset="0.933" stop-color="#4f4f4f"/><stop offset="0.967" stop-color="#333333"/><stop offset="1.000" stop-color="#1c1c1c"/></linearGradient>
<linearGradient id="r78" gradientUnits="userSpaceOnUse" x1="547.1" y1="153" x2="525.1" y2="188.7"><stop offset="0.000" stop-color="#424242"/><stop offset="0.002" stop-color="#474747"/><stop offset="0.003" stop-color="#4d4d4d"/><stop offset="0.004" stop-color="#454545"/><stop offset="0.005" stop-color="#4c4c4c"/><stop offset="0.007" stop-color="#494949"/><stop offset="0.015" stop-color="#484848"/><stop offset="0.018" stop-color="#4a4a4a"/><stop offset="0.023" stop-color="#474747"/><stop offset="0.025" stop-color="#424242"/><stop offset="0.027" stop-color="#3f3f3f"/><stop offset="0.027" stop-color="#3f3f3f"/><stop offset="0.056" stop-color="#474747"/><stop offset="0.095" stop-color="#4e4e4e"/><stop offset="0.197" stop-color="#585858"/><stop offset="0.280" stop-color="#565656"/><stop offset="0.358" stop-color="#575757"/><stop offset="0.562" stop-color="#5d5d5d"/><stop offset="0.698" stop-color="#5f5f5f"/><stop offset="0.805" stop-color="#5c5c5c"/><stop offset="0.883" stop-color="#575757"/><stop offset="0.932" stop-color="#4f4f4f"/><stop offset="0.966" stop-color="#333333"/><stop offset="1.000" stop-color="#1b1b1b"/></linearGradient>
<linearGradient id="r79" gradientUnits="userSpaceOnUse" x1="551.3" y1="155.8" x2="528.3" y2="191"><stop offset="0.006" stop-color="#3f3f3f"/><stop offset="0.036" stop-color="#464646"/><stop offset="0.076" stop-color="#4d4d4d"/><stop offset="0.180" stop-color="#565656"/><stop offset="0.265" stop-color="#565656"/><stop offset="0.344" stop-color="#575757"/><stop offset="0.553" stop-color="#5d5d5d"/><stop offset="0.692" stop-color="#5f5f5f"/><stop offset="0.801" stop-color="#5d5d5d"/><stop offset="0.881" stop-color="#575757"/><stop offset="0.930" stop-color="#4f4f4f"/><stop offset="0.965" stop-color="#323232"/><stop offset="1.000" stop-color="#1a1a1a"/></linearGradient>
<linearGradient id="r80" gradientUnits="userSpaceOnUse" x1="555.7" y1="158.8" x2="531.6" y2="193.5"><stop offset="0.000" stop-color="#404040"/><stop offset="0.030" stop-color="#464646"/><stop offset="0.070" stop-color="#4c4c4c"/><stop offset="0.175" stop-color="#545454"/><stop offset="0.260" stop-color="#555555"/><stop offset="0.340" stop-color="#575757"/><stop offset="0.550" stop-color="#5e5e5e"/><stop offset="0.690" stop-color="#606060"/><stop offset="0.800" stop-color="#5d5d5d"/><stop offset="0.880" stop-color="#585858"/><stop offset="0.930" stop-color="#4f4f4f"/><stop offset="0.965" stop-color="#323232"/><stop offset="1.000" stop-color="#191919"/></linearGradient>
<linearGradient id="r81" gradientUnits="userSpaceOnUse" x1="560" y1="161.9" x2="535" y2="196.2"><stop offset="0.000" stop-color="#404040"/><stop offset="0.030" stop-color="#464646"/><stop offset="0.070" stop-color="#4b4b4b"/><stop offset="0.175" stop-color="#525252"/><stop offset="0.260" stop-color="#555555"/><stop offset="0.340" stop-color="#575757"/><stop offset="0.550" stop-color="#5e5e5e"/><stop offset="0.690" stop-color="#606060"/><stop offset="0.800" stop-color="#5e5e5e"/><stop offset="0.880" stop-color="#585858"/><stop offset="0.930" stop-color="#4f4f4f"/><stop offset="0.965" stop-color="#323232"/><stop offset="1.000" stop-color="#181818"/></linearGradient>
<linearGradient id="r82" gradientUnits="userSpaceOnUse" x1="564.3" y1="165.1" x2="538.2" y2="199"><stop offset="0.000" stop-color="#404040"/><stop offset="0.030" stop-color="#464646"/><stop offset="0.070" stop-color="#4a4a4a"/><stop offset="0.175" stop-color="#515151"/><stop offset="0.260" stop-color="#545454"/><stop offset="0.340" stop-color="#575757"/><stop offset="0.550" stop-color="#5e5e5e"/><stop offset="0.690" stop-color="#616161"/><stop offset="0.800" stop-color="#5e5e5e"/><stop offset="0.880" stop-color="#585858"/><stop offset="0.930" stop-color="#505050"/><stop offset="0.965" stop-color="#313131"/><stop offset="1.000" stop-color="#171717"/></linearGradient>
<linearGradient id="r83" gradientUnits="userSpaceOnUse" x1="568.3" y1="168.4" x2="541.2" y2="201.7"><stop offset="0.000" stop-color="#404040"/><stop offset="0.030" stop-color="#474747"/><stop offset="0.070" stop-color="#4a4a4a"/><stop offset="0.175" stop-color="#4f4f4f"/><stop offset="0.260" stop-color="#545454"/><stop offset="0.340" stop-color="#575757"/><stop offset="0.550" stop-color="#5f5f5f"/><stop offset="0.690" stop-color="#626262"/><stop offset="0.800" stop-color="#5f5f5f"/><stop offset="0.880" stop-color="#595959"/><stop offset="0.930" stop-color="#505050"/><stop offset="0.965" stop-color="#313131"/><stop offset="1.000" stop-color="#161616"/></linearGradient>
<linearGradient id="r84" gradientUnits="userSpaceOnUse" x1="572.1" y1="171.6" x2="544" y2="204.4"><stop offset="0.000" stop-color="#414141"/><stop offset="0.030" stop-color="#474747"/><stop offset="0.070" stop-color="#4a4a4a"/><stop offset="0.175" stop-color="#4f4f4f"/><stop offset="0.260" stop-color="#545454"/><stop offset="0.340" stop-color="#585858"/><stop offset="0.550" stop-color="#606060"/><stop offset="0.690" stop-color="#636363"/><stop offset="0.800" stop-color="#606060"/><stop offset="0.880" stop-color="#5a5a5a"/><stop offset="0.930" stop-color="#515151"/><stop offset="0.965" stop-color="#313131"/><stop offset="1.000" stop-color="#161616"/></linearGradient>
<linearGradient id="r85" gradientUnits="userSpaceOnUse" x1="575.6" y1="174.7" x2="546.6" y2="207"><stop offset="0.000" stop-color="#424242"/><stop offset="0.030" stop-color="#484848"/><stop offset="0.070" stop-color="#4b4b4b"/><stop offset="0.175" stop-color="#505050"/><stop offset="0.260" stop-color="#555555"/><stop offset="0.340" stop-color="#595959"/><stop offset="0.550" stop-color="#616161"/><stop offset="0.690" stop-color="#646464"/><stop offset="0.800" stop-color="#616161"/><stop offset="0.880" stop-color="#5b5b5b"/><stop offset="0.930" stop-color="#525252"/><stop offset="0.965" stop-color="#323232"/><stop offset="1.000" stop-color="#161616"/></linearGradient>
<linearGradient id="r86" gradientUnits="userSpaceOnUse" x1="578.9" y1="177.9" x2="548.9" y2="209.5"><stop offset="0.000" stop-color="#434343"/><stop offset="0.030" stop-color="#494949"/><stop offset="0.070" stop-color="#4c4c4c"/><stop offset="0.175" stop-color="#515151"/><stop offset="0.260" stop-color="#565656"/><stop offset="0.340" stop-color="#5a5a5a"/><stop offset="0.550" stop-color="#626262"/><stop offset="0.690" stop-color="#656565"/><stop offset="0.800" stop-color="#626262"/><stop offset="0.880" stop-color="#5c5c5c"/><stop offset="0.930" stop-color="#535353"/><stop offset="0.965" stop-color="#323232"/><stop offset="1.000" stop-color="#161616"/></linearGradient>
<linearGradient id="r87" gradientUnits="userSpaceOnUse" x1="582.1" y1="181.2" x2="550.9" y2="211.9"><stop offset="0.000" stop-color="#434343"/><stop offset="0.030" stop-color="#4a4a4a"/><stop offset="0.070" stop-color="#4d4d4d"/><stop offset="0.175" stop-color="#525252"/><stop offset="0.260" stop-color="#575757"/><stop offset="0.340" stop-color="#5b5b5b"/><stop offset="0.550" stop-color="#636363"/><stop offset="0.690" stop-color="#666666"/><stop offset="0.800" stop-color="#636363"/><stop offset="0.880" stop-color="#5d5d5d"/><stop offset="0.930" stop-color="#545454"/><stop offset="0.965" stop-color="#333333"/><stop offset="1.000" stop-color="#161616"/></linearGradient>
<linearGradient id="r88" gradientUnits="userSpaceOnUse" x1="585.3" y1="184.7" x2="552.8" y2="214.4"><stop offset="0.000" stop-color="#444444"/><stop offset="0.030" stop-color="#4a4a4a"/><stop offset="0.070" stop-color="#4d4d4d"/><stop offset="0.175" stop-color="#535353"/><stop offset="0.260" stop-color="#585858"/><stop offset="0.340" stop-color="#5c5c5c"/><stop offset="0.550" stop-color="#646464"/><stop offset="0.690" stop-color="#676767"/><stop offset="0.800" stop-color="#646464"/><stop offset="0.880" stop-color="#5e5e5e"/><stop offset="0.930" stop-color="#555555"/><stop offset="0.965" stop-color="#343434"/><stop offset="1.000" stop-color="#171717"/></linearGradient>
<linearGradient id="r89" gradientUnits="userSpaceOnUse" x1="588.4" y1="188.5" x2="554.7" y2="217.1"><stop offset="0.000" stop-color="#454545"/><stop offset="0.030" stop-color="#4b4b4b"/><stop offset="0.070" stop-color="#4e4e4e"/><stop offset="0.175" stop-color="#545454"/><stop offset="0.260" stop-color="#595959"/><stop offset="0.340" stop-color="#5d5d5d"/><stop offset="0.550" stop-color="#656565"/><stop offset="0.690" stop-color="#686868"/><stop offset="0.800" stop-color="#656565"/><stop offset="0.880" stop-color="#5f5f5f"/><stop offset="0.930" stop-color="#565656"/><stop offset="0.965" stop-color="#343434"/><stop offset="1.000" stop-color="#171717"/></linearGradient>
<linearGradient id="r90" gradientUnits="userSpaceOnUse" x1="591.6" y1="192.7" x2="557.1" y2="220.2"><stop offset="0.000" stop-color="#464646"/><stop offset="0.030" stop-color="#4c4c4c"/><stop offset="0.070" stop-color="#4f4f4f"/><stop offset="0.175" stop-color="#545454"/><stop offset="0.260" stop-color="#5a5a5a"/><stop offset="0.340" stop-color="#5e5e5e"/><stop offset="0.550" stop-color="#666666"/><stop offset="0.690" stop-color="#6a6a6a"/><stop offset="0.800" stop-color="#666666"/><stop offset="0.880" stop-color="#606060"/><stop offset="0.930" stop-color="#575757"/><stop offset="0.965" stop-color="#353535"/><stop offset="1.000" stop-color="#171717"/></linearGradient>
<linearGradient id="r91" gradientUnits="userSpaceOnUse" x1="594.9" y1="197.4" x2="559.7" y2="223.8"><stop offset="0.000" stop-color="#464646"/><stop offset="0.030" stop-color="#4d4d4d"/><stop offset="0.070" stop-color="#505050"/><stop offset="0.175" stop-color="#555555"/><stop offset="0.260" stop-color="#5b5b5b"/><stop offset="0.340" stop-color="#5f5f5f"/><stop offset="0.550" stop-color="#686868"/><stop offset="0.690" stop-color="#6b6b6b"/><stop offset="0.800" stop-color="#686868"/><stop offset="0.880" stop-color="#616161"/><stop offset="0.930" stop-color="#585858"/><stop offset="0.965" stop-color="#353535"/><stop offset="1.000" stop-color="#171717"/></linearGradient>
<linearGradient id="r92" gradientUnits="userSpaceOnUse" x1="598.2" y1="202.3" x2="562.2" y2="227.7"><stop offset="0.000" stop-color="#474747"/><stop offset="0.030" stop-color="#4e4e4e"/><stop offset="0.070" stop-color="#515151"/><stop offset="0.175" stop-color="#565656"/><stop offset="0.260" stop-color="#5c5c5c"/><stop offset="0.340" stop-color="#606060"/><stop offset="0.550" stop-color="#696969"/><stop offset="0.690" stop-color="#6c6c6c"/><stop offset="0.800" stop-color="#696969"/><stop offset="0.880" stop-color="#626262"/><stop offset="0.930" stop-color="#585858"/><stop offset="0.965" stop-color="#363636"/><stop offset="1.000" stop-color="#181818"/></linearGradient>
<linearGradient id="r93" gradientUnits="userSpaceOnUse" x1="601.5" y1="207.5" x2="564.6" y2="231.7"><stop offset="0.000" stop-color="#484848"/><stop offset="0.030" stop-color="#4f4f4f"/><stop offset="0.070" stop-color="#525252"/><stop offset="0.175" stop-color="#575757"/><stop offset="0.260" stop-color="#5d5d5d"/><stop offset="0.340" stop-color="#616161"/><stop offset="0.550" stop-color="#6a6a6a"/><stop offset="0.690" stop-color="#6d6d6d"/><stop offset="0.800" stop-color="#6a6a6a"/><stop offset="0.880" stop-color="#636363"/><stop offset="0.930" stop-color="#595959"/><stop offset="0.965" stop-color="#373737"/><stop offset="1.000" stop-color="#181818"/></linearGradient>
<linearGradient id="r94" gradientUnits="userSpaceOnUse" x1="604.6" y1="212.8" x2="566.8" y2="236"><stop offset="0.000" stop-color="#494949"/><stop offset="0.030" stop-color="#4f4f4f"/><stop offset="0.070" stop-color="#535353"/><stop offset="0.175" stop-color="#585858"/><stop offset="0.260" stop-color="#5e5e5e"/><stop offset="0.340" stop-color="#626262"/><stop offset="0.550" stop-color="#6b6b6b"/><stop offset="0.690" stop-color="#6e6e6e"/><stop offset="0.800" stop-color="#6b6b6b"/><stop offset="0.880" stop-color="#646464"/><stop offset="0.930" stop-color="#5a5a5a"/><stop offset="0.965" stop-color="#373737"/><stop offset="1.000" stop-color="#181818"/></linearGradient>
<linearGradient id="r95" gradientUnits="userSpaceOnUse" x1="607.6" y1="218.3" x2="568.9" y2="240.3"><stop offset="0.000" stop-color="#4a4a4a"/><stop offset="0.030" stop-color="#505050"/><stop offset="0.070" stop-color="#545454"/><stop offset="0.175" stop-color="#595959"/><stop offset="0.260" stop-color="#5f5f5f"/><stop offset="0.340" stop-color="#636363"/><stop offset="0.550" stop-color="#6c6c6c"/><stop offset="0.690" stop-color="#6f6f6f"/><stop offset="0.800" stop-color="#6c6c6c"/><stop offset="0.880" stop-color="#656565"/><stop offset="0.930" stop-color="#5b5b5b"/><stop offset="0.965" stop-color="#383838"/><stop offset="1.000" stop-color="#191919"/></linearGradient>
<linearGradient id="r96" gradientUnits="userSpaceOnUse" x1="610.4" y1="223.8" x2="571.3" y2="245"><stop offset="0.000" stop-color="#4b4b4b"/><stop offset="0.030" stop-color="#525252"/><stop offset="0.070" stop-color="#555555"/><stop offset="0.175" stop-color="#5b5b5b"/><stop offset="0.260" stop-color="#606060"/><stop offset="0.340" stop-color="#656565"/><stop offset="0.550" stop-color="#6e6e6e"/><stop offset="0.690" stop-color="#717171"/><stop offset="0.800" stop-color="#6e6e6e"/><stop offset="0.880" stop-color="#676767"/><stop offset="0.930" stop-color="#5d5d5d"/><stop offset="0.965" stop-color="#393939"/><stop offset="1.000" stop-color="#191919"/></linearGradient>
<linearGradient id="r97" gradientUnits="userSpaceOnUse" x1="613" y1="229.5" x2="573.9" y2="249.9"><stop offset="0.000" stop-color="#4d4d4d"/><stop offset="0.030" stop-color="#545454"/><stop offset="0.070" stop-color="#575757"/><stop offset="0.175" stop-color="#5d5d5d"/><stop offset="0.260" stop-color="#636363"/><stop offset="0.340" stop-color="#676767"/><stop offset="0.550" stop-color="#717171"/><stop offset="0.690" stop-color="#747474"/><stop offset="0.800" stop-color="#717171"/><stop offset="0.880" stop-color="#6a6a6a"/><stop offset="0.930" stop-color="#5f5f5f"/><stop offset="0.965" stop-color="#3a3a3a"/><stop offset="1.000" stop-color="#1a1a1a"/></linearGradient>
<linearGradient id="r98" gradientUnits="userSpaceOnUse" x1="615.6" y1="235.3" x2="576.3" y2="254.8"><stop offset="0.000" stop-color="#4e4e4e"/><stop offset="0.030" stop-color="#555555"/><stop offset="0.070" stop-color="#595959"/><stop offset="0.175" stop-color="#5f5f5f"/><stop offset="0.260" stop-color="#656565"/><stop offset="0.340" stop-color="#6a6a6a"/><stop offset="0.550" stop-color="#737373"/><stop offset="0.690" stop-color="#777777"/><stop offset="0.800" stop-color="#737373"/><stop offset="0.880" stop-color="#6c6c6c"/><stop offset="0.930" stop-color="#616161"/><stop offset="0.965" stop-color="#3b3b3b"/><stop offset="1.000" stop-color="#1a1a1a"/></linearGradient>
<linearGradient id="r99" gradientUnits="userSpaceOnUse" x1="618" y1="241.3" x2="578.5" y2="259.5"><stop offset="0.000" stop-color="#505050"/><stop offset="0.030" stop-color="#575757"/><stop offset="0.070" stop-color="#5b5b5b"/><stop offset="0.175" stop-color="#616161"/><stop offset="0.260" stop-color="#676767"/><stop offset="0.340" stop-color="#6c6c6c"/><stop offset="0.550" stop-color="#767676"/><stop offset="0.690" stop-color="#797979"/><stop offset="0.800" stop-color="#767676"/><stop offset="0.880" stop-color="#6e6e6e"/><stop offset="0.930" stop-color="#636363"/><stop offset="0.965" stop-color="#3d3d3d"/><stop offset="1.000" stop-color="#1b1b1b"/></linearGradient>
<linearGradient id="r100" gradientUnits="userSpaceOnUse" x1="620.1" y1="247.2" x2="580.1" y2="264"><stop offset="0.000" stop-color="#525252"/><stop offset="0.030" stop-color="#595959"/><stop offset="0.070" stop-color="#5d5d5d"/><stop offset="0.175" stop-color="#636363"/><stop offset="0.260" stop-color="#696969"/><stop offset="0.340" stop-color="#6e6e6e"/><stop offset="0.550" stop-color="#787878"/><stop offset="0.690" stop-color="#7c7c7c"/><stop offset="0.800" stop-color="#787878"/><stop offset="0.880" stop-color="#717171"/><stop offset="0.930" stop-color="#666666"/><stop offset="0.965" stop-color="#3e3e3e"/><stop offset="1.000" stop-color="#1b1b1b"/></linearGradient>
<linearGradient id="r101" gradientUnits="userSpaceOnUse" x1="622.1" y1="253.1" x2="581.2" y2="268"><stop offset="0.000" stop-color="#545454"/><stop offset="0.030" stop-color="#5b5b5b"/><stop offset="0.070" stop-color="#5f5f5f"/><stop offset="0.175" stop-color="#656565"/><stop offset="0.260" stop-color="#6c6c6c"/><stop offset="0.340" stop-color="#717171"/><stop offset="0.550" stop-color="#7b7b7b"/><stop offset="0.690" stop-color="#7f7f7f"/><stop offset="0.800" stop-color="#7b7b7b"/><stop offset="0.880" stop-color="#737373"/><stop offset="0.930" stop-color="#686868"/><stop offset="0.965" stop-color="#3f3f3f"/><stop offset="1.000" stop-color="#1c1c1c"/></linearGradient>
<linearGradient id="r102" gradientUnits="userSpaceOnUse" x1="623.8" y1="258.8" x2="581.8" y2="271.6"><stop offset="0.000" stop-color="#555555"/><stop offset="0.030" stop-color="#5d5d5d"/><stop offset="0.070" stop-color="#616161"/><stop offset="0.175" stop-color="#676767"/><stop offset="0.260" stop-color="#6e6e6e"/><stop offset="0.340" stop-color="#737373"/><stop offset="0.550" stop-color="#7d7d7d"/><stop offset="0.690" stop-color="#818181"/><stop offset="0.800" stop-color="#7d7d7d"/><stop offset="0.880" stop-color="#767676"/><stop offset="0.930" stop-color="#6a6a6a"/><stop offset="0.965" stop-color="#414141"/><stop offset="1.000" stop-color="#1c1c1c"/></linearGradient>
<linearGradient id="r103" gradientUnits="userSpaceOnUse" x1="625.1" y1="264.4" x2="582.4" y2="275.1"><stop offset="0.000" stop-color="#575757"/><stop offset="0.030" stop-color="#5f5f5f"/><stop offset="0.070" stop-color="#636363"/><stop offset="0.175" stop-color="#6a6a6a"/><stop offset="0.260" stop-color="#707070"/><stop offset="0.340" stop-color="#757575"/><stop offset="0.550" stop-color="#808080"/><stop offset="0.690" stop-color="#848484"/><stop offset="0.800" stop-color="#808080"/><stop offset="0.880" stop-color="#787878"/><stop offset="0.930" stop-color="#6c6c6c"/><stop offset="0.965" stop-color="#424242"/><stop offset="1.000" stop-color="#1d1d1d"/></linearGradient>
<linearGradient id="r104" gradientUnits="userSpaceOnUse" x1="626.2" y1="269.9" x2="582.8" y2="278.8"><stop offset="0.000" stop-color="#595959"/><stop offset="0.030" stop-color="#616161"/><stop offset="0.070" stop-color="#656565"/><stop offset="0.175" stop-color="#6c6c6c"/><stop offset="0.260" stop-color="#727272"/><stop offset="0.340" stop-color="#787878"/><stop offset="0.550" stop-color="#838383"/><stop offset="0.690" stop-color="#878787"/><stop offset="0.800" stop-color="#838383"/><stop offset="0.880" stop-color="#7b7b7b"/><stop offset="0.930" stop-color="#6e6e6e"/><stop offset="0.965" stop-color="#434343"/><stop offset="1.000" stop-color="#1e1e1e"/></linearGradient>
<linearGradient id="r105" gradientUnits="userSpaceOnUse" x1="627.1" y1="275.5" x2="583.3" y2="282.8"><stop offset="0.000" stop-color="#5b5b5b"/><stop offset="0.030" stop-color="#636363"/><stop offset="0.070" stop-color="#676767"/><stop offset="0.175" stop-color="#6e6e6e"/><stop offset="0.260" stop-color="#757575"/><stop offset="0.340" stop-color="#7a7a7a"/><stop offset="0.550" stop-color="#858585"/><stop offset="0.690" stop-color="#898989"/><stop offset="0.800" stop-color="#858585"/><stop offset="0.880" stop-color="#7d7d7d"/><stop offset="0.930" stop-color="#717171"/><stop offset="0.965" stop-color="#454545"/><stop offset="1.000" stop-color="#1e1e1e"/></linearGradient>
<linearGradient id="r106" gradientUnits="userSpaceOnUse" x1="627.9" y1="281.1" x2="583.9" y2="287.3"><stop offset="0.000" stop-color="#5c5c5c"/><stop offset="0.030" stop-color="#656565"/><stop offset="0.070" stop-color="#696969"/><stop offset="0.175" stop-color="#707070"/><stop offset="0.260" stop-color="#777777"/><stop offset="0.340" stop-color="#7d7d7d"/><stop offset="0.550" stop-color="#888888"/><stop offset="0.690" stop-color="#8c8c8c"/><stop offset="0.800" stop-color="#888888"/><stop offset="0.880" stop-color="#7f7f7f"/><stop offset="0.930" stop-color="#737373"/><stop offset="0.965" stop-color="#464646"/><stop offset="1.000" stop-color="#1f1f1f"/></linearGradient>
<linearGradient id="r107" gradientUnits="userSpaceOnUse" x1="628.6" y1="287" x2="584.6" y2="292.6"><stop offset="0.000" stop-color="#5e5e5e"/><stop offset="0.030" stop-color="#676767"/><stop offset="0.070" stop-color="#6b6b6b"/><stop offset="0.175" stop-color="#727272"/><stop offset="0.260" stop-color="#797979"/><stop offset="0.340" stop-color="#7f7f7f"/><stop offset="0.550" stop-color="#8a8a8a"/><stop offset="0.690" stop-color="#8f8f8f"/><stop offset="0.800" stop-color="#8a8a8a"/><stop offset="0.880" stop-color="#828282"/><stop offset="0.930" stop-color="#757575"/><stop offset="0.965" stop-color="#474747"/><stop offset="1.000" stop-color="#1f1f1f"/></linearGradient>
<linearGradient id="r108" gradientUnits="userSpaceOnUse" x1="629.3" y1="293.1" x2="585.2" y2="298.3"><stop offset="0.000" stop-color="#606060"/><stop offset="0.030" stop-color="#686868"/><stop offset="0.070" stop-color="#6d6d6d"/><stop offset="0.175" stop-color="#747474"/><stop offset="0.260" stop-color="#7b7b7b"/><stop offset="0.340" stop-color="#818181"/><stop offset="0.550" stop-color="#8d8d8d"/><stop offset="0.690" stop-color="#919191"/><stop offset="0.800" stop-color="#8d8d8d"/><stop offset="0.880" stop-color="#848484"/><stop offset="0.930" stop-color="#777777"/><stop offset="0.965" stop-color="#484848"/><stop offset="1.000" stop-color="#202020"/></linearGradient>
<linearGradient id="r109" gradientUnits="userSpaceOnUse" x1="630" y1="299.5" x2="585.8" y2="303.9"><stop offset="0.000" stop-color="#616161"/><stop offset="0.030" stop-color="#6a6a6a"/><stop offset="0.070" stop-color="#6e6e6e"/><stop offset="0.175" stop-color="#757575"/><stop offset="0.260" stop-color="#7d7d7d"/><stop offset="0.340" stop-color="#838383"/><stop offset="0.550" stop-color="#8e8e8e"/><stop offset="0.690" stop-color="#939393"/><stop offset="0.800" stop-color="#8e8e8e"/><stop offset="0.880" stop-color="#868686"/><stop offset="0.930" stop-color="#787878"/><stop offset="0.965" stop-color="#494949"/><stop offset="1.000" stop-color="#202020"/></linearGradient>
<linearGradient id="r110" gradientUnits="userSpaceOnUse" x1="630.6" y1="306" x2="586.2" y2="309.6"><stop offset="0.000" stop-color="#626262"/><stop offset="0.030" stop-color="#6b6b6b"/><stop offset="0.070" stop-color="#6f6f6f"/><stop offset="0.175" stop-color="#777777"/><stop offset="0.260" stop-color="#7e7e7e"/><stop offset="0.340" stop-color="#848484"/><stop offset="0.550" stop-color="#909090"/><stop offset="0.690" stop-color="#959595"/><stop offset="0.800" stop-color="#909090"/><stop offset="0.880" stop-color="#878787"/><stop offset="0.930" stop-color="#7a7a7a"/><stop offset="0.965" stop-color="#4a4a4a"/><stop offset="1.000" stop-color="#212121"/></linearGradient>
<linearGradient id="r111" gradientUnits="userSpaceOnUse" x1="631" y1="312.7" x2="586.5" y2="315.4"><stop offset="0.000" stop-color="#636363"/><stop offset="0.030" stop-color="#6c6c6c"/><stop offset="0.070" stop-color="#717171"/><stop offset="0.175" stop-color="#787878"/><stop offset="0.260" stop-color="#808080"/><stop offset="0.340" stop-color="#868686"/><stop offset="0.550" stop-color="#929292"/><stop offset="0.690" stop-color="#969696"/><stop offset="0.800" stop-color="#929292"/><stop offset="0.880" stop-color="#898989"/><stop offset="0.930" stop-color="#7b7b7b"/><stop offset="0.965" stop-color="#4b4b4b"/><stop offset="1.000" stop-color="#212121"/></linearGradient>
<linearGradient id="r112" gradientUnits="userSpaceOnUse" x1="631.4" y1="319.5" x2="586.8" y2="321.2"><stop offset="0.000" stop-color="#646464"/><stop offset="0.030" stop-color="#6e6e6e"/><stop offset="0.070" stop-color="#727272"/><stop offset="0.175" stop-color="#7a7a7a"/><stop offset="0.260" stop-color="#818181"/><stop offset="0.340" stop-color="#888888"/><stop offset="0.550" stop-color="#949494"/><stop offset="0.690" stop-color="#989898"/><stop offset="0.800" stop-color="#949494"/><stop offset="0.880" stop-color="#8b8b8b"/><stop offset="0.930" stop-color="#7d7d7d"/><stop offset="0.965" stop-color="#4c4c4c"/><stop offset="1.000" stop-color="#212121"/></linearGradient>
<linearGradient id="r113" gradientUnits="userSpaceOnUse" x1="631.5" y1="326.5" x2="586.9" y2="326.9"><stop offset="0.000" stop-color="#666666"/><stop offset="0.030" stop-color="#6f6f6f"/><stop offset="0.070" stop-color="#747474"/><stop offset="0.175" stop-color="#7b7b7b"/><stop offset="0.260" stop-color="#838383"/><stop offset="0.340" stop-color="#898989"/><stop offset="0.550" stop-color="#959595"/><stop offset="0.690" stop-color="#9a9a9a"/><stop offset="0.800" stop-color="#959595"/><stop offset="0.880" stop-color="#8c8c8c"/><stop offset="0.930" stop-color="#7e7e7e"/><stop offset="0.965" stop-color="#4d4d4d"/><stop offset="1.000" stop-color="#222222"/></linearGradient>
<linearGradient id="r114" gradientUnits="userSpaceOnUse" x1="631.4" y1="333.6" x2="587" y2="332.7"><stop offset="0.000" stop-color="#676767"/><stop offset="0.030" stop-color="#707070"/><stop offset="0.070" stop-color="#747474"/><stop offset="0.175" stop-color="#7c7c7c"/><stop offset="0.260" stop-color="#848484"/><stop offset="0.340" stop-color="#8a8a8a"/><stop offset="0.550" stop-color="#979797"/><stop offset="0.690" stop-color="#9b9b9b"/><stop offset="0.800" stop-color="#979797"/><stop offset="0.880" stop-color="#8d8d8d"/><stop offset="0.930" stop-color="#7f7f7f"/><stop offset="0.965" stop-color="#4e4e4e"/><stop offset="1.000" stop-color="#222222"/></linearGradient>
<linearGradient id="r115" gradientUnits="userSpaceOnUse" x1="631.1" y1="341" x2="586.9" y2="338.9"><stop offset="0.000" stop-color="#676767"/><stop offset="0.030" stop-color="#707070"/><stop offset="0.070" stop-color="#757575"/><stop offset="0.175" stop-color="#7d7d7d"/><stop offset="0.260" stop-color="#858585"/><stop offset="0.340" stop-color="#8b8b8b"/><stop offset="0.550" stop-color="#979797"/><stop offset="0.690" stop-color="#9c9c9c"/><stop offset="0.800" stop-color="#979797"/><stop offset="0.880" stop-color="#8e8e8e"/><stop offset="0.930" stop-color="#808080"/><stop offset="0.965" stop-color="#4e4e4e"/><stop offset="1.000" stop-color="#222222"/></linearGradient>
<linearGradient id="r116" gradientUnits="userSpaceOnUse" x1="630.7" y1="348.6" x2="586.6" y2="345.6"><stop offset="0.000" stop-color="#676767"/><stop offset="0.030" stop-color="#717171"/><stop offset="0.070" stop-color="#767676"/><stop offset="0.175" stop-color="#7d7d7d"/><stop offset="0.260" stop-color="#858585"/><stop offset="0.340" stop-color="#8b8b8b"/><stop offset="0.550" stop-color="#989898"/><stop offset="0.690" stop-color="#9d9d9d"/><stop offset="0.800" stop-color="#989898"/><stop offset="0.880" stop-color="#8f8f8f"/><stop offset="0.930" stop-color="#808080"/><stop offset="0.965" stop-color="#4e4e4e"/><stop offset="1.000" stop-color="#222222"/></linearGradient>
<linearGradient id="r117" gradientUnits="userSpaceOnUse" x1="630" y1="356.3" x2="586.1" y2="352.5"><stop offset="0.000" stop-color="#686868"/><stop offset="0.030" stop-color="#717171"/><stop offset="0.070" stop-color="#767676"/><stop offset="0.175" stop-color="#7e7e7e"/><stop offset="0.260" stop-color="#868686"/><stop offset="0.340" stop-color="#8c8c8c"/><stop offset="0.550" stop-color="#999999"/><stop offset="0.690" stop-color="#9d9d9d"/><stop offset="0.800" stop-color="#999999"/><stop offset="0.880" stop-color="#8f8f8f"/><stop offset="0.930" stop-color="#818181"/><stop offset="0.965" stop-color="#4f4f4f"/><stop offset="1.000" stop-color="#232323"/></linearGradient>
<linearGradient id="r118" gradientUnits="userSpaceOnUse" x1="629.3" y1="363.9" x2="585.6" y2="359.5"><stop offset="0.000" stop-color="#686868"/><stop offset="0.030" stop-color="#727272"/><stop offset="0.070" stop-color="#767676"/><stop offset="0.175" stop-color="#7e7e7e"/><stop offset="0.260" stop-color="#868686"/><stop offset="0.340" stop-color="#8d8d8d"/><stop offset="0.550" stop-color="#999999"/><stop offset="0.690" stop-color="#9e9e9e"/><stop offset="0.800" stop-color="#999999"/><stop offset="0.880" stop-color="#909090"/><stop offset="0.930" stop-color="#828282"/><stop offset="0.965" stop-color="#4f4f4f"/><stop offset="1.000" stop-color="#232323"/></linearGradient>
<linearGradient id="r119" gradientUnits="userSpaceOnUse" x1="628.4" y1="371.3" x2="584.9" y2="366.5"><stop offset="0.000" stop-color="#696969"/><stop offset="0.030" stop-color="#727272"/><stop offset="0.070" stop-color="#777777"/><stop offset="0.175" stop-color="#7f7f7f"/><stop offset="0.260" stop-color="#878787"/><stop offset="0.340" stop-color="#8d8d8d"/><stop offset="0.550" stop-color="#9a9a9a"/><stop offset="0.690" stop-color="#9f9f9f"/><stop offset="0.800" stop-color="#9a9a9a"/><stop offset="0.880" stop-color="#909090"/><stop offset="0.930" stop-color="#828282"/><stop offset="0.965" stop-color="#4f4f4f"/><stop offset="1.000" stop-color="#232323"/></linearGradient>
<linearGradient id="r120" gradientUnits="userSpaceOnUse" x1="627.5" y1="378.6" x2="584.3" y2="373.1"><stop offset="0.000" stop-color="#696969"/><stop offset="0.030" stop-color="#737373"/><stop offset="0.070" stop-color="#777777"/><stop offset="0.175" stop-color="#7f7f7f"/><stop offset="0.260" stop-color="#878787"/><stop offset="0.340" stop-color="#8e8e8e"/><stop offset="0.550" stop-color="#9b9b9b"/><stop offset="0.690" stop-color="#9f9f9f"/><stop offset="0.800" stop-color="#9b9b9b"/><stop offset="0.880" stop-color="#919191"/><stop offset="0.930" stop-color="#838383"/><stop offset="0.965" stop-color="#505050"/><stop offset="1.000" stop-color="#232323"/></linearGradient>
<linearGradient id="r121" gradientUnits="userSpaceOnUse" x1="626.4" y1="385.7" x2="583.7" y2="379.4"><stop offset="0.000" stop-color="#6a6a6a"/><stop offset="0.030" stop-color="#737373"/><stop offset="0.070" stop-color="#787878"/><stop offset="0.175" stop-color="#808080"/><stop offset="0.260" stop-color="#888888"/><stop offset="0.340" stop-color="#8e8e8e"/><stop offset="0.550" stop-color="#9b9b9b"/><stop offset="0.690" stop-color="#a0a0a0"/><stop offset="0.800" stop-color="#9b9b9b"/><stop offset="0.880" stop-color="#929292"/><stop offset="0.930" stop-color="#838383"/><stop offset="0.965" stop-color="#505050"/><stop offset="1.000" stop-color="#232323"/></linearGradient>
<linearGradient id="r122" gradientUnits="userSpaceOnUse" x1="625.1" y1="392.8" x2="582.9" y2="385.9"><stop offset="0.000" stop-color="#6a6a6a"/><stop offset="0.030" stop-color="#747474"/><stop offset="0.070" stop-color="#797979"/><stop offset="0.175" stop-color="#818181"/><stop offset="0.260" stop-color="#898989"/><stop offset="0.340" stop-color="#8f8f8f"/><stop offset="0.550" stop-color="#9c9c9c"/><stop offset="0.690" stop-color="#a1a1a1"/><stop offset="0.800" stop-color="#9c9c9c"/><stop offset="0.880" stop-color="#929292"/><stop offset="0.930" stop-color="#848484"/><stop offset="0.965" stop-color="#505050"/><stop offset="1.000" stop-color="#232323"/></linearGradient>
<linearGradient id="r123" gradientUnits="userSpaceOnUse" x1="623.8" y1="399.7" x2="582" y2="392.4"><stop offset="0.000" stop-color="#6a6a6a"/><stop offset="0.030" stop-color="#747474"/><stop offset="0.070" stop-color="#797979"/><stop offset="0.175" stop-color="#818181"/><stop offset="0.260" stop-color="#898989"/><stop offset="0.340" stop-color="#909090"/><stop offset="0.550" stop-color="#9c9c9c"/><stop offset="0.690" stop-color="#a1a1a1"/><stop offset="0.800" stop-color="#9c9c9c"/><stop offset="0.880" stop-color="#939393"/><stop offset="0.930" stop-color="#848484"/><stop offset="0.965" stop-color="#515151"/><stop offset="1.000" stop-color="#232323"/></linearGradient>
<linearGradient id="r124" gradientUnits="userSpaceOnUse" x1="622.5" y1="406.4" x2="581.1" y2="398.8"><stop offset="0.000" stop-color="#6b6b6b"/><stop offset="0.030" stop-color="#757575"/><stop offset="0.070" stop-color="#7a7a7a"/><stop offset="0.175" stop-color="#828282"/><stop offset="0.260" stop-color="#8a8a8a"/><stop offset="0.340" stop-color="#909090"/><stop offset="0.550" stop-color="#9d9d9d"/><stop offset="0.690" stop-color="#a2a2a2"/><stop offset="0.800" stop-color="#9d9d9d"/><stop offset="0.880" stop-color="#939393"/><stop offset="0.930" stop-color="#858585"/><stop offset="0.965" stop-color="#515151"/><stop offset="1.000" stop-color="#242424"/></linearGradient>
<linearGradient id="r125" gradientUnits="userSpaceOnUse" x1="621.1" y1="412.9" x2="580.1" y2="405"><stop offset="0.000" stop-color="#6b6b6b"/><stop offset="0.030" stop-color="#757575"/><stop offset="0.070" stop-color="#7a7a7a"/><stop offset="0.175" stop-color="#828282"/><stop offset="0.260" stop-color="#8a8a8a"/><stop offset="0.340" stop-color="#919191"/><stop offset="0.550" stop-color="#9e9e9e"/><stop offset="0.690" stop-color="#a3a3a3"/><stop offset="0.800" stop-color="#9e9e9e"/><stop offset="0.880" stop-color="#949494"/><stop offset="0.930" stop-color="#858585"/><stop offset="0.965" stop-color="#515151"/><stop offset="1.000" stop-color="#242424"/></linearGradient>
<linearGradient id="r126" gradientUnits="userSpaceOnUse" x1="619.9" y1="418.9" x2="579" y2="411"><stop offset="0.000" stop-color="#6c6c6c"/><stop offset="0.030" stop-color="#767676"/><stop offset="0.070" stop-color="#7a7a7a"/><stop offset="0.175" stop-color="#838383"/><stop offset="0.260" stop-color="#8b8b8b"/><stop offset="0.340" stop-color="#919191"/><stop offset="0.550" stop-color="#9e9e9e"/><stop offset="0.690" stop-color="#a3a3a3"/><stop offset="0.800" stop-color="#9e9e9e"/><stop offset="0.880" stop-color="#959595"/><stop offset="0.930" stop-color="#868686"/><stop offset="0.965" stop-color="#525252"/><stop offset="1.000" stop-color="#242424"/></linearGradient>
<linearGradient id="r127" gradientUnits="userSpaceOnUse" x1="618.8" y1="424.3" x2="578" y2="416.4"><stop offset="0.000" stop-color="#6c6c6c"/><stop offset="0.030" stop-color="#767676"/><stop offset="0.070" stop-color="#7b7b7b"/><stop offset="0.175" stop-color="#838383"/><stop offset="0.260" stop-color="#8b8b8b"/><stop offset="0.340" stop-color="#929292"/><stop offset="0.550" stop-color="#9f9f9f"/><stop offset="0.690" stop-color="#a4a4a4"/><stop offset="0.800" stop-color="#9f9f9f"/><stop offset="0.880" stop-color="#959595"/><stop offset="0.930" stop-color="#868686"/><stop offset="0.965" stop-color="#525252"/><stop offset="1.000" stop-color="#242424"/></linearGradient>
<linearGradient id="r128" gradientUnits="userSpaceOnUse" x1="617.7" y1="429.4" x2="577.2" y2="420.9"><stop offset="0.000" stop-color="#6c6c6c"/><stop offset="0.030" stop-color="#767676"/><stop offset="0.070" stop-color="#7b7b7b"/><stop offset="0.175" stop-color="#838383"/><stop offset="0.260" stop-color="#8b8b8b"/><stop offset="0.340" stop-color="#929292"/><stop offset="0.550" stop-color="#9f9f9f"/><stop offset="0.690" stop-color="#a4a4a4"/><stop offset="0.800" stop-color="#9f9f9f"/><stop offset="0.880" stop-color="#959595"/><stop offset="0.930" stop-color="#878787"/><stop offset="0.965" stop-color="#525252"/><stop offset="1.000" stop-color="#242424"/></linearGradient>
<linearGradient id="r129" gradientUnits="userSpaceOnUse" x1="616.6" y1="434.4" x2="576.6" y2="425"><stop offset="0.000" stop-color="#6d6d6d"/><stop offset="0.030" stop-color="#767676"/><stop offset="0.070" stop-color="#7b7b7b"/><stop offset="0.175" stop-color="#848484"/><stop offset="0.260" stop-color="#8c8c8c"/><stop offset="0.340" stop-color="#929292"/><stop offset="0.550" stop-color="#a0a0a0"/><stop offset="0.690" stop-color="#a4a4a4"/><stop offset="0.800" stop-color="#a0a0a0"/><stop offset="0.880" stop-color="#969696"/><stop offset="0.930" stop-color="#878787"/><stop offset="0.965" stop-color="#525252"/><stop offset="1.000" stop-color="#242424"/></linearGradient>
<linearGradient id="r130" gradientUnits="userSpaceOnUse" x1="615.4" y1="439.5" x2="575.9" y2="428.9"><stop offset="0.000" stop-color="#6d6d6d"/><stop offset="0.030" stop-color="#777777"/><stop offset="0.070" stop-color="#7c7c7c"/><stop offset="0.175" stop-color="#848484"/><stop offset="0.260" stop-color="#8c8c8c"/><stop offset="0.340" stop-color="#939393"/><stop offset="0.550" stop-color="#a0a0a0"/><stop offset="0.690" stop-color="#a5a5a5"/><stop offset="0.800" stop-color="#a0a0a0"/><stop offset="0.880" stop-color="#969696"/><stop offset="0.930" stop-color="#878787"/><stop offset="0.965" stop-color="#525252"/><stop offset="1.000" stop-color="#242424"/></linearGradient>
<linearGradient id="r131" gradientUnits="userSpaceOnUse" x1="613.8" y1="445.1" x2="574.9" y2="433.4"><stop offset="0.000" stop-color="#6d6d6d"/><stop offset="0.030" stop-color="#777777"/><stop offset="0.070" stop-color="#7c7c7c"/><stop offset="0.175" stop-color="#848484"/><stop offset="0.260" stop-color="#8c8c8c"/><stop offset="0.340" stop-color="#939393"/><stop offset="0.550" stop-color="#a0a0a0"/><stop offset="0.690" stop-color="#a5a5a5"/><stop offset="0.800" stop-color="#a0a0a0"/><stop offset="0.880" stop-color="#969696"/><stop offset="0.930" stop-color="#888888"/><stop offset="0.965" stop-color="#535353"/><stop offset="1.000" stop-color="#242424"/></linearGradient>
<linearGradient id="r132" gradientUnits="userSpaceOnUse" x1="612.1" y1="451.2" x2="573.5" y2="438.6"><stop offset="0.000" stop-color="#6d6d6d"/><stop offset="0.030" stop-color="#777777"/><stop offset="0.070" stop-color="#7c7c7c"/><stop offset="0.175" stop-color="#858585"/><stop offset="0.260" stop-color="#8d8d8d"/><stop offset="0.340" stop-color="#939393"/><stop offset="0.550" stop-color="#a1a1a1"/><stop offset="0.690" stop-color="#a6a6a6"/><stop offset="0.800" stop-color="#a1a1a1"/><stop offset="0.880" stop-color="#979797"/><stop offset="0.930" stop-color="#888888"/><stop offset="0.965" stop-color="#535353"/><stop offset="1.000" stop-color="#242424"/></linearGradient>
<linearGradient id="r133" gradientUnits="userSpaceOnUse" x1="610.1" y1="457.6" x2="571.6" y2="444.4"><stop offset="0.000" stop-color="#6e6e6e"/><stop offset="0.030" stop-color="#787878"/><stop offset="0.070" stop-color="#7d7d7d"/><stop offset="0.175" stop-color="#858585"/><stop offset="0.260" stop-color="#8d8d8d"/><stop offset="0.340" stop-color="#949494"/><stop offset="0.550" stop-color="#a1a1a1"/><stop offset="0.690" stop-color="#a6a6a6"/><stop offset="0.800" stop-color="#a1a1a1"/><stop offset="0.880" stop-color="#979797"/><stop offset="0.930" stop-color="#888888"/><stop offset="0.965" stop-color="#535353"/><stop offset="1.000" stop-color="#252525"/></linearGradient>
<linearGradient id="r134" gradientUnits="userSpaceOnUse" x1="608" y1="464.2" x2="569.5" y2="450.3"><stop offset="0.000" stop-color="#6e6e6e"/><stop offset="0.030" stop-color="#787878"/><stop offset="0.070" stop-color="#7d7d7d"/><stop offset="0.175" stop-color="#858585"/><stop offset="0.260" stop-color="#8e8e8e"/><stop offset="0.340" stop-color="#949494"/><stop offset="0.550" stop-color="#a2a2a2"/><stop offset="0.690" stop-color="#a7a7a7"/><stop offset="0.800" stop-color="#a2a2a2"/><stop offset="0.880" stop-color="#989898"/><stop offset="0.930" stop-color="#898989"/><stop offset="0.965" stop-color="#535353"/><stop offset="1.000" stop-color="#252525"/></linearGradient>
<linearGradient id="r135" gradientUnits="userSpaceOnUse" x1="605.6" y1="471.2" x2="567.3" y2="456.5"><stop offset="0.000" stop-color="#6e6e6e"/><stop offset="0.030" stop-color="#787878"/><stop offset="0.070" stop-color="#7d7d7d"/><stop offset="0.175" stop-color="#868686"/><stop offset="0.260" stop-color="#8e8e8e"/><stop offset="0.340" stop-color="#959595"/><stop offset="0.550" stop-color="#a2a2a2"/><stop offset="0.690" stop-color="#a7a7a7"/><stop offset="0.800" stop-color="#a2a2a2"/><stop offset="0.880" stop-color="#989898"/><stop offset="0.930" stop-color="#898989"/><stop offset="0.965" stop-color="#535353"/><stop offset="1.000" stop-color="#252525"/></linearGradient>
<linearGradient id="r136" gradientUnits="userSpaceOnUse" x1="602.9" y1="478.7" x2="564.8" y2="463.2"><stop offset="0.000" stop-color="#6e6e6e"/><stop offset="0.030" stop-color="#797979"/><stop offset="0.070" stop-color="#7e7e7e"/><stop offset="0.175" stop-color="#868686"/><stop offset="0.260" stop-color="#8e8e8e"/><stop offset="0.340" stop-color="#959595"/><stop offset="0.550" stop-color="#a2a2a2"/><stop offset="0.690" stop-color="#a7a7a7"/><stop offset="0.800" stop-color="#a2a2a2"/><stop offset="0.880" stop-color="#989898"/><stop offset="0.930" stop-color="#898989"/><stop offset="0.965" stop-color="#545454"/><stop offset="1.000" stop-color="#252525"/></linearGradient>
<linearGradient id="r137" gradientUnits="userSpaceOnUse" x1="599.7" y1="486.8" x2="562" y2="470.4"><stop offset="0.000" stop-color="#6f6f6f"/><stop offset="0.030" stop-color="#797979"/><stop offset="0.070" stop-color="#7e7e7e"/><stop offset="0.175" stop-color="#868686"/><stop offset="0.260" stop-color="#8f8f8f"/><stop offset="0.340" stop-color="#959595"/><stop offset="0.550" stop-color="#a3a3a3"/><stop offset="0.690" stop-color="#a8a8a8"/><stop offset="0.800" stop-color="#a3a3a3"/><stop offset="0.880" stop-color="#999999"/><stop offset="0.930" stop-color="#8a8a8a"/><stop offset="0.965" stop-color="#545454"/><stop offset="1.000" stop-color="#252525"/></linearGradient>
<linearGradient id="r138" gradientUnits="userSpaceOnUse" x1="595.9" y1="495.7" x2="558.7" y2="478.5"><stop offset="0.000" stop-color="#6f6f6f"/><stop offset="0.030" stop-color="#797979"/><stop offset="0.070" stop-color="#7e7e7e"/><stop offset="0.175" stop-color="#868686"/><stop offset="0.260" stop-color="#8f8f8f"/><stop offset="0.340" stop-color="#969696"/><stop offset="0.550" stop-color="#a3a3a3"/><stop offset="0.690" stop-color="#a8a8a8"/><stop offset="0.800" stop-color="#a3a3a3"/><stop offset="0.880" stop-color="#999999"/><stop offset="0.930" stop-color="#8a8a8a"/><stop offset="0.965" stop-color="#545454"/><stop offset="1.000" stop-color="#252525"/></linearGradient>
<linearGradient id="r139" gradientUnits="userSpaceOnUse" x1="591.4" y1="505.7" x2="554.4" y2="487.8"><stop offset="0.000" stop-color="#6f6f6f"/><stop offset="0.030" stop-color="#797979"/><stop offset="0.070" stop-color="#7e7e7e"/><stop offset="0.175" stop-color="#878787"/><stop offset="0.260" stop-color="#8f8f8f"/><stop offset="0.340" stop-color="#969696"/><stop offset="0.550" stop-color="#a3a3a3"/><stop offset="0.690" stop-color="#a8a8a8"/><stop offset="0.800" stop-color="#a3a3a3"/><stop offset="0.880" stop-color="#999999"/><stop offset="0.930" stop-color="#8a8a8a"/><stop offset="0.965" stop-color="#545454"/><stop offset="1.000" stop-color="#252525"/></linearGradient>
<linearGradient id="r140" gradientUnits="userSpaceOnUse" x1="586.3" y1="516.5" x2="549.4" y2="497.9"><stop offset="0.000" stop-color="#6f6f6f"/><stop offset="0.030" stop-color="#797979"/><stop offset="0.070" stop-color="#7e7e7e"/><stop offset="0.175" stop-color="#878787"/><stop offset="0.260" stop-color="#8f8f8f"/><stop offset="0.340" stop-color="#969696"/><stop offset="0.550" stop-color="#a3a3a3"/><stop offset="0.690" stop-color="#a8a8a8"/><stop offset="0.800" stop-color="#a3a3a3"/><stop offset="0.880" stop-color="#999999"/><stop offset="0.930" stop-color="#8a8a8a"/><stop offset="0.965" stop-color="#545454"/><stop offset="1.000" stop-color="#252525"/></linearGradient>
<linearGradient id="r141" gradientUnits="userSpaceOnUse" x1="580.9" y1="527.5" x2="543.9" y2="508.4"><stop offset="0.000" stop-color="#6f6f6f"/><stop offset="0.030" stop-color="#797979"/><stop offset="0.070" stop-color="#7e7e7e"/><stop offset="0.175" stop-color="#878787"/><stop offset="0.260" stop-color="#8f8f8f"/><stop offset="0.340" stop-color="#969696"/><stop offset="0.550" stop-color="#a4a4a4"/><stop offset="0.690" stop-color="#a9a9a9"/><stop offset="0.800" stop-color="#a4a4a4"/><stop offset="0.880" stop-color="#999999"/><stop offset="0.930" stop-color="#8a8a8a"/><stop offset="0.965" stop-color="#545454"/><stop offset="1.000" stop-color="#252525"/></linearGradient>
<linearGradient id="r142" gradientUnits="userSpaceOnUse" x1="575.5" y1="538.3" x2="538.4" y2="518.7"><stop offset="0.000" stop-color="#6f6f6f"/><stop offset="0.030" stop-color="#7a7a7a"/><stop offset="0.070" stop-color="#7f7f7f"/><stop offset="0.175" stop-color="#878787"/><stop offset="0.260" stop-color="#8f8f8f"/><stop offset="0.340" stop-color="#969696"/><stop offset="0.550" stop-color="#a4a4a4"/><stop offset="0.690" stop-color="#a9a9a9"/><stop offset="0.800" stop-color="#a4a4a4"/><stop offset="0.880" stop-color="#9a9a9a"/><stop offset="0.930" stop-color="#8a8a8a"/><stop offset="0.965" stop-color="#545454"/><stop offset="1.000" stop-color="#252525"/></linearGradient>
<linearGradient id="r143" gradientUnits="userSpaceOnUse" x1="570.4" y1="548.3" x2="533.1" y2="528.3"><stop offset="0.000" stop-color="#6f6f6f"/><stop offset="0.030" stop-color="#7a7a7a"/><stop offset="0.070" stop-color="#7f7f7f"/><stop offset="0.175" stop-color="#878787"/><stop offset="0.260" stop-color="#909090"/><stop offset="0.340" stop-color="#969696"/><stop offset="0.550" stop-color="#a4a4a4"/><stop offset="0.690" stop-color="#a9a9a9"/><stop offset="0.800" stop-color="#a4a4a4"/><stop offset="0.880" stop-color="#9a9a9a"/><stop offset="0.930" stop-color="#8b8b8b"/><stop offset="0.965" stop-color="#545454"/><stop offset="1.000" stop-color="#252525"/></linearGradient>
<linearGradient id="r144" gradientUnits="userSpaceOnUse" x1="565.6" y1="557.4" x2="528.4" y2="536.9"><stop offset="0.000" stop-color="#707070"/><stop offset="0.030" stop-color="#7a7a7a"/><stop offset="0.070" stop-color="#7f7f7f"/><stop offset="0.175" stop-color="#878787"/><stop offset="0.260" stop-color="#909090"/><stop offset="0.340" stop-color="#969696"/><stop offset="0.550" stop-color="#a4a4a4"/><stop offset="0.690" stop-color="#a9a9a9"/><stop offset="0.800" stop-color="#a4a4a4"/><stop offset="0.880" stop-color="#9a9a9a"/><stop offset="0.930" stop-color="#8b8b8b"/><stop offset="0.965" stop-color="#555555"/><stop offset="1.000" stop-color="#252525"/></linearGradient>
<linearGradient id="r145" gradientUnits="userSpaceOnUse" x1="560.8" y1="566" x2="523.8" y2="545"><stop offset="0.000" stop-color="#707070"/><stop offset="0.030" stop-color="#7a7a7a"/><stop offset="0.070" stop-color="#7f7f7f"/><stop offset="0.175" stop-color="#878787"/><stop offset="0.260" stop-color="#909090"/><stop offset="0.340" stop-color="#979797"/><stop offset="0.550" stop-color="#a4a4a4"/><stop offset="0.690" stop-color="#a9a9a9"/><stop offset="0.800" stop-color="#a4a4a4"/><stop offset="0.880" stop-color="#9a9a9a"/><stop offset="0.930" stop-color="#8b8b8b"/><stop offset="0.965" stop-color="#555555"/><stop offset="1.000" stop-color="#252525"/></linearGradient>
<linearGradient id="r146" gradientUnits="userSpaceOnUse" x1="556" y1="574.4" x2="519.3" y2="553"><stop offset="0.000" stop-color="#707070"/><stop offset="0.030" stop-color="#7a7a7a"/><stop offset="0.070" stop-color="#7f7f7f"/><stop offset="0.175" stop-color="#888888"/><stop offset="0.260" stop-color="#909090"/><stop offset="0.340" stop-color="#979797"/><stop offset="0.550" stop-color="#a4a4a4"/><stop offset="0.690" stop-color="#a9a9a9"/><stop offset="0.800" stop-color="#a4a4a4"/><stop offset="0.880" stop-color="#9a9a9a"/><stop offset="0.930" stop-color="#8b8b8b"/><stop offset="0.965" stop-color="#555555"/><stop offset="1.000" stop-color="#252525"/></linearGradient>
<linearGradient id="r147" gradientUnits="userSpaceOnUse" x1="551.5" y1="582" x2="515" y2="560.5"><stop offset="0.000" stop-color="#707070"/><stop offset="0.030" stop-color="#7a7a7a"/><stop offset="0.070" stop-color="#7f7f7f"/><stop offset="0.175" stop-color="#888888"/><stop offset="0.260" stop-color="#909090"/><stop offset="0.340" stop-color="#979797"/><stop offset="0.550" stop-color="#a4a4a4"/><stop offset="0.690" stop-color="#aaaaaa"/><stop offset="0.800" stop-color="#a4a4a4"/><stop offset="0.880" stop-color="#9a9a9a"/><stop offset="0.930" stop-color="#8b8b8b"/><stop offset="0.965" stop-color="#555555"/><stop offset="1.000" stop-color="#252525"/></linearGradient>
<linearGradient id="r148" gradientUnits="userSpaceOnUse" x1="547.5" y1="588.5" x2="511.2" y2="567.1"><stop offset="0.000" stop-color="#707070"/><stop offset="0.030" stop-color="#7a7a7a"/><stop offset="0.070" stop-color="#7f7f7f"/><stop offset="0.175" stop-color="#888888"/><stop offset="0.260" stop-color="#909090"/><stop offset="0.340" stop-color="#979797"/><stop offset="0.550" stop-color="#a5a5a5"/><stop offset="0.690" stop-color="#aaaaaa"/><stop offset="0.800" stop-color="#a5a5a5"/><stop offset="0.880" stop-color="#9a9a9a"/><stop offset="0.930" stop-color="#8b8b8b"/><stop offset="0.965" stop-color="#555555"/><stop offset="1.000" stop-color="#252525"/></linearGradient>
<linearGradient id="r149" gradientUnits="userSpaceOnUse" x1="544.3" y1="593.8" x2="508" y2="572.5"><stop offset="0.000" stop-color="#707070"/><stop offset="0.030" stop-color="#7a7a7a"/><stop offset="0.070" stop-color="#7f7f7f"/><stop offset="0.175" stop-color="#888888"/><stop offset="0.260" stop-color="#909090"/><stop offset="0.340" stop-color="#979797"/><stop offset="0.550" stop-color="#a5a5a5"/><stop offset="0.690" stop-color="#aaaaaa"/><stop offset="0.800" stop-color="#a5a5a5"/><stop offset="0.880" stop-color="#9b9b9b"/><stop offset="0.930" stop-color="#8b8b8b"/><stop offset="0.965" stop-color="#555555"/><stop offset="1.000" stop-color="#252525"/></linearGradient>
<linearGradient id="cy" x1="0" y1="0" x2="0" y2="1"><stop offset="0" stop-color="#505050"/><stop offset="0.04" stop-color="#808080"/><stop offset="0.16" stop-color="#989898"/><stop offset="0.34" stop-color="#969696"/><stop offset="0.62" stop-color="#848484"/><stop offset="0.84" stop-color="#666666"/><stop offset="0.95" stop-color="#4a4a4a"/><stop offset="1" stop-color="#2c2c2c"/></linearGradient>
<linearGradient id="cyl" x1="0" y1="0" x2="0" y2="1"><stop offset="0" stop-color="#606060"/><stop offset="0.05" stop-color="#888888"/><stop offset="0.2" stop-color="#a4a4a4"/><stop offset="0.4" stop-color="#989898"/><stop offset="0.7" stop-color="#7c7c7c"/><stop offset="0.9" stop-color="#5e5e5e"/><stop offset="1" stop-color="#444444"/></linearGradient>
<linearGradient id="cyd" x1="0" y1="0" x2="0" y2="1"><stop offset="0" stop-color="#444444"/><stop offset="0.06" stop-color="#626262"/><stop offset="0.2" stop-color="#747474"/><stop offset="0.5" stop-color="#666666"/><stop offset="0.8" stop-color="#4c4c4c"/><stop offset="1" stop-color="#303030"/></linearGradient>
<linearGradient id="face" x1="0" y1="0" x2="0" y2="1"><stop offset="0" stop-color="#9a9a9a"/><stop offset="0.5" stop-color="#848484"/><stop offset="1" stop-color="#6a6a6a"/></linearGradient>
<linearGradient id="faced" x1="0" y1="0" x2="0" y2="1"><stop offset="0" stop-color="#7a7a7a"/><stop offset="0.5" stop-color="#686868"/><stop offset="1" stop-color="#505050"/></linearGradient>
<linearGradient id="inner" x1="0" y1="0" x2="0" y2="1"><stop offset="0" stop-color="#3c3c3c"/><stop offset="0.35" stop-color="#5a5a5a"/><stop offset="0.7" stop-color="#848484"/><stop offset="1" stop-color="#9a9a9a"/></linearGradient>
<linearGradient id="wf" x1="0" y1="0" x2="0" y2="1"><stop offset="0" stop-color="#969696"/><stop offset="0.3" stop-color="#8a8a8a"/><stop offset="0.7" stop-color="#7c7c7c"/><stop offset="1" stop-color="#6a6a6a"/></linearGradient>
<radialGradient id="ball" cx="0.4" cy="0.35" r="0.7"><stop offset="0" stop-color="#d8d8d8"/><stop offset="0.6" stop-color="#b4b4b4"/><stop offset="1" stop-color="#8a8a8a"/></radialGradient>
<linearGradient id="cone" x1="0" y1="0" x2="1" y2="1"><stop offset="0" stop-color="#6e6e6e"/><stop offset="0.5" stop-color="#8c8c8c"/><stop offset="1" stop-color="#a0a0a0"/></linearGradient>
<pattern id="teeth" width="4" height="2.1" patternUnits="userSpaceOnUse"><rect width="4" height="2.1" fill="#a4a4a4"/><rect y="1.1" width="4" height="1" fill="#5a5a5a"/></pattern>
<linearGradient id="tube" x1="0" y1="0" x2="0" y2="1"><stop offset="0" stop-color="#505050"/><stop offset="0.04" stop-color="#848484"/><stop offset="0.16" stop-color="#929292"/><stop offset="0.36" stop-color="#888888"/><stop offset="0.55" stop-color="#747474"/><stop offset="0.74" stop-color="#5c5c5c"/><stop offset="0.9" stop-color="#484848"/><stop offset="0.97" stop-color="#3a3a3a"/><stop offset="1" stop-color="#2c2c2c"/></linearGradient>
<linearGradient id="shade" x1="0" y1="0" x2="0" y2="1"><stop offset="0" stop-color="#000"/><stop offset="1" stop-color="#000"/></linearGradient>
<linearGradient id="shd" x1="0" y1="0" x2="0" y2="1"><stop offset="0" stop-color="#000" stop-opacity="0"/><stop offset="0.45" stop-color="#000" stop-opacity="0"/><stop offset="1" stop-color="#000" stop-opacity="0.45"/></linearGradient>
<linearGradient id="bell" x1="0" y1="0" x2="1" y2="0"><stop offset="0" stop-color="#8a8a8a"/><stop offset="0.45" stop-color="#b4b4b4"/><stop offset="0.75" stop-color="#909090"/><stop offset="1" stop-color="#808080"/></linearGradient>
<linearGradient id="bellV" gradientUnits="userSpaceOnUse" x1="0" y1="-30" x2="0" y2="30"><stop offset="0" stop-color="#7c7c7c"/><stop offset="0.14" stop-color="#8e8e8e"/><stop offset="0.3" stop-color="#909090"/><stop offset="0.45" stop-color="#868686"/><stop offset="0.6" stop-color="#727272"/><stop offset="0.75" stop-color="#5c5c5c"/><stop offset="0.88" stop-color="#4a4a4a"/><stop offset="1" stop-color="#424242"/></linearGradient>
<linearGradient id="bellH" gradientUnits="userSpaceOnUse" x1="104" y1="0" x2="140" y2="0"><stop offset="0" stop-color="#fff" stop-opacity="0.05"/><stop offset="0.26" stop-color="#fff" stop-opacity="0.42"/><stop offset="0.5" stop-color="#fff" stop-opacity="0.14"/><stop offset="1" stop-color="#fff" stop-opacity="0"/></linearGradient>
<linearGradient id="open" x1="0" y1="0" x2="1" y2="0.6"><stop offset="0" stop-color="#9a9a9a"/><stop offset="0.5" stop-color="#bcbcbc"/><stop offset="1" stop-color="#a0a0a0"/></linearGradient>
<linearGradient id="nip" x1="0" y1="0" x2="1" y2="0"><stop offset="0" stop-color="#777"/><stop offset="0.4" stop-color="#b4b4b4"/><stop offset="1" stop-color="#6a6a6a"/></linearGradient>
<linearGradient id="vh" x1="0" y1="0" x2="1" y2="0"><stop offset="0" stop-color="#6e6e6e"/><stop offset="0.35" stop-color="#a2a2a2"/><stop offset="1" stop-color="#666"/></linearGradient>
</defs>
<rect width="1024" height="768" fill="#fff"/>
<g filter="url(#nf)">
<g id="rim">
<path d="M146 377 L148.7 372.4 L184.6 391.8 L182 396Z" fill="url(#r0)"/>
<path d="M148.1 373.4 L152.1 366.6 L187.7 386.6 L184 392.8Z" fill="url(#r1)"/>
<path d="M151.5 367.7 L156.1 359.9 L191.4 380.5 L187.1 387.6Z" fill="url(#r2)"/>
<path d="M155.5 360.9 L160.3 352.7 L195.4 373.9 L190.8 381.5Z" fill="url(#r3)"/>
<path d="M159.7 353.7 L164.5 345.7 L199.5 367.4 L194.8 375Z" fill="url(#r4)"/>
<path d="M163.9 346.7 L168.3 339.5 L203.3 361.5 L198.9 368.5Z" fill="url(#r5)"/>
<path d="M167.7 340.5 L171.7 334.1 L206.9 356.1 L202.7 362.5Z" fill="url(#r6)"/>
<path d="M171.1 335.1 L175 329 L210.5 350.9 L206.3 357.1Z" fill="url(#r7)"/>
<path d="M174.3 330 L178.1 324.1 L214.1 345.7 L209.8 351.9Z" fill="url(#r8)"/>
<path d="M177.5 325.1 L181.3 319.2 L217.8 340.5 L213.4 346.7Z" fill="url(#r9)"/>
<path d="M180.7 320.2 L184.7 314.4 L221.7 335.1 L217.1 341.5Z" fill="url(#r10)"/>
<path d="M184 315.4 L188.2 309.5 L225.9 329.5 L221 336.1Z" fill="url(#r11)"/>
<path d="M187.4 310.5 L191.6 304.7 L230.2 323.7 L225.1 330.5Z" fill="url(#r12)"/>
<path d="M190.9 305.7 L194.9 300.3 L234.7 317.7 L229.5 324.7Z" fill="url(#r13)"/>
<path d="M194.2 301.2 L198.3 295.8 L239.5 311.6 L234 318.7Z" fill="url(#r14)"/>
<path d="M197.5 296.7 L202 291 L244.4 305.4 L238.7 312.6Z" fill="url(#r15)"/>
<path d="M201.3 291.9 L206.4 285.7 L249.7 299 L243.7 306.3Z" fill="url(#r16)"/>
<path d="M205.6 286.6 L211.7 279.5 L255.4 292.5 L248.9 299.9Z" fill="url(#r17)"/>
<path d="M210.9 280.4 L218.2 272.1 L261.7 285.7 L254.6 293.4Z" fill="url(#r18)"/>
<path d="M217.4 273 L225.9 263.6 L268.6 278.4 L260.9 286.6Z" fill="url(#r19)"/>
<path d="M225.1 264.4 L234.2 254.4 L275.8 271 L267.8 279.3Z" fill="url(#r20)"/>
<path d="M233.4 255.3 L242.7 245.3 L283.1 263.8 L275 271.9Z" fill="url(#r21)"/>
<path d="M241.9 246.2 L250.8 236.9 L290 257.1 L282.2 264.7Z" fill="url(#r22)"/>
<path d="M249.9 237.7 L257.9 229.6 L296.4 251.1 L289.2 257.9Z" fill="url(#r23)"/>
<path d="M257.1 230.4 L264.1 223.6 L302.2 246 L295.6 251.9Z" fill="url(#r24)"/>
<path d="M263.2 224.4 L269.7 218.6 L307.6 241.5 L301.3 246.8Z" fill="url(#r25)"/>
<path d="M268.8 219.3 L274.9 214.1 L312.8 237.5 L306.7 242.3Z" fill="url(#r26)"/>
<path d="M274 214.9 L280 210 L317.7 233.8 L311.8 238.2Z" fill="url(#r27)"/>
<path d="M279 210.7 L285.1 205.9 L322.6 230.2 L316.8 234.5Z" fill="url(#r28)"/>
<path d="M284.1 206.7 L290.5 201.6 L327.5 226.6 L321.6 230.9Z" fill="url(#r29)"/>
<path d="M289.5 202.4 L296.1 197.1 L332.2 223.2 L326.5 227.4Z" fill="url(#r30)"/>
<path d="M295.2 197.9 L301.8 192.7 L336.8 219.9 L331.3 223.9Z" fill="url(#r31)"/>
<path d="M300.8 193.4 L307.5 188.3 L341.2 216.9 L335.8 220.7Z" fill="url(#r32)"/>
<path d="M306.5 189 L313.4 183.9 L345.7 213.9 L340.3 217.6Z" fill="url(#r33)"/>
<path d="M312.4 184.6 L319.3 179.7 L350.5 210.8 L344.8 214.5Z" fill="url(#r34)"/>
<path d="M318.3 180.4 L325.5 175.7 L355.5 207.7 L349.5 211.5Z" fill="url(#r35)"/>
<path d="M324.5 176.3 L331.9 171.7 L361.1 204.3 L354.5 208.3Z" fill="url(#r36)"/>
<path d="M330.9 172.3 L338.7 167.8 L367 200.7 L360 204.9Z" fill="url(#r37)"/>
<path d="M337.6 168.4 L345.5 164.1 L373.2 197.1 L366 201.3Z" fill="url(#r38)"/>
<path d="M344.5 164.7 L352.4 160.5 L379.3 193.6 L372.2 197.7Z" fill="url(#r39)"/>
<path d="M351.3 161 L359.1 157 L385.2 190.4 L378.3 194.2Z" fill="url(#r40)"/>
<path d="M358 157.5 L365.5 153.7 L390.5 187.7 L384.1 191Z" fill="url(#r41)"/>
<path d="M364.5 154.3 L371.7 150.6 L395.3 185.6 L389.5 188.3Z" fill="url(#r42)"/>
<path d="M370.6 151.1 L377.6 147.7 L399.6 183.8 L394.2 186.1Z" fill="url(#r43)"/>
<path d="M376.5 148.1 L383.4 144.9 L403.7 182.4 L398.5 184.3Z" fill="url(#r44)"/>
<path d="M382.3 145.3 L389.1 142.3 L407.6 181.1 L402.6 182.8Z" fill="url(#r45)"/>
<path d="M388 142.7 L394.8 139.9 L411.5 180 L406.5 181.5Z" fill="url(#r46)"/>
<path d="M393.7 140.3 L400.6 137.8 L415.6 178.8 L410.4 180.4Z" fill="url(#r47)"/>
<path d="M399.4 138.2 L406.4 136 L419.8 177.7 L414.4 179.2Z" fill="url(#r48)"/>
<path d="M405.3 136.4 L412.3 134.6 L424.1 176.6 L418.6 178Z" fill="url(#r49)"/>
<path d="M411.2 134.8 L418.2 133.3 L428.3 175.7 L422.9 176.9Z" fill="url(#r50)"/>
<path d="M417.1 133.6 L424.1 132.2 L432.6 174.8 L427.2 175.9Z" fill="url(#r51)"/>
<path d="M422.9 132.5 L429.9 131.3 L436.7 174.1 L431.4 175Z" fill="url(#r52)"/>
<path d="M428.7 131.5 L435.6 130.4 L440.6 173.4 L435.5 174.3Z" fill="url(#r53)"/>
<path d="M434.4 130.6 L441.2 129.6 L444.3 172.9 L439.4 173.6Z" fill="url(#r54)"/>
<path d="M440 129.7 L446.8 128.8 L448 172.4 L443.2 173Z" fill="url(#r55)"/>
<path d="M445.6 129 L452.3 128.2 L451.5 172.1 L446.8 172.6Z" fill="url(#r56)"/>
<path d="M451.1 128.4 L457.7 127.8 L454.9 171.8 L450.3 172.2Z" fill="url(#r57)"/>
<path d="M456.5 127.9 L463 127.5 L458.3 171.7 L453.7 171.9Z" fill="url(#r58)"/>
<path d="M461.8 127.6 L468.1 127.5 L461.6 171.7 L457.1 171.8Z" fill="url(#r59)"/>
<path d="M466.9 127.5 L473 127.7 L464.9 171.8 L460.4 171.7Z" fill="url(#r60)"/>
<path d="M471.8 127.6 L477.7 128 L468.1 172.1 L463.7 171.7Z" fill="url(#r61)"/>
<path d="M476.5 127.9 L482.2 128.6 L471.3 172.4 L466.9 171.9Z" fill="url(#r62)"/>
<path d="M481 128.4 L486.7 129.3 L474.4 172.8 L470.1 172.2Z" fill="url(#r63)"/>
<path d="M485.5 129.1 L491.1 130.1 L477.5 173.2 L473.2 172.6Z" fill="url(#r64)"/>
<path d="M489.9 129.9 L495.6 131.1 L480.6 173.6 L476.3 173Z" fill="url(#r65)"/>
<path d="M494.4 130.9 L500.2 132.2 L483.6 173.9 L479.4 173.4Z" fill="url(#r66)"/>
<path d="M499 132 L504.7 133.4 L486.7 174.2 L482.5 173.7Z" fill="url(#r67)"/>
<path d="M503.6 133.2 L509.3 134.8 L489.6 174.5 L485.5 174Z" fill="url(#r68)"/>
<path d="M508.1 134.6 L513.8 136.4 L492.6 174.9 L488.5 174.3Z" fill="url(#r69)"/>
<path d="M512.7 136 L518.2 138 L495.6 175.5 L491.5 174.6Z" fill="url(#r70)"/>
<path d="M517.1 137.6 L522.5 139.7 L498.6 176.2 L494.4 175.1Z" fill="url(#r71)"/>
<path d="M521.3 139.3 L526.5 141.5 L501.6 177.1 L497.4 175.8Z" fill="url(#r72)"/>
<path d="M525.4 141 L530.4 143.3 L504.6 178.1 L500.5 176.6Z" fill="url(#r73)"/>
<path d="M529.3 142.8 L534.1 145.2 L507.6 179.3 L503.5 177.6Z" fill="url(#r74)"/>
<path d="M533 144.7 L537.8 147.3 L510.6 180.6 L506.5 178.8Z" fill="url(#r75)"/>
<path d="M536.7 146.8 L541.6 149.6 L513.6 182 L509.5 180Z" fill="url(#r76)"/>
<path d="M540.5 149 L545.5 152 L516.5 183.5 L512.5 181.4Z" fill="url(#r77)"/>
<path d="M544.5 151.4 L549.7 154.7 L519.4 185.2 L515.5 182.9Z" fill="url(#r78)"/>
<path d="M548.7 154 L554 157.6 L522.3 187 L518.4 184.5Z" fill="url(#r79)"/>
<path d="M553 156.9 L558.4 160.7 L525.2 189 L521.3 186.4Z" fill="url(#r80)"/>
<path d="M557.4 160 L562.7 163.9 L528 191.1 L524.2 188.3Z" fill="url(#r81)"/>
<path d="M561.7 163.1 L566.9 167.1 L530.8 193.2 L527 190.4Z" fill="url(#r82)"/>
<path d="M565.9 166.4 L570.8 170.4 L533.5 195.4 L529.8 192.5Z" fill="url(#r83)"/>
<path d="M569.8 169.6 L574.4 173.6 L536.1 197.6 L532.5 194.6Z" fill="url(#r84)"/>
<path d="M573.5 172.8 L577.8 176.7 L538.7 199.8 L535.2 196.8Z" fill="url(#r85)"/>
<path d="M576.9 175.9 L581 179.9 L541.2 202.2 L537.8 199Z" fill="url(#r86)"/>
<path d="M580.1 179.1 L584.1 183.3 L543.7 204.6 L540.4 201.3Z" fill="url(#r87)"/>
<path d="M583.3 182.4 L587.2 186.9 L546.1 207 L542.9 203.7Z" fill="url(#r88)"/>
<path d="M586.4 186 L590.4 191 L548.4 209.5 L545.3 206.1Z" fill="url(#r89)"/>
<path d="M589.6 190 L593.6 195.4 L550.5 211.8 L547.6 208.5Z" fill="url(#r90)"/>
<path d="M592.9 194.5 L596.9 200.2 L552.4 213.9 L549.8 210.8Z" fill="url(#r91)"/>
<path d="M596.2 199.3 L600.2 205.3 L554.2 216.1 L551.7 213Z" fill="url(#r92)"/>
<path d="M599.5 204.3 L603.4 210.6 L556.1 218.6 L553.5 215.2Z" fill="url(#r93)"/>
<path d="M602.7 209.6 L606.4 216.1 L558.1 221.5 L555.4 217.6Z" fill="url(#r94)"/>
<path d="M605.8 215 L609.3 221.5 L560.3 225 L557.4 220.5Z" fill="url(#r95)"/>
<path d="M608.7 220.5 L612 227.1 L562.9 229.3 L559.7 224Z" fill="url(#r96)"/>
<path d="M611.4 226.1 L614.6 232.9 L565.9 234.3 L562.4 228.3Z" fill="url(#r97)"/>
<path d="M614.1 231.8 L617.1 238.8 L569.1 239.8 L565.4 233.3Z" fill="url(#r98)"/>
<path d="M616.6 237.7 L619.4 244.8 L572.1 245.4 L568.6 238.7Z" fill="url(#r99)"/>
<path d="M618.9 243.7 L621.4 250.7 L574.9 251.1 L571.7 244.3Z" fill="url(#r100)"/>
<path d="M621 249.6 L623.2 256.6 L577.2 256.6 L574.5 250Z" fill="url(#r101)"/>
<path d="M622.8 255.4 L624.7 262.2 L579 261.8 L576.8 255.4Z" fill="url(#r102)"/>
<path d="M624.4 261.1 L625.9 267.8 L580.4 266.8 L578.6 260.6Z" fill="url(#r103)"/>
<path d="M625.6 266.6 L626.8 273.3 L581.5 271.9 L580.1 265.6Z" fill="url(#r104)"/>
<path d="M626.6 272.1 L627.7 278.9 L582.4 277.1 L581.3 270.7Z" fill="url(#r105)"/>
<path d="M627.5 277.7 L628.4 284.6 L583.3 282.6 L582.2 275.9Z" fill="url(#r106)"/>
<path d="M628.2 283.4 L629.1 290.6 L584.1 288.6 L583.1 281.4Z" fill="url(#r107)"/>
<path d="M628.9 289.4 L629.8 296.9 L584.9 295.1 L583.9 287.4Z" fill="url(#r108)"/>
<path d="M629.6 295.7 L630.4 303.3 L585.6 302.1 L584.7 293.9Z" fill="url(#r109)"/>
<path d="M630.3 302.1 L630.9 309.9 L586.2 309.3 L585.5 300.9Z" fill="url(#r110)"/>
<path d="M630.8 308.7 L631.3 316.7 L586.6 316.8 L586.1 308.2Z" fill="url(#r111)"/>
<path d="M631.2 315.5 L631.5 323.6 L586.9 324.2 L586.6 315.6Z" fill="url(#r112)"/>
<path d="M631.5 322.4 L631.5 330.6 L587 331.6 L586.9 323Z" fill="url(#r113)"/>
<path d="M631.5 329.4 L631.3 337.9 L586.9 338.9 L587 330.4Z" fill="url(#r114)"/>
<path d="M631.3 336.7 L630.9 345.4 L586.5 346.3 L586.9 337.7Z" fill="url(#r115)"/>
<path d="M631 344.2 L630.3 353 L586 353.7 L586.6 345.1Z" fill="url(#r116)"/>
<path d="M630.4 351.8 L629.6 360.7 L585.4 361.1 L586.1 352.5Z" fill="url(#r117)"/>
<path d="M629.7 359.5 L628.8 368.3 L584.7 368.4 L585.5 359.9Z" fill="url(#r118)"/>
<path d="M629 367.1 L627.9 375.6 L583.9 375.6 L584.8 367.2Z" fill="url(#r119)"/>
<path d="M628.1 374.4 L626.9 382.8 L583.1 382.7 L584.1 374.4Z" fill="url(#r120)"/>
<path d="M627.1 381.6 L625.7 389.9 L582.2 389.8 L583.3 381.5Z" fill="url(#r121)"/>
<path d="M625.9 388.7 L624.4 396.9 L581.2 396.8 L582.4 388.6Z" fill="url(#r122)"/>
<path d="M624.6 395.7 L623 403.7 L580.1 403.7 L581.4 395.7Z" fill="url(#r123)"/>
<path d="M623.3 402.6 L621.7 410.3 L579 410.3 L580.3 402.5Z" fill="url(#r124)"/>
<path d="M621.9 409.1 L620.4 416.6 L577.9 416.6 L579.2 409.1Z" fill="url(#r125)"/>
<path d="M620.6 415.4 L619.2 422.3 L576.8 422.3 L578.1 415.4Z" fill="url(#r126)"/>
<path d="M619.5 421.1 L618.2 427.5 L575.9 427.5 L577.1 421.1Z" fill="url(#r127)"/>
<path d="M618.4 426.3 L617.1 432.5 L574.8 432.5 L576.1 426.3Z" fill="url(#r128)"/>
<path d="M617.4 431.3 L615.9 437.4 L573.7 437.4 L575.1 431.3Z" fill="url(#r129)"/>
<path d="M616.2 436.3 L614.5 442.7 L572.2 442.7 L574 436.3Z" fill="url(#r130)"/>
<path d="M614.9 441.6 L612.8 448.6 L570.3 448.6 L572.5 441.6Z" fill="url(#r131)"/>
<path d="M613.2 447.4 L610.9 454.9 L568 455.1 L570.7 447.4Z" fill="url(#r132)"/>
<path d="M611.3 453.7 L608.9 461.4 L565.4 462.1 L568.4 454Z" fill="url(#r133)"/>
<path d="M609.3 460.3 L606.7 468.2 L562.5 469.4 L565.8 461Z" fill="url(#r134)"/>
<path d="M607.1 467.1 L604.2 475.4 L559.4 476.8 L562.9 468.3Z" fill="url(#r135)"/>
<path d="M604.6 474.3 L601.2 483.2 L556.1 484.3 L559.8 475.7Z" fill="url(#r136)"/>
<path d="M601.7 482.1 L597.8 491.6 L552.8 491.6 L556.6 483.2Z" fill="url(#r137)"/>
<path d="M598.3 490.5 L593.6 501 L549.2 498.7 L553.3 490.5Z" fill="url(#r138)"/>
<path d="M594.1 499.9 L588.7 511.5 L545.5 505.9 L549.8 497.6Z" fill="url(#r139)"/>
<path d="M589.2 510.4 L583.4 522.5 L541.6 513.1 L546 504.8Z" fill="url(#r140)"/>
<path d="M583.9 521.5 L577.9 533.6 L537.7 520.3 L542.2 512Z" fill="url(#r141)"/>
<path d="M578.5 532.5 L572.6 544.1 L533.7 527.4 L538.2 519.2Z" fill="url(#r142)"/>
<path d="M573.2 543 L567.7 553.5 L529.7 534.5 L534.2 526.4Z" fill="url(#r143)"/>
<path d="M568.3 552.5 L563 562.3 L525.5 542.1 L530.3 533.5Z" fill="url(#r144)"/>
<path d="M563.6 561.2 L558.1 570.9 L520.9 550.2 L526.1 541Z" fill="url(#r145)"/>
<path d="M558.7 569.8 L553.3 578.9 L516.3 558.2 L521.5 549.1Z" fill="url(#r146)"/>
<path d="M553.9 577.9 L549 586.1 L512 565.7 L516.9 557.2Z" fill="url(#r147)"/>
<path d="M549.6 585 L545.4 592.1 L508.3 572 L512.6 564.6Z" fill="url(#r148)"/>
<path d="M546 591 L543 596 L506 576 L508.9 570.9Z" fill="url(#r149)"/>
<path d="M146 377 L148.4 372.9 L151.8 367.1 L155.8 360.4 L160 353.2 L164.2 346.2 L168 340 L171.4 334.6 L174.6 329.5 L177.8 324.6 L181 319.7 L184.3 314.9 L187.8 310 L191.2 305.2 L194.5 300.7 L197.9 296.2 L201.6 291.5 L206 286.2 L211.3 280 L217.8 272.6 L225.5 264 L233.8 254.9 L242.3 245.8 L250.3 237.3 L257.5 230 L263.7 224 L269.3 219 L274.4 214.5 L279.5 210.4 L284.6 206.3 L290 202 L295.6 197.5 L301.3 193 L307 188.6 L312.9 184.3 L318.8 180.1 L325 176 L331.4 172 L338.1 168.1 L345 164.4 L351.9 160.7 L358.6 157.3 L365 154 L371.1 150.9 L377 147.9 L382.8 145.1 L388.5 142.5 L394.2 140.1 L400 138 L405.9 136.2 L411.8 134.7 L417.7 133.4 L423.5 132.4 L429.3 131.4 L435 130.5 L440.6 129.7 L446.2 128.9 L451.7 128.3 L457.1 127.9 L462.4 127.6 L467.5 127.5 L472.4 127.6 L477.1 128 L481.6 128.5 L486.1 129.2 L490.5 130.1 L495 131 L499.6 132.1 L504.2 133.3 L508.7 134.7 L513.2 136.2 L517.6 137.8 L521.9 139.5 L525.9 141.2 L529.8 143.1 L533.5 145 L537.3 147 L541.1 149.3 L545 151.7 L549.2 154.4 L553.5 157.3 L557.9 160.3 L562.2 163.5 L566.4 166.8 L570.3 170 L573.9 173.2 L577.3 176.3 L580.5 179.5 L583.7 182.8 L586.8 186.5 L590 190.5 L593.3 195 L596.6 199.8 L599.9 204.8 L603.1 210.1 L606.1 215.5 L609 221 L611.7 226.6 L614.3 232.4 L616.8 238.3 L619.1 244.2 L621.2 250.2 L623 256 L624.5 261.7 L625.7 267.2 L626.7 272.7 L627.6 278.3 L628.3 284 L629 290 L629.7 296.3 L630.3 302.7 L630.8 309.3 L631.2 316.1 L631.5 323 L631.5 330 L631.3 337.3 L630.9 344.8 L630.4 352.4 L629.7 360.1 L628.9 367.7 L628 375 L627 382.2 L625.8 389.3 L624.5 396.3 L623.1 403.1 L621.8 409.7 L620.5 416 L619.3 421.7 L618.3 426.9 L617.2 431.9 L616.1 436.9 L614.7 442.1 L613 448 L611.1 454.3 L609.1 460.8 L606.9 467.6 L604.4 474.9 L601.5 482.6 L598 491 L593.8 500.5 L588.9 511 L583.6 522 L578.2 533 L572.9 543.5 L568 553 L563.3 561.8 L558.4 570.3 L553.6 578.4 L549.3 585.6 L545.7 591.5 L543 596" fill="none" stroke="#4a4a4a" stroke-width="0.8" stroke-opacity="0.7"/>
<path d="M182 396 L184.3 392.3 L187.4 387.1 L191.1 381 L195.1 374.4 L199.2 367.9 L203 362 L206.6 356.6 L210.1 351.4 L213.7 346.2 L217.4 341 L221.3 335.6 L225.5 330 L229.9 324.2 L234.4 318.2 L239.1 312.1 L244.1 305.9 L249.3 299.5 L255 293 L261.3 286.1 L268.2 278.9 L275.4 271.5 L282.6 264.2 L289.6 257.5 L296 251.5 L301.8 246.4 L307.2 241.9 L312.3 237.8 L317.3 234.1 L322.1 230.6 L327 227 L331.8 223.5 L336.3 220.3 L340.8 217.2 L345.3 214.2 L350 211.2 L355 208 L360.5 204.6 L366.5 201 L372.7 197.4 L378.8 193.9 L384.7 190.7 L390 188 L394.7 185.8 L399.1 184.1 L403.1 182.6 L407 181.3 L410.9 180.2 L415 179 L419.2 177.8 L423.5 176.8 L427.8 175.8 L432 174.9 L436.1 174.2 L440 173.5 L443.8 172.9 L447.4 172.5 L450.9 172.1 L454.3 171.9 L457.7 171.7 L461 171.7 L464.3 171.8 L467.5 172 L470.7 172.3 L473.8 172.7 L476.9 173.1 L480 173.5 L483.1 173.8 L486.1 174.1 L489.1 174.4 L492 174.8 L495 175.3 L498 176 L501 176.9 L504 177.9 L507.1 179 L510.1 180.3 L513.1 181.7 L516 183.2 L518.9 184.9 L521.8 186.7 L524.7 188.7 L527.5 190.7 L530.3 192.9 L533 195 L535.7 197.2 L538.3 199.4 L540.8 201.8 L543.3 204.1 L545.7 206.6 L548 209 L550.1 211.3 L552 213.5 L553.9 215.7 L555.7 218.1 L557.7 221 L560 224.5 L562.7 228.8 L565.7 233.8 L568.8 239.2 L571.9 244.9 L574.7 250.5 L577 256 L578.8 261.2 L580.2 266.2 L581.4 271.3 L582.3 276.5 L583.2 282 L584 288 L584.8 294.5 L585.5 301.5 L586.1 308.8 L586.6 316.2 L586.9 323.6 L587 331 L586.9 338.3 L586.6 345.7 L586.1 353.1 L585.4 360.5 L584.7 367.8 L584 375 L583.2 382.1 L582.3 389.2 L581.3 396.2 L580.2 403.1 L579.1 409.7 L578 416 L577 421.7 L576 426.9 L575 431.9 L573.8 436.9 L572.3 442.1 L570.5 448 L568.2 454.5 L565.6 461.5 L562.7 468.8 L559.6 476.3 L556.4 483.7 L553 491 L549.5 498.2 L545.8 505.4 L541.9 512.6 L537.9 519.7 L534 526.9 L530 534 L525.8 541.5 L521.2 549.6 L516.6 557.7 L512.3 565.1 L508.6 571.4 L506 576" fill="none" stroke="#222" stroke-width="1.3" stroke-opacity="0.85"/>
<g transform="translate(198 325.8) rotate(-57)"><path d="M-4.4 1.8 A4.4 3.5 0 0 1 4.4 1.8Z" fill="#8c8c8c" stroke="#585858" stroke-width="0.7"/><path d="M-3.8000000000000003 1.8 L3.8000000000000003 1.8" stroke="#9c9c9c" stroke-width="0.6"/></g>
<g transform="translate(256.2 254.8) rotate(-45)"><path d="M-4.6 1.7 A4.6 3.4 0 0 1 4.6 1.7Z" fill="#8c8c8c" stroke="#585858" stroke-width="0.7"/><path d="M-3.9999999999999996 1.7 L3.9999999999999996 1.7" stroke="#9c9c9c" stroke-width="0.6"/></g>
<g transform="translate(320.2 198.4) rotate(-33)"><path d="M-4.5 1.4 A4.5 2.9 0 0 1 4.5 1.4Z" fill="#8c8c8c" stroke="#585858" stroke-width="0.7"/><path d="M-3.9 1.4 L3.9 1.4" stroke="#9c9c9c" stroke-width="0.6"/></g>
<g transform="translate(387 159.6) rotate(-22)"><path d="M-4.0 1 A4.0 2.0 0 0 1 4.0 1Z" fill="#8c8c8c" stroke="#585858" stroke-width="0.7"/><path d="M-3.4 1 L3.4 1" stroke="#9c9c9c" stroke-width="0.6"/></g>
<circle cx="573" cy="444" r="2" fill="#666" stroke="#444" stroke-width="0.7"/>
<circle cx="542" cy="521.2" r="2" fill="#666" stroke="#444" stroke-width="0.7"/>
<circle cx="588" cy="300.5" r="0.75" fill="#d0d0d0"/>
<circle cx="588" cy="369" r="0.75" fill="#d0d0d0"/>
<circle cx="556.5" cy="225" r="0.75" fill="#d0d0d0"/>
<circle cx="398.8" cy="171.7" r="0.75" fill="#d0d0d0"/>
</g>
<g id="parts" transform="translate(200.0 476.36) rotate(29.37)">
<line x1="-32" y1="0" x2="-12" y2="0" stroke="#6a6a6a" stroke-width="0.9"/>
<line x1="-3" y1="0" x2="26" y2="0" stroke="#6a6a6a" stroke-width="0.9"/>
<line x1="50" y1="0" x2="70" y2="0" stroke="#6a6a6a" stroke-width="0.9"/>
<line x1="198" y1="0" x2="232" y2="0" stroke="#6a6a6a" stroke-width="0.9"/>
<line x1="254" y1="0" x2="278" y2="0" stroke="#6a6a6a" stroke-width="0.9"/>
<line x1="296" y1="0" x2="330" y2="0" stroke="#6a6a6a" stroke-width="0.9"/>
<line x1="346" y1="0" x2="364" y2="0" stroke="#6a6a6a" stroke-width="0.9"/>
<line x1="388" y1="0" x2="412" y2="0" stroke="#6a6a6a" stroke-width="0.9"/>
<line x1="428" y1="0" x2="463" y2="0" stroke="#6a6a6a" stroke-width="0.9"/>
<path d="M-164 -14.3 L-152 -14.3 A8.9 14.3 0 0 1 -152 14.3 L-164 14.3 A8.9 14.3 0 0 1 -164 -14.3Z" fill="url(#cy)" stroke="#333" stroke-width="0.5"/>
<path d="M-150 -20.2 L-146 -20.2 A12.5 20.2 0 0 1 -146 20.2 L-150 20.2 A12.5 20.2 0 0 1 -150 -20.2Z" fill="url(#cyd)" stroke="#333" stroke-width="0.5"/>
<ellipse cx="-146" cy="0" rx="12.5" ry="20.2" fill="url(#faced)" stroke="#444" stroke-width="0.5"/>
<path d="M-146 -17 L-141.5 -17 A10.5 17 0 0 1 -141.5 17 L-146 17 A10.5 17 0 0 1 -146 -17Z" fill="url(#cyl)" stroke="#333" stroke-width="0.5"/>
<ellipse cx="-141.5" cy="0" rx="10.5" ry="17" fill="url(#face)" stroke="#666" stroke-width="0.4"/>
<path d="M-141.5 -14.3 L-136 -14.3 A8.9 14.3 0 0 1 -136 14.3 L-141.5 14.3 A8.9 14.3 0 0 1 -141.5 -14.3Z" fill="url(#cyl)" stroke="#333" stroke-width="0.5"/>
<ellipse cx="-136" cy="0" rx="8.9" ry="14.3" fill="url(#faced)" stroke="#666" stroke-width="0.4"/>
<path d="M-137 -12.4 L-34.8 -12.4 A7.7 12.4 0 0 1 -34.8 12.4 L-137 12.4 A7.7 12.4 0 0 1 -137 -12.4Z" fill="url(#cy)" stroke="#333" stroke-width="0.5"/>
<path d="M-64 -12.4 A7.7 12.4 0 0 1 -64 12.4" fill="none" stroke="#5a5a5a" stroke-width="0.7"/>
<path d="M-128 -12.4 A7.7 12.4 0 0 1 -128 12.4" fill="none" stroke="#999" stroke-width="0.7"/>
<ellipse cx="-34.8" cy="0" rx="7.7" ry="12.4" fill="#8c8c8c" stroke="#3a3a3a" stroke-width="0.6"/>
<ellipse cx="-34.8" cy="0" rx="6" ry="9.6" fill="url(#inner)" stroke="#555" stroke-width="0.5"/>
<line x1="-32" y1="0" x2="-27" y2="0" stroke="#ccc" stroke-width="0.9"/>
<path d="M-3.2 -24.2 L0 -24.2 A15 24.2 0 0 1 0 24.2 L-3.2 24.2 A15 24.2 0 0 1 -3.2 -24.2Z" fill="url(#cyl)" stroke="#555" stroke-width="0.4"/>
<path d="M-15 0 A15 24.2 0 1 0 15 0 A15 24.2 0 1 0 -15 0Z M-9.7 0 A9.7 15.6 0 1 0 9.7 0 A9.7 15.6 0 1 0 -9.7 0Z" fill-rule="evenodd" fill="url(#wf)" stroke="#555" stroke-width="0.5"/>
<path d="M-14.5 0 A14.5 23.4 0 1 0 14.5 0 A14.5 23.4 0 1 0 -14.5 0Z M-12.9 0 A12.9 20.8 0 1 0 12.9 0 A12.9 20.8 0 1 0 -12.9 0Z" fill-rule="evenodd" fill="#a2a2a2" fill-opacity="0.55"/>
<path d="M-9.7 0 A9.7 15.6 0 1 0 9.7 0 A9.7 15.6 0 1 0 -9.7 0Z" fill="#fff"/>
<clipPath id="wc0"><path d="M-9.7 0 A9.7 15.6 0 1 0 9.7 0 A9.7 15.6 0 1 0 -9.7 0Z"/></clipPath>
<g clip-path="url(#wc0)"><path d="M-13.4 0 A13.4 21.6 0 1 0 13.4 0 A13.4 21.6 0 1 0 -13.4 0Z M-12.9 0 A9.7 15.6 0 1 0 6.5 0 A9.7 15.6 0 1 0 -12.9 0Z" fill-rule="evenodd" fill="#5c5c5c"/></g>
<path d="M-9.7 0 A9.7 15.6 0 1 0 9.7 0 A9.7 15.6 0 1 0 -9.7 0Z" fill="none" stroke="#444" stroke-width="0.5"/>
<path d="M289.5 -24.2 L292.7 -24.2 A15 24.2 0 0 1 292.7 24.2 L289.5 24.2 A15 24.2 0 0 1 289.5 -24.2Z" fill="url(#cyl)" stroke="#555" stroke-width="0.4"/>
<path d="M277.7 0 A15 24.2 0 1 0 307.7 0 A15 24.2 0 1 0 277.7 0Z M283 0 A9.7 15.6 0 1 0 302.4 0 A9.7 15.6 0 1 0 283 0Z" fill-rule="evenodd" fill="url(#wf)" stroke="#555" stroke-width="0.5"/>
<path d="M278.2 0 A14.5 23.4 0 1 0 307.2 0 A14.5 23.4 0 1 0 278.2 0Z M279.8 0 A12.9 20.8 0 1 0 305.6 0 A12.9 20.8 0 1 0 279.8 0Z" fill-rule="evenodd" fill="#a2a2a2" fill-opacity="0.55"/>
<path d="M283 0 A9.7 15.6 0 1 0 302.4 0 A9.7 15.6 0 1 0 283 0Z" fill="#fff"/>
<clipPath id="wc292"><path d="M283 0 A9.7 15.6 0 1 0 302.4 0 A9.7 15.6 0 1 0 283 0Z"/></clipPath>
<g clip-path="url(#wc292)"><path d="M279.3 0 A13.4 21.6 0 1 0 306.1 0 A13.4 21.6 0 1 0 279.3 0Z M279.8 0 A9.7 15.6 0 1 0 299.2 0 A9.7 15.6 0 1 0 279.8 0Z" fill-rule="evenodd" fill="#5c5c5c"/></g>
<path d="M283 0 A9.7 15.6 0 1 0 302.4 0 A9.7 15.6 0 1 0 283 0Z" fill="none" stroke="#444" stroke-width="0.5"/>
<line x1="-3" y1="0" x2="26" y2="0" stroke="#6a6a6a" stroke-width="0.9"/>
<line x1="296" y1="0" x2="330" y2="0" stroke="#6a6a6a" stroke-width="0.9"/>
<path d="M39.5 -17.2 L50.1 -18.2 A11.3 18.2 0 0 1 50.1 18.2 L39.5 17.2 A10.7 17.2 0 0 1 39.5 -17.2Z" fill="url(#cyl)" stroke="#555" stroke-width="0.5"/>
<circle cx="40.3" cy="14.8" r="2.6" fill="url(#ball)" stroke="#6a6a6a" stroke-width="0.5"/>
<circle cx="36.9" cy="13.5" r="2.6" fill="url(#ball)" stroke="#6a6a6a" stroke-width="0.5"/>
<circle cx="34" cy="10.3" r="2.6" fill="url(#ball)" stroke="#6a6a6a" stroke-width="0.5"/>
<circle cx="32.1" cy="5.5" r="2.6" fill="url(#ball)" stroke="#6a6a6a" stroke-width="0.5"/>
<circle cx="31.4" cy="0" r="2.6" fill="url(#ball)" stroke="#6a6a6a" stroke-width="0.5"/>
<circle cx="32.1" cy="-5.5" r="2.6" fill="url(#ball)" stroke="#6a6a6a" stroke-width="0.5"/>
<circle cx="34" cy="-10.3" r="2.6" fill="url(#ball)" stroke="#6a6a6a" stroke-width="0.5"/>
<circle cx="36.9" cy="-13.5" r="2.6" fill="url(#ball)" stroke="#6a6a6a" stroke-width="0.5"/>
<circle cx="40.3" cy="-14.8" r="2.6" fill="url(#ball)" stroke="#6a6a6a" stroke-width="0.5"/>
<path d="M38.8 0 A11.3 18.2 0 1 0 61.4 0 A11.3 18.2 0 1 0 38.8 0Z M40.6 0 A9.5 15.4 0 1 0 59.6 0 A9.5 15.4 0 1 0 40.6 0Z" fill-rule="evenodd" fill="url(#wf)" stroke="#555" stroke-width="0.5"/>
<path d="M40.6 0 A9.5 15.4 0 1 0 59.6 0 A9.5 15.4 0 1 0 40.6 0Z" fill="#6e6e6e" stroke="#444" stroke-width="0.5"/>
<clipPath id="bc1"><path d="M40.6 0 A9.5 15.4 0 1 0 59.6 0 A9.5 15.4 0 1 0 40.6 0Z"/></clipPath>
<g clip-path="url(#bc1)"><path d="M55.3 0 L55 0.9 L54.3 1.6 L53.6 2.2 L53.2 2.8 L53.3 3.6 L53.8 4.7 L54.2 5.9 L54.2 6.8 L53.6 7.4 L52.8 7.4 L52 7.3 L51.5 7.6 L51.4 8.4 L51.4 9.7 L51.4 11 L51 11.9 L50.4 11.9 L49.7 11.3 L49 10.5 L48.5 10.3 L48.1 10.9 L47.8 12.1 L47.3 13.2 L46.8 13.7 L46.3 13.2 L45.8 12.1 L45.5 10.9 L45.1 10.3 L44.6 10.5 L43.9 11.3 L43.2 11.9 L42.6 11.9 L42.2 11 L42.2 9.7 L42.2 8.4 L42.1 7.6 L41.6 7.3 L40.8 7.4 L40 7.4 L39.4 6.8 L39.4 5.9 L39.8 4.7 L40.3 3.6 L40.4 2.8 L40 2.2 L39.3 1.6 L38.6 0.9 L38.3 0 L38.6 -0.9 L39.3 -1.6 L40 -2.2 L40.4 -2.8 L40.3 -3.6 L39.8 -4.7 L39.4 -5.9 L39.4 -6.8 L40 -7.4 L40.8 -7.4 L41.6 -7.3 L42.1 -7.6 L42.2 -8.4 L42.2 -9.7 L42.2 -11 L42.6 -11.9 L43.2 -11.9 L43.9 -11.3 L44.6 -10.5 L45.1 -10.3 L45.5 -10.9 L45.8 -12.1 L46.3 -13.2 L46.8 -13.7 L47.3 -13.2 L47.8 -12.1 L48.1 -10.9 L48.5 -10.3 L49 -10.5 L49.7 -11.3 L50.4 -11.9 L51 -11.9 L51.4 -11 L51.4 -9.7 L51.4 -8.4 L51.5 -7.6 L52 -7.3 L52.8 -7.4 L53.6 -7.4 L54.2 -6.9 L54.2 -5.9 L53.8 -4.7 L53.3 -3.6 L53.2 -2.8 L53.6 -2.2 L54.3 -1.6 L55 -0.9Z" fill="#fff" stroke="#555" stroke-width="0.5"/></g>
<line x1="46.8" y1="0" x2="70.8" y2="0" stroke="#6a6a6a" stroke-width="0.9"/>
<path d="M241.3 -14.6 L252.2 -18.2 A11.3 18.2 0 0 1 252.2 18.2 L241.3 14.6 A9.1 14.6 0 0 1 241.3 -14.6Z" fill="url(#cyl)" stroke="#555" stroke-width="0.5"/>
<ellipse cx="252.2" cy="0" rx="11.3" ry="18.2" fill="#969696" stroke="#555" stroke-width="0.5"/>
<path d="M241.5 0 A10.7 17.3 0 1 0 262.9 0 A10.7 17.3 0 1 0 241.5 0Z" fill="url(#cone)" stroke="#4a4a4a" stroke-width="0.5"/>
<clipPath id="bc2"><path d="M241.5 0 A10.7 17.3 0 1 0 262.9 0 A10.7 17.3 0 1 0 241.5 0Z"/></clipPath>
<g clip-path="url(#bc2)"><path d="M236 0 A8.2 13.2 0 1 0 252.4 0 A8.2 13.2 0 1 0 236 0Z" fill="#808080" stroke="#5a5a5a" stroke-width="0.5"/>
<path d="M251.1 0 L250.9 0.7 L250.4 1.4 L249.9 1.9 L249.6 2.4 L249.7 3.1 L250 4 L250.2 4.9 L250.1 5.7 L249.7 6.2 L249.1 6.3 L248.5 6.4 L248.1 6.6 L248 7.3 L247.9 8.3 L247.8 9.2 L247.5 9.9 L247 10 L246.5 9.6 L245.9 9.2 L245.5 9.1 L245.2 9.5 L244.8 10.3 L244.5 11.1 L244 11.4 L243.5 11.1 L243.2 10.3 L242.8 9.5 L242.5 9.1 L242.1 9.2 L241.5 9.6 L241 10 L240.5 9.9 L240.2 9.2 L240.1 8.3 L240 7.3 L239.9 6.6 L239.5 6.4 L238.9 6.3 L238.3 6.2 L237.9 5.7 L237.8 4.9 L238 4 L238.3 3.1 L238.4 2.4 L238.1 1.9 L237.6 1.4 L237.1 0.7 L236.9 0 L237.1 -0.7 L237.6 -1.4 L238.1 -1.9 L238.4 -2.4 L238.3 -3.1 L238 -4 L237.8 -4.9 L237.9 -5.7 L238.3 -6.2 L238.9 -6.3 L239.5 -6.4 L239.9 -6.6 L240 -7.3 L240.1 -8.3 L240.2 -9.2 L240.5 -9.9 L241 -10 L241.5 -9.6 L242.1 -9.2 L242.5 -9.1 L242.8 -9.5 L243.2 -10.3 L243.5 -11.1 L244 -11.4 L244.5 -11.1 L244.8 -10.3 L245.2 -9.5 L245.5 -9.1 L245.9 -9.2 L246.5 -9.6 L247 -10 L247.5 -9.9 L247.8 -9.2 L247.9 -8.3 L248 -7.3 L248.1 -6.6 L248.5 -6.4 L249.1 -6.3 L249.7 -6.2 L250.1 -5.7 L250.2 -4.9 L250 -4 L249.7 -3.1 L249.6 -2.4 L249.9 -1.9 L250.4 -1.4 L250.9 -0.7Z" fill="#fff" stroke="#555" stroke-width="0.5"/></g>
<circle cx="251.5" cy="-14.1" r="2.3" fill="url(#ball)" stroke="#6a6a6a" stroke-width="0.5"/>
<circle cx="256" cy="-10.5" r="2.3" fill="url(#ball)" stroke="#6a6a6a" stroke-width="0.5"/>
<circle cx="258.6" cy="-3.5" r="2.3" fill="url(#ball)" stroke="#6a6a6a" stroke-width="0.5"/>
<circle cx="258.4" cy="4.6" r="2.3" fill="url(#ball)" stroke="#6a6a6a" stroke-width="0.5"/>
<circle cx="255.5" cy="11.2" r="2.3" fill="url(#ball)" stroke="#6a6a6a" stroke-width="0.5"/>
<circle cx="250.9" cy="14.2" r="2.3" fill="url(#ball)" stroke="#6a6a6a" stroke-width="0.5"/>
<circle cx="246" cy="12.7" r="2.3" fill="url(#ball)" stroke="#6a6a6a" stroke-width="0.5"/>
<circle cx="242.3" cy="7.1" r="2.3" fill="url(#ball)" stroke="#6a6a6a" stroke-width="0.5"/>
<line x1="244.8" y1="0" x2="277.8" y2="0" stroke="#6a6a6a" stroke-width="0.9"/>
<path d="M336.6 -14.2 L340 -14.2 A8.8 14.2 0 0 1 340 14.2 L336.6 14.2 A8.8 14.2 0 0 1 336.6 -14.2Z" fill="url(#cyl)" stroke="#555" stroke-width="0.5"/>
<path d="M331.2 0 A8.8 14.2 0 1 0 348.8 0 A8.8 14.2 0 1 0 331.2 0Z M332.4 0 A7.6 12.3 0 1 0 347.6 0 A7.6 12.3 0 1 0 332.4 0Z" fill-rule="evenodd" fill="url(#wf)" stroke="#555" stroke-width="0.4"/>
<path d="M339.5 -12.8 L344.6 -12.8 A7.9 12.8 0 0 1 344.6 12.8 L339.5 12.8 A7.9 12.8 0 0 1 339.5 -12.8Z" fill="url(#cyl)" stroke="#555" stroke-width="0.5"/>
<ellipse cx="344.6" cy="0" rx="7.9" ry="12.8" fill="url(#wf)" stroke="#555" stroke-width="0.5"/>
<ellipse cx="344.6" cy="0" rx="7.1" ry="11.4" fill="#9a9a9a" stroke="#777" stroke-width="0.3"/>
<path d="M338.3 0 A6.3 10.2 0 1 0 350.9 0 A6.3 10.2 0 1 0 338.3 0Z" fill="url(#inner)" stroke="#4a4a4a" stroke-width="0.5"/>
<clipPath id="nb344"><path d="M338.3 0 A6.3 10.2 0 1 0 350.9 0 A6.3 10.2 0 1 0 338.3 0Z"/></clipPath>
<g clip-path="url(#nb344)"><path d="M330.5 0 A6.1 9.9 0 1 0 342.7 0 A6.1 9.9 0 1 0 330.5 0Z" fill="#fff" stroke="#555" stroke-width="0.6"/>
<path d="M334.3 0 A6.3 10.1 0 1 0 346.9 0 A6.3 10.1 0 1 0 334.3 0Z" fill="none" stroke="#5a5a5a" stroke-width="0.5"/></g>
<line x1="338" y1="0" x2="364" y2="0" stroke="#6a6a6a" stroke-width="0.9"/>
<path d="M375.6 -21.6 L381 -21.6 A13.4 21.6 0 0 1 381 21.6 L375.6 21.6 A13.4 21.6 0 0 1 375.6 -21.6Z" fill="url(#cyl)" stroke="#555" stroke-width="0.5"/>
<path d="M367.6 0 A13.4 21.6 0 1 0 394.4 0 A13.4 21.6 0 1 0 367.6 0Z M370.4 0 A10.6 17.1 0 1 0 391.6 0 A10.6 17.1 0 1 0 370.4 0Z" fill-rule="evenodd" fill="url(#wf)" stroke="#555" stroke-width="0.4"/>
<path d="M380.5 -17.6 L386.6 -17.6 A10.9 17.6 0 0 1 386.6 17.6 L380.5 17.6 A10.9 17.6 0 0 1 380.5 -17.6Z" fill="url(#cyl)" stroke="#555" stroke-width="0.5"/>
<ellipse cx="386.6" cy="0" rx="10.9" ry="17.6" fill="url(#wf)" stroke="#555" stroke-width="0.5"/>
<ellipse cx="386.6" cy="0" rx="9.5" ry="15.4" fill="#9a9a9a" stroke="#777" stroke-width="0.3"/>
<path d="M378 0 A8.6 13.8 0 1 0 395.2 0 A8.6 13.8 0 1 0 378 0Z" fill="url(#inner)" stroke="#4a4a4a" stroke-width="0.5"/>
<clipPath id="nb386"><path d="M378 0 A8.6 13.8 0 1 0 395.2 0 A8.6 13.8 0 1 0 378 0Z"/></clipPath>
<g clip-path="url(#nb386)"><path d="M367.2 0 A8.4 13.5 0 1 0 384 0 A8.4 13.5 0 1 0 367.2 0Z" fill="#fff" stroke="#555" stroke-width="0.6"/>
<path d="M372.6 0 A8.5 13.7 0 1 0 389.6 0 A8.5 13.7 0 1 0 372.6 0Z" fill="none" stroke="#5a5a5a" stroke-width="0.5"/></g>
<line x1="377" y1="0" x2="412" y2="0" stroke="#6a6a6a" stroke-width="0.9"/>
<path d="M420.5 -14.6 L435.8 -14.6 A9.1 14.6 0 0 1 435.8 14.6 L420.5 14.6 A9.1 14.6 0 0 1 420.5 -14.6Z" fill="url(#cyl)" stroke="#555" stroke-width="0.5"/>
<ellipse cx="435.8" cy="0" rx="9.1" ry="14.6" fill="url(#wf)" stroke="#555" stroke-width="0.5"/>
<ellipse cx="435.8" cy="0" rx="7.4" ry="12" fill="#9a9a9a" stroke="#777" stroke-width="0.3"/>
<path d="M429.7 0 A6.1 9.8 0 1 0 441.9 0 A6.1 9.8 0 1 0 429.7 0Z" fill="url(#inner)" stroke="#4a4a4a" stroke-width="0.5"/>
<clipPath id="nb435"><path d="M429.7 0 A6.1 9.8 0 1 0 441.9 0 A6.1 9.8 0 1 0 429.7 0Z"/></clipPath>
<g clip-path="url(#nb435)"><path d="M414.6 0 A5.9 9.5 0 1 0 426.4 0 A5.9 9.5 0 1 0 414.6 0Z" fill="#fff" stroke="#555" stroke-width="0.6"/>
<path d="M422.1 0 A6 9.7 0 1 0 434.2 0 A6 9.7 0 1 0 422.1 0Z" fill="none" stroke="#5a5a5a" stroke-width="0.5"/></g>
<line x1="429" y1="0" x2="463" y2="0" stroke="#6a6a6a" stroke-width="0.9"/>
<line x1="429" y1="0" x2="446" y2="0" stroke="#e8e8e8" stroke-width="0.9" stroke-dasharray="1 1"/>
</g>
<g id="hub" transform="translate(200.0 476.36) rotate(29.37)">
<path d="M90 -28 L99 -28 A17.4 28 0 0 1 99 28 L90 28 A17.4 28 0 0 1 90 -28Z" fill="url(#teeth)" stroke="#555" stroke-width="0.5"/>
<path d="M90 -28 L99 -28 A17.4 28 0 0 1 99 28 L90 28 A17.4 28 0 0 1 90 -28Z" fill="url(#shd)"/>
<path d="M128 -22.6 L186 -22.6 A14 22.6 0 0 1 186 22.6 L128 22.6 A14 22.6 0 0 1 128 -22.6Z" fill="url(#tube)" stroke="#333" stroke-width="0.6"/>
<path d="M99 -28.4 L99.1 -28.9 L98.7 -29.3 L98.2 -30 L97.8 -31 L97.5 -32.5 L97.2 -34.5 L97.2 -36.5 L97.7 -38.2 L99 -39.7 L100.9 -41.2 L102.9 -42.4 L104.8 -43.1 L106.5 -43.4 L108.1 -43.3 L109.6 -42.8 L110.9 -41.9 L111.9 -40.3 L112.8 -38.2 L113.5 -36.1 L114.4 -34.6 L115.5 -33.9 L116.7 -33.6 L117.9 -33.6 L118.9 -34 L119.6 -34.9 L120.2 -36.2 L120.8 -37.6 L121.7 -38.6 L123.2 -39.2 L125.1 -39.5 L127 -39.6 L128.5 -39.3 L129.6 -38.6 L130.5 -37.6 L131.2 -36.3 L131.8 -34.9 L132.1 -33.1 L132 -31.1 L132.1 -29 L132.5 -27.3 L133.4 -25.9 L134.5 -24.8 L135.9 -23.9 L137.5 -23.2 L139.5 -23.3 L141.8 -24.1 L144.1 -24.2 L146 -22.6 L147.5 -18.5 L148.8 -12.7 L149.7 -6.2 L150 0 L149.8 6.2 L149.1 12.6 L147.8 18.5 L146 22.6 L143.1 24.3 L139.3 24.2 L135.6 23.6 L133 23.8 L132.1 25.2 L132.2 27.1 L132.6 29.2 L132.3 31.2 L131.2 33.1 L129.6 35.1 L127.7 36.9 L125.7 38.5 L123.3 39.9 L120.6 41.2 L117.8 42.1 L115.4 42.5 L113.5 42.2 L112 41.4 L110.3 40.3 L108.2 39.3 L105.3 38.5 L101.8 37.7 L98.3 36.8 L95.4 35.7 L93.1 34.3 L91.2 32.6 L89.5 30.9 L88.2 29.4 L87.1 28.2 L86.2 27.1 L85.6 26.1 L85.6 25.4 L86.5 25 L88 24.9 L89.6 24.7 L90.3 24.2 L90 23.4 L89 22.3 L87.8 21.1 L86.7 19.8 L86 18.5 L85.2 17 L84.6 15.5 L84 14 L83.4 12.4 L83 10.7 L82.6 9 L82.2 7.2 L82 5.5 L81.8 3.7 L81.7 1.8 L81.6 0 L81.7 -1.8 L81.8 -3.7 L82 -5.5 L82.2 -7.2 L82.6 -9 L83 -10.7 L83.4 -12.4 L84 -14 L84.6 -15.5 L85.2 -17 L86 -18.5 L86.7 -19.8 L87.6 -21 L88.4 -22.2 L89.4 -23.3 L90.3 -24.2 L91.3 -25.1 L92.4 -25.8 L93.4 -26.5 L94.5 -27 L95.7 -27.5 L97.1 -27.7 L98.3 -28Z" fill="#8c8c8c" stroke="#4a4a4a" stroke-width="0.5"/>
<path d="M81.9 0 A17.1 27.6 0 1 0 116.1 0 A17.1 27.6 0 1 0 81.9 0Z M86 0 A14.5 23.4 0 1 0 115 0 A14.5 23.4 0 1 0 86 0Z" fill-rule="evenodd" fill="#aeaeae"/>
<clipPath id="lfc"><path d="M86 0 A14.5 23.4 0 1 0 115 0 A14.5 23.4 0 1 0 86 0Z"/></clipPath>
<g clip-path="url(#lfc)">
<path d="M86 0 A14.5 23.4 0 1 0 115 0 A14.5 23.4 0 1 0 86 0Z" fill="#7e7e7e"/>
<path d="M96 -24 L108 -26 L116 -14 L108 -6 L100 -8Z" fill="#c8c8c8"/>
<path d="M93 -4 L104 0 L112 12 L104 22 L92 18Z" fill="#bdbdbd"/>
<path d="M100 -9 L108 -6 L104 0 L96 -3Z" fill="#5c5c5c"/>
<path d="M101 -20 Q108 -14 108 -4 M97 4 L108 14 M92 8 L100 20" fill="none" stroke="#333" stroke-width="1"/>
</g>
<path d="M86 0 A14.5 23.4 0 1 0 115 0 A14.5 23.4 0 1 0 86 0Z" fill="none" stroke="#555" stroke-width="0.5"/>
<path d="M114 -28.5 Q122 -30 130 -24.6 L140 -22.6 A14 22.6 0 0 1 140 22.6 L130 23.8 Q124 30.5 113 30.5 A6 29.6 0 0 1 114 -28.5Z" fill="url(#bellV)"/>
<path d="M114 -28.5 Q122 -30 130 -24.6 L140 -22.6 A14 22.6 0 0 1 140 22.6 L130 23.8 Q124 30.5 113 30.5 A6 29.6 0 0 1 114 -28.5Z" fill="url(#bellH)"/>
<ellipse cx="104.5" cy="-38.5" rx="2.6" ry="1.8" fill="#4a4a4a"/>
<ellipse cx="126" cy="-35.5" rx="2.4" ry="1.6" fill="#555"/>
<ellipse cx="113" cy="37.5" rx="2.6" ry="1.8" fill="#505050"/>
<ellipse cx="93.5" cy="29.5" rx="1.8" ry="1.4" fill="#555"/>
<ellipse cx="87.5" cy="17" rx="1.3" ry="1.6" fill="#666"/>
<ellipse cx="124" cy="35" rx="2.4" ry="1.7" fill="#e0e0e0" stroke="#555" stroke-width="0.4"/>
<path d="M98.5 -37.5 L104.8 -42.4 L110.4 -41.2 L113.4 -35 L108 -33 L102 -33.5Z" fill="#a0a0a0" fill-opacity="0.7"/>
<path d="M122 -38 L128.3 -38.6 L131 -34.8 L130.8 -29 L124 -31Z" fill="#a0a0a0" fill-opacity="0.6"/>
<path d="M170 -23 L170.3 -24.8 L170.9 -24.9 L171.8 -24.5 L172.6 -24.7 L173.5 -25.8 L174.5 -27.3 L175.6 -28.9 L176.5 -30.5 L177.2 -32.3 L177.7 -34.2 L178.4 -36.1 L179.6 -37.6 L181.4 -38.8 L183.6 -39.7 L186.1 -40.4 L188.6 -40.9 L191.3 -41.2 L194.3 -41.4 L197.1 -41.2 L199.4 -40.7 L200.8 -39.6 L201.7 -38 L202.5 -36.4 L203.5 -35 L204.9 -34.2 L206.3 -33.7 L207.9 -33.1 L209.6 -32.1 L211.5 -30.4 L213.6 -28.4 L215.5 -26.1 L217 -23.8 L217.8 -21.4 L218.2 -18.9 L218.3 -16.4 L218.3 -13.7 L218.3 -10.9 L218.1 -7.9 L217.8 -5.1 L217.4 -2.4 L216.7 0 L215.9 2.3 L215.2 4.3 L215 6.1 L215.8 7.5 L217.2 8.5 L218.6 9.5 L219.5 10.8 L219.7 12.6 L219.5 14.8 L219.1 16.9 L218.4 18.7 L217.6 20 L216.6 20.9 L215.3 21.9 L213.5 23 L210.8 24.5 L207.5 26.1 L204.3 27.8 L202.1 29.4 L201.5 30.9 L202 32.4 L202.6 33.9 L202.4 35.3 L201.1 36.9 L199.3 38.6 L197.2 40.1 L195.1 40.9 L193 40.9 L190.7 40.3 L188.4 39.4 L186.2 38.4 L184.1 37.3 L182 35.9 L180 34.4 L178 33 L175.9 31.7 L173.9 30.3 L172 28.9 L170.6 27.5 L169.8 26.3 L169.4 25.2 L169.4 23.7 L169.5 21 L170 16.8 L170.8 11.5 L171.6 5.7 L172 0 L171.7 -6.1 L171 -12.7 L170.3 -18.7Z" fill="#878787" stroke="#444" stroke-width="0.5"/>
<path d="M 163.9 -4.8 L 173.4 -20.5 L 180.8 -16.8 L 173.4 0.4 Z" fill="#a9a9a9" stroke="#4e4e4e" stroke-width="0.5" stroke-linejoin="round"/>
<path d="M 167.1 6.0 L 174.7 -1.5 L 183.4 9.3 L 175.8 18.8 Z" fill="#a2a2a2" stroke="#4e4e4e" stroke-width="0.5" stroke-linejoin="round"/>
<path d="M 168.9 22.0 L 174.2 13.5 L 185.2 21.5 L 179.0 31.5 Z" fill="#9a9a9a" stroke="#4e4e4e" stroke-width="0.5" stroke-linejoin="round"/>
<path d="M 173.4 0.4 L 180.8 -16.8 L 182.6 -14.8 L 176.0 0.8 Z M 175.8 18.8 L 183.4 9.3 L 185.3 11.2 L 178.2 20.5 Z" fill="#5e5e5e" />
<path d="M 183.6 33.9 L 191.7 25.7 L 203.6 30.7 L 198.6 40.5 L 189.3 40.6 Z" fill="#8c8c8c" stroke="#4e4e4e" stroke-width="0.5" stroke-linejoin="round"/>
<path d="M 186.0 34.0 L 192.1 27.8 L 200.7 31.2 L 196.9 38.4 Z" fill="#a8a8a8" />
<path d="M 211.6 20.5 L 217.1 10.3 L 221.8 13.6 L 218.1 23.7 Z" fill="#7a7a7a" stroke="#4e4e4e" stroke-width="0.5" stroke-linejoin="round"/>
<path d="M 204.3 -29.3 L 209.8 -30.3 L 216.2 -23.6 L 217.1 -15.4 L 210.4 -20.4 Z" fill="#8a8a8a" stroke="#4e4e4e" stroke-width="0.5" stroke-linejoin="round"/>
<ellipse cx="196.8" cy="34.5" rx="2" ry="1.4" fill="#ececec" stroke="#555" stroke-width="0.4" transform="rotate(-54 196.8 34.5)"/>
<path d="M177.6 0 A18.8 30.4 0 1 0 215.2 0 A18.8 30.4 0 1 0 177.6 0Z M180 0 A16.4 26.4 0 1 0 212.8 0 A16.4 26.4 0 1 0 180 0Z" fill-rule="evenodd" fill="#b4b4b4" stroke="#5a5a5a" stroke-width="0.5"/>
<path d="M180 0 A16.4 26.4 0 1 0 212.8 0 A16.4 26.4 0 1 0 180 0Z" fill="url(#open)" stroke="#444" stroke-width="0.6"/>
<clipPath id="hc"><path d="M180 0 A16.4 26.4 0 1 0 212.8 0 A16.4 26.4 0 1 0 180 0Z"/></clipPath>
<g clip-path="url(#hc)">
<path d="M176.4 0 A16.1 26 0 1 0 208.6 0 A16.1 26 0 1 0 176.4 0Z" fill="none" stroke="#7a7a7a" stroke-width="0.8"/>
<path d="M173.6 0 A15.9 25.6 0 1 0 205.4 0 A15.9 25.6 0 1 0 173.6 0Z" fill="none" stroke="#8c8c8c" stroke-width="0.8"/>
<path d="M171 0 A15.5 25 0 1 0 202 0 A15.5 25 0 1 0 171 0Z" fill="none" stroke="#7e7e7e" stroke-width="0.8"/>
<path d="M167.7 0 A14.3 23 0 1 0 196.3 0 A14.3 23 0 1 0 167.7 0Z" fill="none" stroke="#8e8e8e" stroke-width="0.8"/>
<path d="M165.6 0 A12.4 20 0 1 0 190.4 0 A12.4 20 0 1 0 165.6 0Z" fill="#b0b0b0" stroke="#7a7a7a" stroke-width="0.5"/>
</g>
<path d="M183 -37 L193 -38 L197 -33 L188 -31Z" fill="#b0b0b0" stroke="#555" stroke-width="0.4"/>
<ellipse cx="190" cy="-34.2" rx="1.8" ry="1.4" fill="#f4f4f4"/><ellipse cx="196" cy="-34.5" rx="1.5" ry="1.3" fill="#444"/>
<ellipse cx="181" cy="33.5" rx="1.6" ry="1.2" fill="#555"/>
<line x1="186" y1="0" x2="214" y2="0" stroke="#eee" stroke-width="1" stroke-dasharray="1 0.8"/>
<line x1="186" y1="0.9" x2="214" y2="0.9" stroke="#666" stroke-width="0.5"/>
<line x1="214" y1="0" x2="232" y2="0" stroke="#6a6a6a" stroke-width="0.9"/>
</g>
<g id="lines">
<line x1="328" y1="33" x2="328" y2="334" stroke="#fff" stroke-width="6"/>
<line x1="328.2" y1="32" x2="328.2" y2="334.5" stroke="#2a2a2a" stroke-width="1.4" />
<line x1="327.5" y1="32" x2="583.5" y2="32" stroke="#2a2a2a" stroke-width="1.3" />
<line x1="328" y1="80" x2="452" y2="80" stroke="#2a2a2a" stroke-width="1.3" />
<line x1="302" y1="140" x2="328" y2="140" stroke="#1a1a1a" stroke-width="1.3" />
<line x1="328" y1="249" x2="430" y2="249" stroke="#1a1a1a" stroke-width="1.3" />
<line x1="327.5" y1="334.5" x2="388" y2="334.5" stroke="#1a1a1a" stroke-width="1.3" />
<circle cx="358.4" cy="32" r="9.2" fill="#fff" stroke="#1a1a1a" stroke-width="1.1"/>
<text transform="translate(358.4 36.5) scale(0.86 1)" text-anchor="middle" font-size="13.3" font-weight="bold" fill="#111">8</text>
<circle cx="358.4" cy="80" r="9.2" fill="#fff" stroke="#1a1a1a" stroke-width="1.1"/>
<text transform="translate(358.4 84.5) scale(0.86 1)" text-anchor="middle" font-size="13.3" font-weight="bold" fill="#111">8</text>
<circle cx="302" cy="140" r="9.2" fill="#fff" stroke="#1a1a1a" stroke-width="1.1"/>
<text transform="translate(302 144.5) scale(0.86 1)" text-anchor="middle" font-size="13.3" font-weight="bold" fill="#111">7</text>
<circle cx="358.5" cy="249" r="9.2" fill="#fff" stroke="#1a1a1a" stroke-width="1.1"/>
<text transform="translate(358.5 253.5) scale(0.86 1)" text-anchor="middle" font-size="13.3" font-weight="bold" fill="#111">9</text>
<circle cx="358.5" cy="334.5" r="9.2" fill="#fff" stroke="#1a1a1a" stroke-width="1.1"/>
<text transform="translate(358.5 339) scale(0.84 1)" text-anchor="middle" font-size="13.3" font-weight="bold" fill="#111">10</text>
<line x1="156" y1="295.5" x2="182.5" y2="309" stroke="#1a1a1a" stroke-width="1.4" />
<circle cx="156" cy="295.5" r="9.2" fill="#fff" stroke="#1a1a1a" stroke-width="1.1"/>
<text transform="translate(156 300) scale(0.86 1)" text-anchor="middle" font-size="13.3" font-weight="bold" fill="#111">6</text>
<line x1="0" y1="505" x2="405" y2="732.3" stroke="#1a1a1a" stroke-width="1.4" />
<line x1="405" y1="732.5" x2="450" y2="708.5" stroke="#1a1a1a" stroke-width="1.4" />
<circle cx="428.5" cy="719.5" r="9.2" fill="#fff" stroke="#1a1a1a" stroke-width="1.1"/>
<text transform="translate(428.5 724) scale(0.86 1)" text-anchor="middle" font-size="13.3" font-weight="bold" fill="#111">2</text>
<line x1="182" y1="632" x2="204" y2="619.6" stroke="#1a1a1a" stroke-width="1.4" />
<circle cx="182" cy="632" r="9.2" fill="#fff" stroke="#1a1a1a" stroke-width="1.1"/>
<text transform="translate(182 636.5) scale(0.86 1)" text-anchor="middle" font-size="13.3" font-weight="bold" fill="#111">1</text>
<line x1="0" y1="505" x2="109" y2="444" stroke="#1a1a1a" stroke-width="1.4" />
<circle cx="50" cy="476.5" r="9.2" fill="#fff" stroke="#1a1a1a" stroke-width="1.1"/>
<text transform="translate(50 481) scale(0.86 1)" text-anchor="middle" font-size="13.3" font-weight="bold" fill="#111">5</text>
<line x1="85" y1="552.7" x2="181" y2="498" stroke="#1a1a1a" stroke-width="1.4" />
<circle cx="135" cy="525" r="9.2" fill="#fff" stroke="#1a1a1a" stroke-width="1.1"/>
<text transform="translate(135 529.5) scale(0.86 1)" text-anchor="middle" font-size="13.3" font-weight="bold" fill="#111">3</text>
<line x1="123.8" y1="574.4" x2="222.5" y2="517" stroke="#1a1a1a" stroke-width="1.4" />
<circle cx="173" cy="546" r="9.2" fill="#fff" stroke="#1a1a1a" stroke-width="1.1"/>
<text transform="translate(173 550.5) scale(0.86 1)" text-anchor="middle" font-size="13.3" font-weight="bold" fill="#111">4</text>
<line x1="301.5" y1="674" x2="401.5" y2="617.5" stroke="#1a1a1a" stroke-width="1.4" />
<circle cx="351.5" cy="645.7" r="9.2" fill="#fff" stroke="#1a1a1a" stroke-width="1.1"/>
<text transform="translate(351.5 650.2) scale(0.86 1)" text-anchor="middle" font-size="13.3" font-weight="bold" fill="#111">4</text>
<line x1="342.5" y1="697" x2="439" y2="642.5" stroke="#1a1a1a" stroke-width="1.4" />
<circle cx="391.5" cy="669.6" r="9.2" fill="#fff" stroke="#1a1a1a" stroke-width="1.1"/>
<text transform="translate(391.5 674.1) scale(0.86 1)" text-anchor="middle" font-size="13.3" font-weight="bold" fill="#111">3</text>
<line x1="424" y1="692.5" x2="501" y2="736" stroke="#1a1a1a" stroke-width="1.4" />
<line x1="424" y1="692.5" x2="485" y2="658" stroke="#1a1a1a" stroke-width="1.4" />
<line x1="461" y1="713.3" x2="514" y2="683" stroke="#1a1a1a" stroke-width="1.4" />
<line x1="501" y1="736" x2="562.5" y2="702" stroke="#1a1a1a" stroke-width="1.4" />
<line x1="746.8" y1="40" x2="746.8" y2="62" stroke="#1a1a1a" stroke-width="1.4" />
<circle cx="746.8" cy="39.5" r="9.2" fill="#fff" stroke="#1a1a1a" stroke-width="1.1"/>
<text transform="translate(746.8 44) scale(0.84 1)" text-anchor="middle" font-size="13.3" font-weight="bold" fill="#111">11</text>
<rect x="708.6" y="62" width="76.4" height="214.3" fill="none" stroke="#1a1a1a" stroke-width="1.3"/>
<line x1="854" y1="40" x2="854" y2="72.6" stroke="#1a1a1a" stroke-width="1.4" />
<circle cx="854.1" cy="40" r="9.2" fill="#fff" stroke="#1a1a1a" stroke-width="1.1"/>
<text transform="translate(854.1 44.5) scale(0.84 1)" text-anchor="middle" font-size="13.3" font-weight="bold" fill="#111">12</text>
<line x1="954.3" y1="40" x2="954.3" y2="67.2" stroke="#1a1a1a" stroke-width="1.4" />
<circle cx="954.3" cy="39.5" r="9.2" fill="#fff" stroke="#1a1a1a" stroke-width="1.1"/>
<text transform="translate(954.3 44) scale(0.84 1)" text-anchor="middle" font-size="13.3" font-weight="bold" fill="#111">13</text>
<line x1="932.4" y1="160" x2="932.4" y2="188.7" stroke="#1a1a1a" stroke-width="1.4" />
<circle cx="932.4" cy="159.5" r="9.2" fill="#fff" stroke="#1a1a1a" stroke-width="1.1"/>
<text transform="translate(932.4 164) scale(0.84 1)" text-anchor="middle" font-size="13.3" font-weight="bold" fill="#111">14</text>
<line x1="854.7" y1="312" x2="854.7" y2="334" stroke="#1a1a1a" stroke-width="1.4" />
<circle cx="854.7" cy="312.2" r="9.2" fill="#fff" stroke="#1a1a1a" stroke-width="1.1"/>
<text transform="translate(854.7 316.7) scale(0.84 1)" text-anchor="middle" font-size="13.3" font-weight="bold" fill="#111">15</text>
<rect x="691" y="334" width="331" height="70.2" fill="none" stroke="#1a1a1a" stroke-width="1.3"/>
<path d="M583.8 671 L612 656.8 L690.5 656.8" fill="none" stroke="#222" stroke-width="1.3" stroke-dasharray="3.5 3.4"/>
</g>
<g transform="translate(611.9 640.2)">
<rect x="0.6" y="0.6" width="12.200000000000001" height="12.200000000000001" rx="2" ry="2" fill="#fff" stroke="#333" stroke-width="1.25"/>
<path d="M2.4 3 L4.3 3 L5.3 4.2 L11 4.2 M3 5.5 L4.5 5.5 L5.3 4.2" fill="none" stroke="#111" stroke-width="1.15" stroke-linejoin="round"/>
<text x="6.5" y="10.8" text-anchor="middle" font-size="5.7" font-weight="bold" fill="#111" stroke="#111" stroke-width="0.3">22</text>
</g>
<g transform="translate(627.9 640.2)">
<rect x="0.6" y="0.6" width="12.200000000000001" height="12.200000000000001" rx="2" ry="2" fill="#fff" stroke="#333" stroke-width="1.25"/>
<path d="M2.4 3 L4.3 3 L5.3 4.2 L11 4.2 M3 5.5 L4.5 5.5 L5.3 4.2" fill="none" stroke="#111" stroke-width="1.15" stroke-linejoin="round"/>
<text x="6.5" y="10.8" text-anchor="middle" font-size="5.7" font-weight="bold" fill="#111" stroke="#111" stroke-width="0.3">17</text>
</g>
<text x="645" y="651" font-size="9.9" font-weight="bold" fill="#111" stroke="#111" stroke-width="0.25" textLength="45.4" lengthAdjust="spacingAndGlyphs">18 - 20 N&#183;m</text>
<g transform="translate(899.4 702.1)">
<rect x="0.6" y="0.6" width="12.4" height="11.4" rx="2" ry="2" fill="#fff" stroke="#333" stroke-width="1.25"/>
<path d="M2.4 3 L4.3 3 L5.3 4.2 L11 4.2 M3 5.5 L4.5 5.5 L5.3 4.2" fill="none" stroke="#111" stroke-width="1.15" stroke-linejoin="round"/>
<text x="6.6" y="10.8" text-anchor="middle" font-size="4.9" font-weight="bold" fill="#111" stroke="#111" stroke-width="0.3">17</text>
</g>
<text x="918.8" y="712.3" font-size="9.8" font-weight="bold" fill="#111" stroke="#111" stroke-width="0.25" textLength="94.7" lengthAdjust="spacingAndGlyphs">17 mm hub spanner x 2</text>
<g transform="translate(899.4 723.2)">
<rect x="0.6" y="0.6" width="12.4" height="11.4" rx="2" ry="2" fill="#fff" stroke="#333" stroke-width="1.25"/>
<path d="M2.4 3 L4.3 3 L5.3 4.2 L11 4.2 M3 5.5 L4.5 5.5 L5.3 4.2" fill="none" stroke="#111" stroke-width="1.15" stroke-linejoin="round"/>
<text x="6.6" y="10.8" text-anchor="middle" font-size="4.9" font-weight="bold" fill="#111" stroke="#111" stroke-width="0.3">22</text>
</g>
<text x="918.8" y="733" font-size="9.8" font-weight="bold" fill="#111" stroke="#111" stroke-width="0.25" textLength="80.1" lengthAdjust="spacingAndGlyphs">22 mm hub spanner</text>
<g id="spokes">
<line x1="444" y1="184" x2="398.6" y2="511.5" stroke="#666" stroke-width="1.3"/>
<line x1="439.2" y1="214" x2="436" y2="237.5" stroke="#a4a4a4" stroke-width="2.6"/>
<line x1="439.2" y1="214" x2="436" y2="237.5" stroke="#777" stroke-width="0.5"/>
<line x1="403.2" y1="478" x2="398.6" y2="511.5" stroke="#8a8a8a" stroke-width="2.4"/>
<line x1="403.2" y1="478" x2="398.6" y2="511.5" stroke="#555" stroke-width="0.5"/>
<path d="M397.2 511 L400.2 511.6" stroke="#555" stroke-width="1.2"/>
<line x1="398" y1="516.5" x2="395.2" y2="536.5" stroke="#777" stroke-width="0.8"/>
<path d="M407.9 413 q2.4 -1.8 4.4 0 t4.4 0 M407.6 416.9 q2.4 -1.8 4.4 0 t4.4 0" fill="none" stroke="#555" stroke-width="0.7"/>
<rect x="410.4" y="413.4" width="3.6" height="3" fill="#fff"/>
<line x1="492" y1="187" x2="313.8" y2="460.2" stroke="#666" stroke-width="1.3"/>
<line x1="474" y1="214.6" x2="461" y2="234.6" stroke="#a4a4a4" stroke-width="2.6"/>
<line x1="474" y1="214.6" x2="461" y2="234.6" stroke="#777" stroke-width="0.5"/>
<line x1="337.5" y1="424" x2="313.8" y2="460.2" stroke="#8a8a8a" stroke-width="2.4"/>
<line x1="337.5" y1="424" x2="313.8" y2="460.2" stroke="#555" stroke-width="0.5"/>
<path d="M312.6 459.4 L315.2 461" stroke="#555" stroke-width="1.2"/>
<line x1="308.8" y1="468.2" x2="286.5" y2="503" stroke="#777" stroke-width="0.8"/>
<path d="M357.2 384.8 q2.6 -1.4 4.4 0.5 t4.6 0.5 M355.8 388.2 q2.6 -1.4 4.4 0.5 t4.6 0.5" fill="none" stroke="#555" stroke-width="0.7"/>
<rect x="360" y="385.6" width="3.4" height="2.8" fill="#fff"/>
<line x1="583" y1="47" x2="522" y2="139" stroke="#666" stroke-width="0.9"/>
<line x1="457.3" y1="92" x2="452" y2="130.5" stroke="#666" stroke-width="0.9"/>
<circle cx="452" cy="130.5" r="0.9" fill="#aaa"/><circle cx="451.2" cy="141" r="0.8" fill="#aaa"/>
<g transform="translate(591 34.8) rotate(30)">
<rect x="-3.2" y="-7.6" width="6.4" height="4.6" rx="0.8" fill="#8a8a8a" stroke="#555" stroke-width="0.5"/>
<rect x="-3.4" y="-7.8" width="6.8" height="1.6" rx="0.6" fill="#a6a6a6" stroke="#555" stroke-width="0.4"/>
<rect x="-2.2" y="-3" width="4.4" height="10.4" rx="0.8" fill="url(#nip)" stroke="#555" stroke-width="0.5"/>
</g>
<g transform="translate(459.2 78.4) rotate(6)">
<rect x="-3.2" y="-7.6" width="6.4" height="4.6" rx="0.8" fill="#8a8a8a" stroke="#555" stroke-width="0.5"/>
<rect x="-3.4" y="-7.8" width="6.8" height="1.6" rx="0.6" fill="#a6a6a6" stroke="#555" stroke-width="0.4"/>
<rect x="-2.2" y="-3" width="4.4" height="10.4" rx="0.8" fill="url(#nip)" stroke="#555" stroke-width="0.5"/>
</g>
</g>
<g id="valve">
<path d="M741 92.8 L741.3 85.4 Q741.4 84.2 742.4 84 Q742.2 79.6 743.6 77 Q746 73.6 748.6 77 Q750 79.6 749.9 84 Q751 84.2 751.2 85.4 L751.5 92.8 Q746.2 95.2 741 92.8Z" fill="url(#vh)" stroke="#666" stroke-width="0.4"/>
<path d="M742.4 84.2 Q746 85.6 749.9 84.2" fill="none" stroke="#5e5e5e" stroke-width="0.5"/>
<path d="M738.4 115.4 L738.4 120.8 Q746 126.4 753.8 120.8 L753.8 115.4Z" fill="#7a7a7a"/>
<ellipse cx="746.1" cy="115.4" rx="7.7" ry="3.8" fill="#9a9a9a" stroke="#666" stroke-width="0.4"/>
<path d="M741.2 112.6 L741.2 115.6 Q746 118.4 751 115.6 L751 112.6Z" fill="#808080"/>
<ellipse cx="746.1" cy="112.6" rx="4.9" ry="2.4" fill="#b0b0b0" stroke="#666" stroke-width="0.4"/>
<ellipse cx="746.1" cy="112.8" rx="3.1" ry="1.4" fill="#6a6a6a"/>
<ellipse cx="746" cy="139.6" rx="5.2" ry="2.9" fill="#fff" stroke="#8c8c8c" stroke-width="1.7"/>
<ellipse cx="746" cy="139.6" rx="6.1" ry="3.7" fill="none" stroke="#666" stroke-width="0.4"/>
<g transform="translate(0 1.1)">
<path d="M737.4 162.6 Q738 157.4 746 157.2 Q754 157.6 755.2 163 L754.2 168.2 Q749 172.4 744.6 170.2 L737.8 164.6Z" fill="#808080" stroke="#4a4a4a" stroke-width="0.5"/>
<path d="M738 162.4 Q739 158 746 157.8 Q753.6 158.2 754.6 162.8 Q752 167.6 746 167.4 Q740 166.6 738 162.4Z" fill="#a8a8a8"/>
<ellipse cx="746.4" cy="162.4" rx="4.6" ry="2.3" fill="#f2f2f2" stroke="#444" stroke-width="0.6"/>
</g>
<path d="M745.3 191 L746.9 191 L747.2 194 L748.4 195 L748.4 204.6 L749.6 205.8 L749.6 250 L742.6 250 L742.6 205.8 L743.8 204.6 L743.8 195 L745 194Z" fill="url(#vh)" stroke="#666" stroke-width="0.4"/>
<path d="M743.8 197.4h4.6M743.8 199.8h4.6M743.8 202.2h4.6" stroke="#6a6a6a" stroke-width="0.5"/>
<path d="M742.6 247.6 L749.6 247.6 L756.2 253.6 L756.2 258.2 L747 264 L736.4 258.6 L736.4 254Z" fill="#737373" stroke="#555" stroke-width="0.4"/>
<path d="M742.6 248.6 L749.6 248.6 L756 254 L747 259.4 L736.6 254.2Z" fill="#9c9c9c"/>
<path d="M742.6 205.8 L749.6 205.8" stroke="#666" stroke-width="0.5"/>
</g>
<g id="p12">
<path d="M844.4 81 L853 75.6 L862.8 75.2 L865.6 78 L865.6 84 L855.8 90.4 L847.4 90.4 L844.4 87.4Z" fill="#9e9e9e" stroke="#5a5a5a" stroke-width="0.5" stroke-linejoin="round"/>
<path d="M844.6 81 L853 75.7 L862.7 75.3 L865.4 78 L864.8 80.6 L856.2 85.7 L846.4 85.7Z" fill="#6a6a6a"/>
<path d="M846.4 85.9 L856.2 85.9 L856 90.2 L847.5 90.2 L846 88.8Z" fill="#aaaaaa" fill-opacity="0.6"/>
<rect x="853.3" y="78.4" width="1.5" height="3.4" fill="#a8a8a8"/>
</g>
<g id="p13" transform="translate(954.4 75) rotate(-29.36)">
<path d="M-52.6 -1 Q-53.4 4 -50.6 6.6 L-44.6 6.8 L-44.4 4.4 L-40.4 4.4 L-40.4 0Z" fill="#a2a2a2" stroke="#5a5a5a" stroke-width="0.4"/>
<path d="M-50 -5.6 Q-53.6 -5.2 -53.6 -1.6 Q-53.6 3 -50.4 3.6 L-44.6 3.8 L-44.2 1.6 L-40 1.6 L-40 -4.3 Q-42 -5.6 -45 -5.6Z" fill="#727272" stroke="#5a5a5a" stroke-width="0.4"/>
<path d="M-41 -4.3 L36 -4.3 L36 4.3 L-41 4.3Z" fill="#686868"/>
<path d="M-41 -4.3 L36 -4.3 L36 1.7 L-41 1.7Z" fill="#707070"/>
<path d="M-41 1.7 L36 1.7" stroke="#a2a2a2" stroke-width="0.7"/>
<path d="M-41 -4.3 L36 -4.3" stroke="#5c5c5c" stroke-width="0.5"/>
<g transform="translate(-0.6 1.3)">
<path d="M33 4.3 Q36 6.6 40 6.6 L44.6 6.4 Q47 5.8 47.2 3.4 L47.2 1 L33 1Z" fill="#9a9a9a" stroke="#5a5a5a" stroke-width="0.4"/>
<path d="M33 -5.2 Q35.6 -6.2 39 -6.2 L44 -6.2 Q46.8 -5.8 47.2 -3.2 L42.8 -2.6 L42.4 1 L47.2 1.6 Q47 4 44.4 4.4 L39 4.4 Q35.6 4.2 33 1.8Z" fill="#747474" stroke="#5a5a5a" stroke-width="0.4"/>
</g>
</g>
<g id="p14">
<path d="M837 248.3 L955.6 181.3 L970.3 189.3 L851.7 256.5Z" fill="#fff" stroke="#222" stroke-width="1.05"/>
<path d="M894.6 212.6 C899.6 214.4 895.8 219.8 900.6 221.4 S903.6 225.4 909.4 227.8 L913.6 225.4 C908.4 223.2 911 219.6 906.2 217.6 S904 212.4 899 210.2Z" fill="#fff"/>
<path d="M894.6 212.6 C899.6 214.4 895.8 219.8 900.6 221.4 S903.6 225.4 909.4 227.8 M899 210.2 C904 212.4 901.4 215.6 906.2 217.6 S908.4 223.2 913.6 225.4" fill="none" stroke="#444" stroke-width="0.7"/>
</g>
<g id="p15">
<path d="M702.9 372.1 L709.2 370.5 L715.4 368.9 L721.7 367.4 L728 366 L734.3 364.7 L740.7 363.4 L747 362.2 L753.4 361 L759.7 359.9 L766.1 358.9 L772.5 358 L778.9 357.1 L785.3 356.3 L791.7 355.6 L798.1 354.9 L804.6 354.3 L811 353.8 L817.4 353.4 L823.9 353 L830.3 352.7 L836.8 352.4 L843.2 352.2 L849.7 352.1 L856.2 352.1 L862.6 352.1 L869.1 352.2 L875.5 352.4 L882 352.7 L888.4 353 L894.9 353.4 L901.3 353.8 L907.7 354.4 L914.2 354.9 L920.6 355.6 L927 356.4 L933.4 357.2 L939.8 358 L946.2 359 L952.6 360 L958.9 361.1 L965.3 362.2 L971.6 363.4 L978 364.7 L984.3 366.1 L990.6 367.5 L996.9 369 L1003.1 370.6 L1009.4 372.2 L1007.5 379.3 L1001.3 377.7 L995.1 376.2 L988.9 374.7 L982.7 373.3 L976.5 372 L970.2 370.7 L963.9 369.5 L957.7 368.4 L951.4 367.3 L945.1 366.3 L938.8 365.4 L932.5 364.5 L926.1 363.7 L919.8 363 L913.5 362.3 L907.1 361.7 L900.7 361.2 L894.4 360.8 L888 360.4 L881.7 360.1 L875.3 359.8 L868.9 359.6 L862.5 359.5 L856.2 359.5 L849.8 359.5 L843.4 359.6 L837 359.8 L830.7 360 L824.3 360.4 L817.9 360.7 L811.6 361.2 L805.2 361.7 L798.9 362.3 L792.5 362.9 L786.2 363.7 L779.8 364.5 L773.5 365.3 L767.2 366.2 L760.9 367.2 L754.6 368.3 L748.4 369.4 L742.1 370.6 L735.9 371.9 L729.6 373.2 L723.4 374.7 L717.2 376.1 L711 377.7 L704.8 379.3Z" fill="#505050" stroke="#505050" stroke-width="1.2" stroke-linejoin="round"/>
<path d="M703.6 372.3 L704.5 372.1 L705.4 371.9 L706.2 371.7 L707.1 371.4 L708 371.2 L708.9 371 L709.7 370.8 L710.6 370.5 L711.5 370.3 L712.4 370.1 L713.2 369.9 L714.1 369.7 L715 369.5 L715.9 369.2 L716.7 369 L717.6 368.8 L718.5 368.6 L719.4 368.4 L720.2 368.2 L721.1 368 L722 367.8 L722.9 367.6 L723.7 367.4 L724.6 367.2 L725.5 367 L726.4 366.8 L727.3 366.6 L728.1 366.4 L729 366.2 L729.9 366 L730.8 365.8 L731.7 365.6 L732.5 365.5 L733.4 365.3 L734.3 365.1 L735.2 364.9 L736.1 364.7 L737 364.5 L737.8 364.4 L738.7 364.2 L739.6 364 L740.5 363.8 L741.4 363.6 L742.3 363.5 L743.1 363.3 L744 363.1 L744.9 363 L745.8 362.8 L747 369.3 L746.1 369.4 L745.3 369.6 L744.4 369.8 L743.5 370 L742.6 370.1 L741.8 370.3 L740.9 370.5 L740 370.6 L739.1 370.8 L738.3 371 L737.4 371.2 L736.5 371.4 L735.7 371.5 L734.8 371.7 L733.9 371.9 L733 372.1 L732.2 372.3 L731.3 372.5 L730.4 372.7 L729.6 372.8 L728.7 373 L727.8 373.2 L727 373.4 L726.1 373.6 L725.2 373.8 L724.3 374 L723.5 374.2 L722.6 374.4 L721.7 374.6 L720.9 374.8 L720 375 L719.1 375.2 L718.3 375.4 L717.4 375.7 L716.5 375.9 L715.7 376.1 L714.8 376.3 L714 376.5 L713.1 376.7 L712.2 376.9 L711.4 377.2 L710.5 377.4 L709.6 377.6 L708.8 377.8 L707.9 378 L707 378.3 L706.2 378.5 L705.3 378.7Z" fill="#b2b2b2" />
<path id="arcT" d="M704.1 378.1 A589.2 589.2 0 0 1 1008.2 378.1" fill="none" stroke="none"/>
<path id="arcW" d="M704 377.8 A589.5 589.5 0 0 1 1008.3 377.9" fill="none" stroke="none"/>
<path id="arcU" d="M703.3 375.3 A592.1 592.1 0 0 1 1009 375.3" fill="none" stroke="none"/>
<path id="arcL" d="M704.3 378.8 A588.5 588.5 0 0 1 1008 378.9" fill="none" stroke="none"/>
<g transform="translate(711 373.8) rotate(-14.2)"><path d="M-2.7 2.3 L0 -2.5 L2.7 2.3Z" fill="#111"/></g>
<text font-size="6.1" font-weight="bold" fill="#111"><textPath href="#arcW" startOffset="11.3" textLength="30.4" lengthAdjust="spacingAndGlyphs">WARNING</textPath></text>
<g transform="translate(754.1 364.6) rotate(-9.9)"><rect x="-3.6" y="-2.8" width="7.2" height="5.6" fill="#f4f4f4"/><line x1="0" y1="-2.8" x2="0" y2="2.8" stroke="#505050" stroke-width="0.7"/><path d="M-2.4 -1.2h1.4M-2.4 0h1.4M-2.4 1.2h1.4M1 -1.2h1.4M1 0h1.4M1 1.2h1.4" stroke="#999" stroke-width="0.4"/></g>
<text font-size="7" fill="#f4f4f4"><textPath href="#arcT" startOffset="58.4" textLength="150.6" lengthAdjust="spacingAndGlyphs">&#9632; Disc brake only! &#9632; Max. pressure: 7.5bar / 109psi</textPath></text>
<text font-size="3.5" fill="#f0f0f0"><textPath href="#arcU" startOffset="211.8" textLength="93" lengthAdjust="spacingAndGlyphs">Higher pressure can cause sudden puncture and / or</textPath></text>
<text font-size="3.5" fill="#f0f0f0"><textPath href="#arcL" startOffset="210.9" textLength="90.5" lengthAdjust="spacingAndGlyphs">sudden release of the tire! Serious injury can result.</textPath></text>
<rect x="830.8" y="373.2" width="49" height="13.3" rx="2.6" fill="#555"/>
<text x="833.4" y="379.1" font-size="4.9" fill="#f0f0f0" textLength="43.6" lengthAdjust="spacingAndGlyphs">622&#215;21C  CFRP</text>
<text x="833.4" y="384.9" font-size="4.9" fill="#f0f0f0" textLength="31" lengthAdjust="spacingAndGlyphs">MALAYSIA</text>
<text x="867.4" y="385" font-size="5" font-weight="bold" fill="#fff" textLength="9.6" lengthAdjust="spacingAndGlyphs">VIA</text>
</g>
</g>
</svg>
</body></html>
